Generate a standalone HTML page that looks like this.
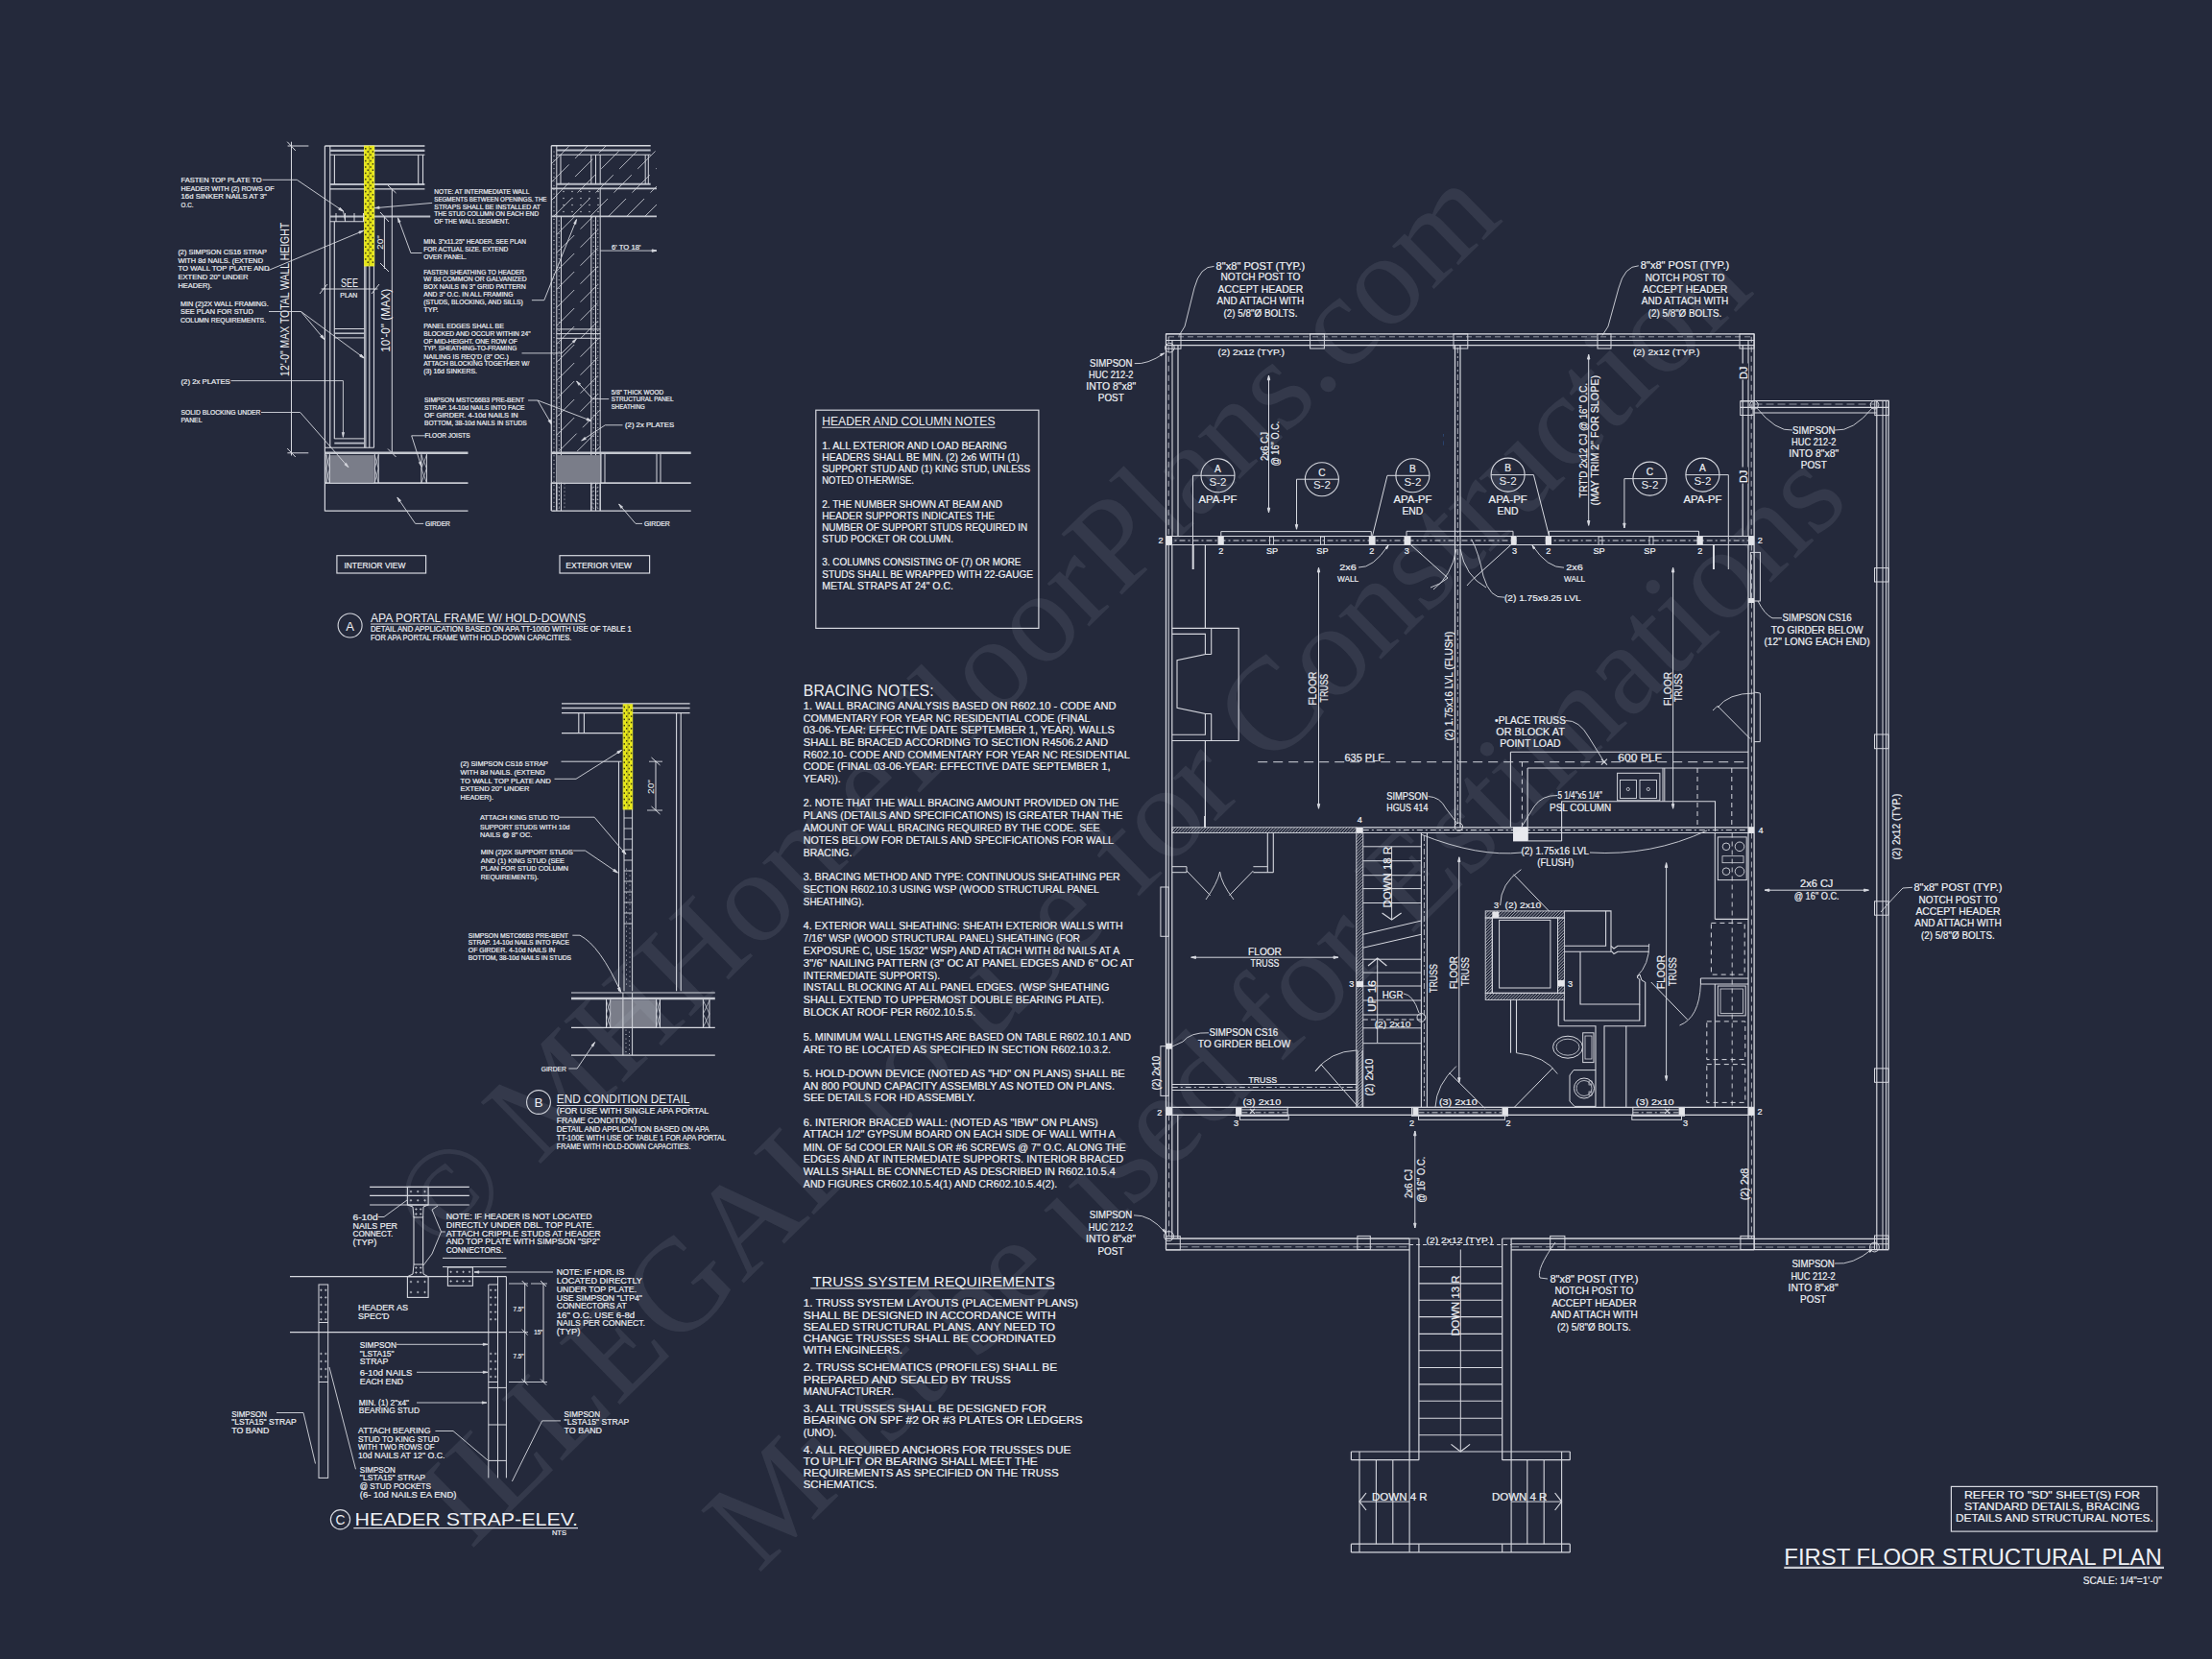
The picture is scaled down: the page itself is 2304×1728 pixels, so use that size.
<!DOCTYPE html>
<html><head><meta charset="utf-8"><style>
html,body{margin:0;padding:0;background:#24293b;}
svg{display:block;}
text{font-family:"Liberation Sans",sans-serif;}
.wm{font-family:"Liberation Serif",serif;}
</style></head><body>
<svg width="2304" height="1728" viewBox="0 0 2304 1728">
<rect width="2304" height="1728" fill="#24293b"/>
<line x1="303.5" y1="147.7" x2="303.5" y2="474.5" stroke="#d6d8df" stroke-width="1.0"/>
<line x1="299.6" y1="152.0" x2="321.4" y2="152.0" stroke="#d6d8df" stroke-width="1.0"/>
<line x1="299.2" y1="147.7" x2="307.8" y2="156.9" stroke="#d6d8df" stroke-width="1.0"/>
<line x1="299.4" y1="471.8" x2="321.3" y2="471.8" stroke="#d6d8df" stroke-width="1.0"/>
<line x1="299.2" y1="467.0" x2="307.8" y2="476.0" stroke="#d6d8df" stroke-width="1.0"/>
<text x="301.0" y="391.9" font-size="12.50" font-weight="400" textLength="160.0" lengthAdjust="spacingAndGlyphs" transform="rotate(-90 301.0 391.9)" fill="#eef0f4">12'-0" MAX TOTAL WALL HEIGHT</text>
<line x1="338.4" y1="152.0" x2="338.4" y2="532.5" stroke="#d6d8df" stroke-width="1.2"/>
<line x1="343.8" y1="152.0" x2="343.8" y2="466.3" stroke="#d6d8df" stroke-width="1.1"/>
<line x1="338.4" y1="152.0" x2="442.4" y2="152.0" stroke="#d6d8df" stroke-width="1.6"/>
<line x1="343.8" y1="156.9" x2="442.4" y2="156.9" stroke="#b8bcc6" stroke-width="2.2"/>
<line x1="343.8" y1="161.2" x2="442.4" y2="161.2" stroke="#d6d8df" stroke-width="1.1"/>
<line x1="343.8" y1="192.1" x2="442.4" y2="192.1" stroke="#b8bcc6" stroke-width="2.0"/>
<line x1="343.8" y1="196.9" x2="442.4" y2="196.9" stroke="#d6d8df" stroke-width="1.1"/>
<line x1="348.4" y1="161.2" x2="348.4" y2="192.1" stroke="#d6d8df" stroke-width="1.1"/>
<line x1="435.7" y1="161.2" x2="435.7" y2="192.1" stroke="#d6d8df" stroke-width="1.1"/>
<line x1="440.5" y1="161.2" x2="440.5" y2="192.1" stroke="#d6d8df" stroke-width="1.1"/>
<line x1="343.8" y1="225.4" x2="448.2" y2="225.4" stroke="#b8bcc6" stroke-width="2.0"/>
<line x1="343.8" y1="230.7" x2="379.0" y2="230.7" stroke="#d6d8df" stroke-width="1.1"/>
<line x1="350.0" y1="222.0" x2="350.0" y2="231.0" stroke="#d6d8df" stroke-width="1.0"/>
<line x1="359.5" y1="222.0" x2="359.5" y2="231.0" stroke="#d6d8df" stroke-width="1.0"/>
<line x1="369.0" y1="222.0" x2="369.0" y2="231.0" stroke="#d6d8df" stroke-width="1.0"/>
<line x1="378.5" y1="222.0" x2="378.5" y2="231.0" stroke="#d6d8df" stroke-width="1.0"/>
<line x1="348.3" y1="230.7" x2="348.3" y2="456.9" stroke="#d6d8df" stroke-width="1.1"/>
<line x1="380.9" y1="230.0" x2="380.9" y2="466.3" stroke="#d6d8df" stroke-width="1.1"/>
<line x1="384.8" y1="277.0" x2="384.8" y2="466.3" stroke="#d6d8df" stroke-width="1.1"/>
<line x1="389.5" y1="152.0" x2="389.5" y2="466.3" stroke="#d6d8df" stroke-width="1.1"/>
<line x1="379.7" y1="277.0" x2="379.7" y2="466.3" stroke="#d6d8df" stroke-width="1.0"/>
<line x1="348.3" y1="342.5" x2="379.5" y2="342.5" stroke="#d6d8df" stroke-width="1.0"/>
<line x1="348.3" y1="347.2" x2="379.5" y2="347.2" stroke="#b8bcc6" stroke-width="1.6"/>
<line x1="348.3" y1="351.9" x2="379.5" y2="351.9" stroke="#d6d8df" stroke-width="1.0"/>
<line x1="348.3" y1="456.9" x2="379.5" y2="456.9" stroke="#d6d8df" stroke-width="1.0"/>
<line x1="348.3" y1="461.6" x2="379.5" y2="461.6" stroke="#b8bcc6" stroke-width="1.8"/>
<line x1="338.4" y1="466.3" x2="389.5" y2="466.3" stroke="#d6d8df" stroke-width="1.1"/>
<line x1="408.3" y1="196.9" x2="408.3" y2="471.8" stroke="#d6d8df" stroke-width="1.0"/>
<line x1="404.0" y1="193.0" x2="412.5" y2="201.0" stroke="#d6d8df" stroke-width="1.0"/>
<line x1="404.0" y1="467.5" x2="412.5" y2="476.0" stroke="#d6d8df" stroke-width="1.0"/>
<text x="406.5" y="366.8" font-size="12.06" font-weight="400" textLength="66.0" lengthAdjust="spacingAndGlyphs" transform="rotate(-90 406.5 366.8)" fill="#eef0f4">10'-0" (MAX)</text>
<line x1="400.4" y1="225.4" x2="400.4" y2="280.0" stroke="#d6d8df" stroke-width="1.0"/>
<line x1="396.0" y1="221.0" x2="405.0" y2="231.0" stroke="#d6d8df" stroke-width="1.0"/>
<line x1="396.0" y1="274.0" x2="405.0" y2="283.0" stroke="#d6d8df" stroke-width="1.0"/>
<text x="398.5" y="260.0" font-size="9.45" font-weight="400" textLength="15.0" lengthAdjust="spacingAndGlyphs" transform="rotate(-90 398.5 260.0)" fill="#eef0f4">20"</text>
<text x="355.0" y="298.6" font-size="11.92" font-weight="400" textLength="18.0" lengthAdjust="spacingAndGlyphs" fill="#eef0f4">SEE</text>
<text x="354.3" y="309.6" font-size="7.27" textLength="18.0" lengthAdjust="spacingAndGlyphs" fill="#eef0f4" stroke="#eef0f4" stroke-width="0.2">PLAN</text>
<line x1="334.7" y1="301.0" x2="393.4" y2="301.0" stroke="#d6d8df" stroke-width="1.0"/>
<line x1="333.0" y1="306.0" x2="341.0" y2="296.0" stroke="#d6d8df" stroke-width="1.0"/>
<line x1="387.0" y1="306.0" x2="395.0" y2="296.0" stroke="#d6d8df" stroke-width="1.0"/>
<line x1="338.6" y1="471.8" x2="487.5" y2="471.8" stroke="#c4c7cf" stroke-width="2.4"/>
<line x1="338.6" y1="503.1" x2="487.5" y2="503.1" stroke="#c4c7cf" stroke-width="1.6"/>
<line x1="338.6" y1="532.1" x2="487.5" y2="532.1" stroke="#d6d8df" stroke-width="1.3"/>
<rect x="343.3" y="474.1" width="46.2" height="28.3" fill="#7a7d89"/>
<line x1="340.0" y1="473.0" x2="340.0" y2="503.0" stroke="#d6d8df" stroke-width="1.0"/>
<line x1="343.3" y1="473.0" x2="343.3" y2="503.0" stroke="#d6d8df" stroke-width="1.0"/>
<line x1="390.3" y1="473.0" x2="390.3" y2="503.0" stroke="#d6d8df" stroke-width="1.0"/>
<line x1="394.2" y1="473.0" x2="394.2" y2="503.0" stroke="#d6d8df" stroke-width="1.0"/>
<line x1="438.9" y1="473.0" x2="438.9" y2="503.0" stroke="#d6d8df" stroke-width="1.0"/>
<line x1="444.4" y1="473.0" x2="444.4" y2="503.0" stroke="#d6d8df" stroke-width="1.0"/>
<line x1="340.0" y1="474.0" x2="343.3" y2="488.0" stroke="#d6d8df" stroke-width="0.7"/>
<line x1="343.3" y1="474.0" x2="340.0" y2="488.0" stroke="#d6d8df" stroke-width="0.7"/>
<line x1="340.0" y1="488.0" x2="343.3" y2="503.0" stroke="#d6d8df" stroke-width="0.7"/>
<line x1="343.3" y1="488.0" x2="340.0" y2="503.0" stroke="#d6d8df" stroke-width="0.7"/>
<line x1="390.3" y1="474.0" x2="394.2" y2="488.0" stroke="#d6d8df" stroke-width="0.7"/>
<line x1="394.2" y1="474.0" x2="390.3" y2="488.0" stroke="#d6d8df" stroke-width="0.7"/>
<line x1="390.3" y1="488.0" x2="394.2" y2="503.0" stroke="#d6d8df" stroke-width="0.7"/>
<line x1="394.2" y1="488.0" x2="390.3" y2="503.0" stroke="#d6d8df" stroke-width="0.7"/>
<line x1="438.9" y1="474.0" x2="444.4" y2="488.0" stroke="#d6d8df" stroke-width="0.7"/>
<line x1="444.4" y1="474.0" x2="438.9" y2="488.0" stroke="#d6d8df" stroke-width="0.7"/>
<line x1="438.9" y1="488.0" x2="444.4" y2="503.0" stroke="#d6d8df" stroke-width="0.7"/>
<line x1="444.4" y1="488.0" x2="438.9" y2="503.0" stroke="#d6d8df" stroke-width="0.7"/>
<rect x="379.4" y="152.0" width="10.4" height="125.0" fill="#e6e619"/>
<rect x="379.4" y="152.0" width="10.4" height="125.0" fill="none" stroke="#f2f23a" stroke-width="0.8"/>
<rect x="380.1" y="154.0" width="1.4" height="1.6" fill="#3a3a10"/>
<rect x="385.3" y="154.0" width="1.4" height="1.6" fill="#3a3a10"/>
<rect x="382.5" y="157.2" width="1.4" height="1.6" fill="#3a3a10"/>
<rect x="387.7" y="157.2" width="1.4" height="1.6" fill="#3a3a10"/>
<rect x="380.1" y="160.4" width="1.4" height="1.6" fill="#3a3a10"/>
<rect x="385.3" y="160.4" width="1.4" height="1.6" fill="#3a3a10"/>
<rect x="382.5" y="163.6" width="1.4" height="1.6" fill="#3a3a10"/>
<rect x="387.7" y="163.6" width="1.4" height="1.6" fill="#3a3a10"/>
<rect x="380.1" y="166.8" width="1.4" height="1.6" fill="#3a3a10"/>
<rect x="385.3" y="166.8" width="1.4" height="1.6" fill="#3a3a10"/>
<rect x="382.5" y="170.0" width="1.4" height="1.6" fill="#3a3a10"/>
<rect x="387.7" y="170.0" width="1.4" height="1.6" fill="#3a3a10"/>
<rect x="380.1" y="173.2" width="1.4" height="1.6" fill="#3a3a10"/>
<rect x="385.3" y="173.2" width="1.4" height="1.6" fill="#3a3a10"/>
<rect x="382.5" y="176.4" width="1.4" height="1.6" fill="#3a3a10"/>
<rect x="387.7" y="176.4" width="1.4" height="1.6" fill="#3a3a10"/>
<rect x="380.1" y="179.6" width="1.4" height="1.6" fill="#3a3a10"/>
<rect x="385.3" y="179.6" width="1.4" height="1.6" fill="#3a3a10"/>
<rect x="382.5" y="182.8" width="1.4" height="1.6" fill="#3a3a10"/>
<rect x="387.7" y="182.8" width="1.4" height="1.6" fill="#3a3a10"/>
<rect x="380.1" y="186.0" width="1.4" height="1.6" fill="#3a3a10"/>
<rect x="385.3" y="186.0" width="1.4" height="1.6" fill="#3a3a10"/>
<rect x="382.5" y="189.2" width="1.4" height="1.6" fill="#3a3a10"/>
<rect x="387.7" y="189.2" width="1.4" height="1.6" fill="#3a3a10"/>
<rect x="380.1" y="192.4" width="1.4" height="1.6" fill="#3a3a10"/>
<rect x="385.3" y="192.4" width="1.4" height="1.6" fill="#3a3a10"/>
<rect x="382.5" y="195.6" width="1.4" height="1.6" fill="#3a3a10"/>
<rect x="387.7" y="195.6" width="1.4" height="1.6" fill="#3a3a10"/>
<rect x="380.1" y="198.8" width="1.4" height="1.6" fill="#3a3a10"/>
<rect x="385.3" y="198.8" width="1.4" height="1.6" fill="#3a3a10"/>
<rect x="382.5" y="202.0" width="1.4" height="1.6" fill="#3a3a10"/>
<rect x="387.7" y="202.0" width="1.4" height="1.6" fill="#3a3a10"/>
<rect x="380.1" y="205.2" width="1.4" height="1.6" fill="#3a3a10"/>
<rect x="385.3" y="205.2" width="1.4" height="1.6" fill="#3a3a10"/>
<rect x="382.5" y="208.4" width="1.4" height="1.6" fill="#3a3a10"/>
<rect x="387.7" y="208.4" width="1.4" height="1.6" fill="#3a3a10"/>
<rect x="380.1" y="211.6" width="1.4" height="1.6" fill="#3a3a10"/>
<rect x="385.3" y="211.6" width="1.4" height="1.6" fill="#3a3a10"/>
<rect x="382.5" y="214.8" width="1.4" height="1.6" fill="#3a3a10"/>
<rect x="387.7" y="214.8" width="1.4" height="1.6" fill="#3a3a10"/>
<rect x="380.1" y="218.0" width="1.4" height="1.6" fill="#3a3a10"/>
<rect x="385.3" y="218.0" width="1.4" height="1.6" fill="#3a3a10"/>
<rect x="382.5" y="221.2" width="1.4" height="1.6" fill="#3a3a10"/>
<rect x="387.7" y="221.2" width="1.4" height="1.6" fill="#3a3a10"/>
<rect x="380.1" y="224.4" width="1.4" height="1.6" fill="#3a3a10"/>
<rect x="385.3" y="224.4" width="1.4" height="1.6" fill="#3a3a10"/>
<rect x="382.5" y="227.6" width="1.4" height="1.6" fill="#3a3a10"/>
<rect x="387.7" y="227.6" width="1.4" height="1.6" fill="#3a3a10"/>
<rect x="380.1" y="230.8" width="1.4" height="1.6" fill="#3a3a10"/>
<rect x="385.3" y="230.8" width="1.4" height="1.6" fill="#3a3a10"/>
<rect x="382.5" y="234.0" width="1.4" height="1.6" fill="#3a3a10"/>
<rect x="387.7" y="234.0" width="1.4" height="1.6" fill="#3a3a10"/>
<rect x="380.1" y="237.2" width="1.4" height="1.6" fill="#3a3a10"/>
<rect x="385.3" y="237.2" width="1.4" height="1.6" fill="#3a3a10"/>
<rect x="382.5" y="240.4" width="1.4" height="1.6" fill="#3a3a10"/>
<rect x="387.7" y="240.4" width="1.4" height="1.6" fill="#3a3a10"/>
<rect x="380.1" y="243.6" width="1.4" height="1.6" fill="#3a3a10"/>
<rect x="385.3" y="243.6" width="1.4" height="1.6" fill="#3a3a10"/>
<rect x="382.5" y="246.8" width="1.4" height="1.6" fill="#3a3a10"/>
<rect x="387.7" y="246.8" width="1.4" height="1.6" fill="#3a3a10"/>
<rect x="380.1" y="250.0" width="1.4" height="1.6" fill="#3a3a10"/>
<rect x="385.3" y="250.0" width="1.4" height="1.6" fill="#3a3a10"/>
<rect x="382.5" y="253.2" width="1.4" height="1.6" fill="#3a3a10"/>
<rect x="387.7" y="253.2" width="1.4" height="1.6" fill="#3a3a10"/>
<rect x="380.1" y="256.4" width="1.4" height="1.6" fill="#3a3a10"/>
<rect x="385.3" y="256.4" width="1.4" height="1.6" fill="#3a3a10"/>
<rect x="382.5" y="259.6" width="1.4" height="1.6" fill="#3a3a10"/>
<rect x="387.7" y="259.6" width="1.4" height="1.6" fill="#3a3a10"/>
<rect x="380.1" y="262.8" width="1.4" height="1.6" fill="#3a3a10"/>
<rect x="385.3" y="262.8" width="1.4" height="1.6" fill="#3a3a10"/>
<rect x="382.5" y="266.0" width="1.4" height="1.6" fill="#3a3a10"/>
<rect x="387.7" y="266.0" width="1.4" height="1.6" fill="#3a3a10"/>
<rect x="380.1" y="269.2" width="1.4" height="1.6" fill="#3a3a10"/>
<rect x="385.3" y="269.2" width="1.4" height="1.6" fill="#3a3a10"/>
<rect x="382.5" y="272.4" width="1.4" height="1.6" fill="#3a3a10"/>
<rect x="387.7" y="272.4" width="1.4" height="1.6" fill="#3a3a10"/>
<line x1="384.6" y1="152.0" x2="384.6" y2="277.0" stroke="#8a8a20" stroke-width="0.6"/>
<polyline points="273.5,187.3 309.3,187.3 357.5,220.0" fill="none" stroke="#d6d8df" stroke-width="0.9"/>
<line x1="357.5" y1="220.0" x2="359.5" y2="230.0" stroke="#d6d8df" stroke-width="0.9"/>
<polygon points="352.8,218.3 357.5,220.0 354.2,216.3" fill="#d6d8df" stroke="#d6d8df" stroke-width="1.0"/>
<polyline points="450.1,211.4 390.3,216.7" fill="none" stroke="#d6d8df" stroke-width="0.9"/>
<polygon points="395.0,215.0 390.3,216.7 395.2,217.5" fill="#d6d8df" stroke="#d6d8df" stroke-width="0.6"/>
<polyline points="439.5,263.5 427.9,263.5 414.4,226.8" fill="none" stroke="#d6d8df" stroke-width="0.9"/>
<polygon points="417.2,230.9 414.4,226.8 414.9,231.8" fill="#d6d8df" stroke="#d6d8df" stroke-width="0.6"/>
<polyline points="279.0,281.8 378.7,240.3" fill="none" stroke="#d6d8df" stroke-width="0.9"/>
<polygon points="374.7,243.3 378.7,240.3 373.8,241.0" fill="#d6d8df" stroke="#d6d8df" stroke-width="0.6"/>
<polyline points="280.0,324.5 313.5,324.5 337.8,353.5" fill="none" stroke="#d6d8df" stroke-width="0.9"/>
<polygon points="333.7,350.6 337.8,353.5 335.6,349.0" fill="#d6d8df" stroke="#d6d8df" stroke-width="1.0"/>
<line x1="313.5" y1="324.5" x2="379.3" y2="373.0" stroke="#d6d8df" stroke-width="0.9"/>
<polygon points="374.7,371.1 379.3,373.0 376.1,369.1" fill="#d6d8df" stroke="#d6d8df" stroke-width="1.0"/>
<polyline points="240.5,396.6 357.4,396.6 357.4,455.3" fill="none" stroke="#d6d8df" stroke-width="0.9"/>
<polygon points="356.2,450.5 357.4,455.3 358.6,450.5" fill="#d6d8df" stroke="#d6d8df" stroke-width="0.6"/>
<polyline points="272.0,429.5 312.7,429.5 362.9,486.7" fill="none" stroke="#d6d8df" stroke-width="0.9"/>
<polygon points="358.8,483.9 362.9,486.7 360.6,482.2" fill="#d6d8df" stroke="#d6d8df" stroke-width="0.6"/>
<polyline points="442.8,453.8 428.7,453.8 438.9,485.9" fill="none" stroke="#d6d8df" stroke-width="0.9"/>
<polygon points="436.3,481.7 438.9,485.9 438.6,480.9" fill="#d6d8df" stroke="#d6d8df" stroke-width="0.6"/>
<polyline points="441.2,545.4 432.6,545.4 413.8,518.0" fill="none" stroke="#d6d8df" stroke-width="0.9"/>
<polygon points="417.6,521.3 413.8,518.0 415.5,522.7" fill="#d6d8df" stroke="#d6d8df" stroke-width="0.6"/>
<line x1="574.3" y1="151.8" x2="574.3" y2="532.1" stroke="#d6d8df" stroke-width="1.2"/>
<line x1="579.8" y1="151.8" x2="579.8" y2="532.1" stroke="#d6d8df" stroke-width="1.0"/>
<line x1="574.3" y1="151.8" x2="677.7" y2="151.8" stroke="#d6d8df" stroke-width="1.4"/>
<line x1="579.8" y1="156.4" x2="677.7" y2="156.4" stroke="#b8bcc6" stroke-width="2.0"/>
<line x1="579.8" y1="161.2" x2="677.7" y2="161.2" stroke="#d6d8df" stroke-width="1.0"/>
<line x1="579.8" y1="191.7" x2="677.7" y2="191.7" stroke="#b8bcc6" stroke-width="2.0"/>
<line x1="584.0" y1="161.2" x2="584.0" y2="191.7" stroke="#d6d8df" stroke-width="1.0"/>
<line x1="615.8" y1="161.2" x2="615.8" y2="191.7" stroke="#d6d8df" stroke-width="1.0"/>
<line x1="620.5" y1="161.2" x2="620.5" y2="191.7" stroke="#d6d8df" stroke-width="1.0"/>
<line x1="625.2" y1="161.2" x2="625.2" y2="191.7" stroke="#d6d8df" stroke-width="1.0"/>
<line x1="672.2" y1="161.2" x2="672.2" y2="191.7" stroke="#d6d8df" stroke-width="1.0"/>
<line x1="675.3" y1="161.2" x2="675.3" y2="191.7" stroke="#d6d8df" stroke-width="1.0"/>
<line x1="574.3" y1="196.4" x2="684.0" y2="196.4" stroke="#c4c7cf" stroke-width="1.6"/>
<line x1="574.3" y1="225.4" x2="684.0" y2="225.4" stroke="#c4c7cf" stroke-width="1.8"/>
<line x1="625.2" y1="196.4" x2="625.2" y2="225.4" stroke="#d6d8df" stroke-width="1.0"/>
<line x1="584.5" y1="225.4" x2="584.5" y2="532.1" stroke="#d6d8df" stroke-width="1.0"/>
<line x1="615.8" y1="225.4" x2="615.8" y2="532.1" stroke="#d6d8df" stroke-width="1.0"/>
<line x1="620.5" y1="225.4" x2="620.5" y2="532.1" stroke="#d6d8df" stroke-width="1.0"/>
<line x1="625.2" y1="225.4" x2="625.2" y2="532.1" stroke="#d6d8df" stroke-width="1.0"/>
<line x1="579.8" y1="342.9" x2="625.2" y2="342.9" stroke="#d6d8df" stroke-width="1.0"/>
<line x1="579.8" y1="347.6" x2="625.2" y2="347.6" stroke="#d6d8df" stroke-width="1.0"/>
<line x1="579.8" y1="352.3" x2="625.2" y2="352.3" stroke="#d6d8df" stroke-width="1.0"/>
<circle cx="587" cy="199.5" r="0.7" fill="#d6d8df"/>
<circle cx="596" cy="199.5" r="0.7" fill="#d6d8df"/>
<circle cx="605" cy="199.5" r="0.7" fill="#d6d8df"/>
<circle cx="614" cy="199.5" r="0.7" fill="#d6d8df"/>
<circle cx="623" cy="199.5" r="0.7" fill="#d6d8df"/>
<circle cx="587" cy="206.5" r="0.7" fill="#d6d8df"/>
<circle cx="596" cy="206.5" r="0.7" fill="#d6d8df"/>
<circle cx="605" cy="206.5" r="0.7" fill="#d6d8df"/>
<circle cx="614" cy="206.5" r="0.7" fill="#d6d8df"/>
<circle cx="623" cy="206.5" r="0.7" fill="#d6d8df"/>
<circle cx="587" cy="213.5" r="0.7" fill="#d6d8df"/>
<circle cx="596" cy="213.5" r="0.7" fill="#d6d8df"/>
<circle cx="605" cy="213.5" r="0.7" fill="#d6d8df"/>
<circle cx="614" cy="213.5" r="0.7" fill="#d6d8df"/>
<circle cx="623" cy="213.5" r="0.7" fill="#d6d8df"/>
<circle cx="587" cy="220.5" r="0.7" fill="#d6d8df"/>
<circle cx="596" cy="220.5" r="0.7" fill="#d6d8df"/>
<circle cx="605" cy="220.5" r="0.7" fill="#d6d8df"/>
<circle cx="614" cy="220.5" r="0.7" fill="#d6d8df"/>
<circle cx="623" cy="220.5" r="0.7" fill="#d6d8df"/>
<circle cx="577.0" cy="158.0" r="0.55" fill="#d6d8df"/>
<circle cx="577.0" cy="162.4" r="0.55" fill="#d6d8df"/>
<circle cx="577.0" cy="166.8" r="0.55" fill="#d6d8df"/>
<circle cx="577.0" cy="171.2" r="0.55" fill="#d6d8df"/>
<circle cx="577.0" cy="175.6" r="0.55" fill="#d6d8df"/>
<circle cx="577.0" cy="180.0" r="0.55" fill="#d6d8df"/>
<circle cx="577.0" cy="184.4" r="0.55" fill="#d6d8df"/>
<circle cx="577.0" cy="188.8" r="0.55" fill="#d6d8df"/>
<circle cx="577.0" cy="193.2" r="0.55" fill="#d6d8df"/>
<circle cx="577.0" cy="197.6" r="0.55" fill="#d6d8df"/>
<circle cx="577.0" cy="202.0" r="0.55" fill="#d6d8df"/>
<circle cx="577.0" cy="206.4" r="0.55" fill="#d6d8df"/>
<circle cx="577.0" cy="210.8" r="0.55" fill="#d6d8df"/>
<circle cx="577.0" cy="215.2" r="0.55" fill="#d6d8df"/>
<circle cx="577.0" cy="219.6" r="0.55" fill="#d6d8df"/>
<circle cx="577.0" cy="224.0" r="0.55" fill="#d6d8df"/>
<circle cx="577.0" cy="228.4" r="0.55" fill="#d6d8df"/>
<circle cx="577.0" cy="232.8" r="0.55" fill="#d6d8df"/>
<circle cx="577.0" cy="237.2" r="0.55" fill="#d6d8df"/>
<circle cx="577.0" cy="241.6" r="0.55" fill="#d6d8df"/>
<circle cx="577.0" cy="246.0" r="0.55" fill="#d6d8df"/>
<circle cx="577.0" cy="250.4" r="0.55" fill="#d6d8df"/>
<circle cx="577.0" cy="254.8" r="0.55" fill="#d6d8df"/>
<circle cx="577.0" cy="259.2" r="0.55" fill="#d6d8df"/>
<circle cx="577.0" cy="263.6" r="0.55" fill="#d6d8df"/>
<circle cx="577.0" cy="268.0" r="0.55" fill="#d6d8df"/>
<circle cx="577.0" cy="272.4" r="0.55" fill="#d6d8df"/>
<circle cx="577.0" cy="276.8" r="0.55" fill="#d6d8df"/>
<circle cx="577.0" cy="281.2" r="0.55" fill="#d6d8df"/>
<circle cx="577.0" cy="285.6" r="0.55" fill="#d6d8df"/>
<circle cx="577.0" cy="290.0" r="0.55" fill="#d6d8df"/>
<circle cx="577.0" cy="294.4" r="0.55" fill="#d6d8df"/>
<circle cx="577.0" cy="298.8" r="0.55" fill="#d6d8df"/>
<circle cx="577.0" cy="303.2" r="0.55" fill="#d6d8df"/>
<circle cx="577.0" cy="307.6" r="0.55" fill="#d6d8df"/>
<circle cx="577.0" cy="312.0" r="0.55" fill="#d6d8df"/>
<circle cx="577.0" cy="316.4" r="0.55" fill="#d6d8df"/>
<circle cx="577.0" cy="320.8" r="0.55" fill="#d6d8df"/>
<circle cx="577.0" cy="325.2" r="0.55" fill="#d6d8df"/>
<circle cx="577.0" cy="329.6" r="0.55" fill="#d6d8df"/>
<circle cx="577.0" cy="334.0" r="0.55" fill="#d6d8df"/>
<circle cx="577.0" cy="338.4" r="0.55" fill="#d6d8df"/>
<circle cx="577.0" cy="342.8" r="0.55" fill="#d6d8df"/>
<circle cx="577.0" cy="347.2" r="0.55" fill="#d6d8df"/>
<circle cx="577.0" cy="351.6" r="0.55" fill="#d6d8df"/>
<circle cx="577.0" cy="356.0" r="0.55" fill="#d6d8df"/>
<circle cx="577.0" cy="360.4" r="0.55" fill="#d6d8df"/>
<circle cx="577.0" cy="364.8" r="0.55" fill="#d6d8df"/>
<circle cx="577.0" cy="369.2" r="0.55" fill="#d6d8df"/>
<circle cx="577.0" cy="373.6" r="0.55" fill="#d6d8df"/>
<circle cx="577.0" cy="378.0" r="0.55" fill="#d6d8df"/>
<circle cx="577.0" cy="382.4" r="0.55" fill="#d6d8df"/>
<circle cx="577.0" cy="386.8" r="0.55" fill="#d6d8df"/>
<circle cx="577.0" cy="391.2" r="0.55" fill="#d6d8df"/>
<circle cx="577.0" cy="395.6" r="0.55" fill="#d6d8df"/>
<circle cx="577.0" cy="400.0" r="0.55" fill="#d6d8df"/>
<circle cx="577.0" cy="404.4" r="0.55" fill="#d6d8df"/>
<circle cx="577.0" cy="408.8" r="0.55" fill="#d6d8df"/>
<circle cx="577.0" cy="413.2" r="0.55" fill="#d6d8df"/>
<circle cx="577.0" cy="417.6" r="0.55" fill="#d6d8df"/>
<circle cx="577.0" cy="422.0" r="0.55" fill="#d6d8df"/>
<circle cx="577.0" cy="426.4" r="0.55" fill="#d6d8df"/>
<circle cx="577.0" cy="430.8" r="0.55" fill="#d6d8df"/>
<circle cx="577.0" cy="435.2" r="0.55" fill="#d6d8df"/>
<circle cx="577.0" cy="439.6" r="0.55" fill="#d6d8df"/>
<circle cx="577.0" cy="444.0" r="0.55" fill="#d6d8df"/>
<circle cx="577.0" cy="448.4" r="0.55" fill="#d6d8df"/>
<circle cx="577.0" cy="452.8" r="0.55" fill="#d6d8df"/>
<circle cx="577.0" cy="457.2" r="0.55" fill="#d6d8df"/>
<circle cx="577.0" cy="461.6" r="0.55" fill="#d6d8df"/>
<circle cx="577.0" cy="466.0" r="0.55" fill="#d6d8df"/>
<circle cx="577.0" cy="470.4" r="0.55" fill="#d6d8df"/>
<circle cx="577.0" cy="474.8" r="0.55" fill="#d6d8df"/>
<circle cx="577.0" cy="479.2" r="0.55" fill="#d6d8df"/>
<circle cx="577.0" cy="483.6" r="0.55" fill="#d6d8df"/>
<circle cx="577.0" cy="488.0" r="0.55" fill="#d6d8df"/>
<circle cx="577.0" cy="492.4" r="0.55" fill="#d6d8df"/>
<circle cx="577.0" cy="496.8" r="0.55" fill="#d6d8df"/>
<circle cx="577.0" cy="501.2" r="0.55" fill="#d6d8df"/>
<circle cx="577.0" cy="505.6" r="0.55" fill="#d6d8df"/>
<circle cx="577.0" cy="510.0" r="0.55" fill="#d6d8df"/>
<circle cx="577.0" cy="514.4" r="0.55" fill="#d6d8df"/>
<circle cx="577.0" cy="518.8" r="0.55" fill="#d6d8df"/>
<circle cx="577.0" cy="523.2" r="0.55" fill="#d6d8df"/>
<circle cx="577.0" cy="527.6" r="0.55" fill="#d6d8df"/>
<circle cx="577.0" cy="532.0" r="0.55" fill="#d6d8df"/>
<circle cx="582.2" cy="230.0" r="0.55" fill="#d6d8df"/>
<circle cx="582.2" cy="234.4" r="0.55" fill="#d6d8df"/>
<circle cx="582.2" cy="238.8" r="0.55" fill="#d6d8df"/>
<circle cx="582.2" cy="243.2" r="0.55" fill="#d6d8df"/>
<circle cx="582.2" cy="247.6" r="0.55" fill="#d6d8df"/>
<circle cx="582.2" cy="252.0" r="0.55" fill="#d6d8df"/>
<circle cx="582.2" cy="256.4" r="0.55" fill="#d6d8df"/>
<circle cx="582.2" cy="260.8" r="0.55" fill="#d6d8df"/>
<circle cx="582.2" cy="265.2" r="0.55" fill="#d6d8df"/>
<circle cx="582.2" cy="269.6" r="0.55" fill="#d6d8df"/>
<circle cx="582.2" cy="274.0" r="0.55" fill="#d6d8df"/>
<circle cx="582.2" cy="278.4" r="0.55" fill="#d6d8df"/>
<circle cx="582.2" cy="282.8" r="0.55" fill="#d6d8df"/>
<circle cx="582.2" cy="287.2" r="0.55" fill="#d6d8df"/>
<circle cx="582.2" cy="291.6" r="0.55" fill="#d6d8df"/>
<circle cx="582.2" cy="296.0" r="0.55" fill="#d6d8df"/>
<circle cx="582.2" cy="300.4" r="0.55" fill="#d6d8df"/>
<circle cx="582.2" cy="304.8" r="0.55" fill="#d6d8df"/>
<circle cx="582.2" cy="309.2" r="0.55" fill="#d6d8df"/>
<circle cx="582.2" cy="313.6" r="0.55" fill="#d6d8df"/>
<circle cx="582.2" cy="318.0" r="0.55" fill="#d6d8df"/>
<circle cx="582.2" cy="322.4" r="0.55" fill="#d6d8df"/>
<circle cx="582.2" cy="326.8" r="0.55" fill="#d6d8df"/>
<circle cx="582.2" cy="331.2" r="0.55" fill="#d6d8df"/>
<circle cx="582.2" cy="335.6" r="0.55" fill="#d6d8df"/>
<circle cx="582.2" cy="340.0" r="0.55" fill="#d6d8df"/>
<circle cx="582.2" cy="344.4" r="0.55" fill="#d6d8df"/>
<circle cx="582.2" cy="348.8" r="0.55" fill="#d6d8df"/>
<circle cx="582.2" cy="353.2" r="0.55" fill="#d6d8df"/>
<circle cx="582.2" cy="357.6" r="0.55" fill="#d6d8df"/>
<circle cx="582.2" cy="362.0" r="0.55" fill="#d6d8df"/>
<circle cx="582.2" cy="366.4" r="0.55" fill="#d6d8df"/>
<circle cx="582.2" cy="370.8" r="0.55" fill="#d6d8df"/>
<circle cx="582.2" cy="375.2" r="0.55" fill="#d6d8df"/>
<circle cx="582.2" cy="379.6" r="0.55" fill="#d6d8df"/>
<circle cx="582.2" cy="384.0" r="0.55" fill="#d6d8df"/>
<circle cx="582.2" cy="388.4" r="0.55" fill="#d6d8df"/>
<circle cx="582.2" cy="392.8" r="0.55" fill="#d6d8df"/>
<circle cx="582.2" cy="397.2" r="0.55" fill="#d6d8df"/>
<circle cx="582.2" cy="401.6" r="0.55" fill="#d6d8df"/>
<circle cx="582.2" cy="406.0" r="0.55" fill="#d6d8df"/>
<circle cx="582.2" cy="410.4" r="0.55" fill="#d6d8df"/>
<circle cx="582.2" cy="414.8" r="0.55" fill="#d6d8df"/>
<circle cx="582.2" cy="419.2" r="0.55" fill="#d6d8df"/>
<circle cx="582.2" cy="423.6" r="0.55" fill="#d6d8df"/>
<circle cx="582.2" cy="428.0" r="0.55" fill="#d6d8df"/>
<circle cx="582.2" cy="432.4" r="0.55" fill="#d6d8df"/>
<circle cx="582.2" cy="436.8" r="0.55" fill="#d6d8df"/>
<circle cx="582.2" cy="441.2" r="0.55" fill="#d6d8df"/>
<circle cx="582.2" cy="445.6" r="0.55" fill="#d6d8df"/>
<circle cx="582.2" cy="450.0" r="0.55" fill="#d6d8df"/>
<circle cx="582.2" cy="454.4" r="0.55" fill="#d6d8df"/>
<circle cx="582.2" cy="458.8" r="0.55" fill="#d6d8df"/>
<circle cx="582.2" cy="463.2" r="0.55" fill="#d6d8df"/>
<circle cx="582.2" cy="467.6" r="0.55" fill="#d6d8df"/>
<circle cx="582.2" cy="472.0" r="0.55" fill="#d6d8df"/>
<circle cx="582.2" cy="476.4" r="0.55" fill="#d6d8df"/>
<circle cx="582.2" cy="480.8" r="0.55" fill="#d6d8df"/>
<circle cx="582.2" cy="485.2" r="0.55" fill="#d6d8df"/>
<circle cx="582.2" cy="489.6" r="0.55" fill="#d6d8df"/>
<circle cx="582.2" cy="494.0" r="0.55" fill="#d6d8df"/>
<circle cx="582.2" cy="498.4" r="0.55" fill="#d6d8df"/>
<circle cx="582.2" cy="502.8" r="0.55" fill="#d6d8df"/>
<circle cx="582.2" cy="507.2" r="0.55" fill="#d6d8df"/>
<circle cx="582.2" cy="511.6" r="0.55" fill="#d6d8df"/>
<circle cx="582.2" cy="516.0" r="0.55" fill="#d6d8df"/>
<circle cx="582.2" cy="520.4" r="0.55" fill="#d6d8df"/>
<circle cx="582.2" cy="524.8" r="0.55" fill="#d6d8df"/>
<circle cx="582.2" cy="529.2" r="0.55" fill="#d6d8df"/>
<circle cx="618.2" cy="230.0" r="0.55" fill="#d6d8df"/>
<circle cx="618.2" cy="234.4" r="0.55" fill="#d6d8df"/>
<circle cx="618.2" cy="238.8" r="0.55" fill="#d6d8df"/>
<circle cx="618.2" cy="243.2" r="0.55" fill="#d6d8df"/>
<circle cx="618.2" cy="247.6" r="0.55" fill="#d6d8df"/>
<circle cx="618.2" cy="252.0" r="0.55" fill="#d6d8df"/>
<circle cx="618.2" cy="256.4" r="0.55" fill="#d6d8df"/>
<circle cx="618.2" cy="260.8" r="0.55" fill="#d6d8df"/>
<circle cx="618.2" cy="265.2" r="0.55" fill="#d6d8df"/>
<circle cx="618.2" cy="269.6" r="0.55" fill="#d6d8df"/>
<circle cx="618.2" cy="274.0" r="0.55" fill="#d6d8df"/>
<circle cx="618.2" cy="278.4" r="0.55" fill="#d6d8df"/>
<circle cx="618.2" cy="282.8" r="0.55" fill="#d6d8df"/>
<circle cx="618.2" cy="287.2" r="0.55" fill="#d6d8df"/>
<circle cx="618.2" cy="291.6" r="0.55" fill="#d6d8df"/>
<circle cx="618.2" cy="296.0" r="0.55" fill="#d6d8df"/>
<circle cx="618.2" cy="300.4" r="0.55" fill="#d6d8df"/>
<circle cx="618.2" cy="304.8" r="0.55" fill="#d6d8df"/>
<circle cx="618.2" cy="309.2" r="0.55" fill="#d6d8df"/>
<circle cx="618.2" cy="313.6" r="0.55" fill="#d6d8df"/>
<circle cx="618.2" cy="318.0" r="0.55" fill="#d6d8df"/>
<circle cx="618.2" cy="322.4" r="0.55" fill="#d6d8df"/>
<circle cx="618.2" cy="326.8" r="0.55" fill="#d6d8df"/>
<circle cx="618.2" cy="331.2" r="0.55" fill="#d6d8df"/>
<circle cx="618.2" cy="335.6" r="0.55" fill="#d6d8df"/>
<circle cx="618.2" cy="340.0" r="0.55" fill="#d6d8df"/>
<circle cx="618.2" cy="344.4" r="0.55" fill="#d6d8df"/>
<circle cx="618.2" cy="348.8" r="0.55" fill="#d6d8df"/>
<circle cx="618.2" cy="353.2" r="0.55" fill="#d6d8df"/>
<circle cx="618.2" cy="357.6" r="0.55" fill="#d6d8df"/>
<circle cx="618.2" cy="362.0" r="0.55" fill="#d6d8df"/>
<circle cx="618.2" cy="366.4" r="0.55" fill="#d6d8df"/>
<circle cx="618.2" cy="370.8" r="0.55" fill="#d6d8df"/>
<circle cx="618.2" cy="375.2" r="0.55" fill="#d6d8df"/>
<circle cx="618.2" cy="379.6" r="0.55" fill="#d6d8df"/>
<circle cx="618.2" cy="384.0" r="0.55" fill="#d6d8df"/>
<circle cx="618.2" cy="388.4" r="0.55" fill="#d6d8df"/>
<circle cx="618.2" cy="392.8" r="0.55" fill="#d6d8df"/>
<circle cx="618.2" cy="397.2" r="0.55" fill="#d6d8df"/>
<circle cx="618.2" cy="401.6" r="0.55" fill="#d6d8df"/>
<circle cx="618.2" cy="406.0" r="0.55" fill="#d6d8df"/>
<circle cx="618.2" cy="410.4" r="0.55" fill="#d6d8df"/>
<circle cx="618.2" cy="414.8" r="0.55" fill="#d6d8df"/>
<circle cx="618.2" cy="419.2" r="0.55" fill="#d6d8df"/>
<circle cx="618.2" cy="423.6" r="0.55" fill="#d6d8df"/>
<circle cx="618.2" cy="428.0" r="0.55" fill="#d6d8df"/>
<circle cx="618.2" cy="432.4" r="0.55" fill="#d6d8df"/>
<circle cx="618.2" cy="436.8" r="0.55" fill="#d6d8df"/>
<circle cx="618.2" cy="441.2" r="0.55" fill="#d6d8df"/>
<circle cx="618.2" cy="445.6" r="0.55" fill="#d6d8df"/>
<circle cx="618.2" cy="450.0" r="0.55" fill="#d6d8df"/>
<circle cx="618.2" cy="454.4" r="0.55" fill="#d6d8df"/>
<circle cx="618.2" cy="458.8" r="0.55" fill="#d6d8df"/>
<circle cx="618.2" cy="463.2" r="0.55" fill="#d6d8df"/>
<circle cx="618.2" cy="467.6" r="0.55" fill="#d6d8df"/>
<circle cx="618.2" cy="472.0" r="0.55" fill="#d6d8df"/>
<circle cx="618.2" cy="476.4" r="0.55" fill="#d6d8df"/>
<circle cx="618.2" cy="480.8" r="0.55" fill="#d6d8df"/>
<circle cx="618.2" cy="485.2" r="0.55" fill="#d6d8df"/>
<circle cx="618.2" cy="489.6" r="0.55" fill="#d6d8df"/>
<circle cx="618.2" cy="494.0" r="0.55" fill="#d6d8df"/>
<circle cx="618.2" cy="498.4" r="0.55" fill="#d6d8df"/>
<circle cx="618.2" cy="502.8" r="0.55" fill="#d6d8df"/>
<circle cx="618.2" cy="507.2" r="0.55" fill="#d6d8df"/>
<circle cx="618.2" cy="511.6" r="0.55" fill="#d6d8df"/>
<circle cx="618.2" cy="516.0" r="0.55" fill="#d6d8df"/>
<circle cx="618.2" cy="520.4" r="0.55" fill="#d6d8df"/>
<circle cx="618.2" cy="524.8" r="0.55" fill="#d6d8df"/>
<circle cx="618.2" cy="529.2" r="0.55" fill="#d6d8df"/>
<circle cx="622.8" cy="230.0" r="0.55" fill="#d6d8df"/>
<circle cx="622.8" cy="234.4" r="0.55" fill="#d6d8df"/>
<circle cx="622.8" cy="238.8" r="0.55" fill="#d6d8df"/>
<circle cx="622.8" cy="243.2" r="0.55" fill="#d6d8df"/>
<circle cx="622.8" cy="247.6" r="0.55" fill="#d6d8df"/>
<circle cx="622.8" cy="252.0" r="0.55" fill="#d6d8df"/>
<circle cx="622.8" cy="256.4" r="0.55" fill="#d6d8df"/>
<circle cx="622.8" cy="260.8" r="0.55" fill="#d6d8df"/>
<circle cx="622.8" cy="265.2" r="0.55" fill="#d6d8df"/>
<circle cx="622.8" cy="269.6" r="0.55" fill="#d6d8df"/>
<circle cx="622.8" cy="274.0" r="0.55" fill="#d6d8df"/>
<circle cx="622.8" cy="278.4" r="0.55" fill="#d6d8df"/>
<circle cx="622.8" cy="282.8" r="0.55" fill="#d6d8df"/>
<circle cx="622.8" cy="287.2" r="0.55" fill="#d6d8df"/>
<circle cx="622.8" cy="291.6" r="0.55" fill="#d6d8df"/>
<circle cx="622.8" cy="296.0" r="0.55" fill="#d6d8df"/>
<circle cx="622.8" cy="300.4" r="0.55" fill="#d6d8df"/>
<circle cx="622.8" cy="304.8" r="0.55" fill="#d6d8df"/>
<circle cx="622.8" cy="309.2" r="0.55" fill="#d6d8df"/>
<circle cx="622.8" cy="313.6" r="0.55" fill="#d6d8df"/>
<circle cx="622.8" cy="318.0" r="0.55" fill="#d6d8df"/>
<circle cx="622.8" cy="322.4" r="0.55" fill="#d6d8df"/>
<circle cx="622.8" cy="326.8" r="0.55" fill="#d6d8df"/>
<circle cx="622.8" cy="331.2" r="0.55" fill="#d6d8df"/>
<circle cx="622.8" cy="335.6" r="0.55" fill="#d6d8df"/>
<circle cx="622.8" cy="340.0" r="0.55" fill="#d6d8df"/>
<circle cx="622.8" cy="344.4" r="0.55" fill="#d6d8df"/>
<circle cx="622.8" cy="348.8" r="0.55" fill="#d6d8df"/>
<circle cx="622.8" cy="353.2" r="0.55" fill="#d6d8df"/>
<circle cx="622.8" cy="357.6" r="0.55" fill="#d6d8df"/>
<circle cx="622.8" cy="362.0" r="0.55" fill="#d6d8df"/>
<circle cx="622.8" cy="366.4" r="0.55" fill="#d6d8df"/>
<circle cx="622.8" cy="370.8" r="0.55" fill="#d6d8df"/>
<circle cx="622.8" cy="375.2" r="0.55" fill="#d6d8df"/>
<circle cx="622.8" cy="379.6" r="0.55" fill="#d6d8df"/>
<circle cx="622.8" cy="384.0" r="0.55" fill="#d6d8df"/>
<circle cx="622.8" cy="388.4" r="0.55" fill="#d6d8df"/>
<circle cx="622.8" cy="392.8" r="0.55" fill="#d6d8df"/>
<circle cx="622.8" cy="397.2" r="0.55" fill="#d6d8df"/>
<circle cx="622.8" cy="401.6" r="0.55" fill="#d6d8df"/>
<circle cx="622.8" cy="406.0" r="0.55" fill="#d6d8df"/>
<circle cx="622.8" cy="410.4" r="0.55" fill="#d6d8df"/>
<circle cx="622.8" cy="414.8" r="0.55" fill="#d6d8df"/>
<circle cx="622.8" cy="419.2" r="0.55" fill="#d6d8df"/>
<circle cx="622.8" cy="423.6" r="0.55" fill="#d6d8df"/>
<circle cx="622.8" cy="428.0" r="0.55" fill="#d6d8df"/>
<circle cx="622.8" cy="432.4" r="0.55" fill="#d6d8df"/>
<circle cx="622.8" cy="436.8" r="0.55" fill="#d6d8df"/>
<circle cx="622.8" cy="441.2" r="0.55" fill="#d6d8df"/>
<circle cx="622.8" cy="445.6" r="0.55" fill="#d6d8df"/>
<circle cx="622.8" cy="450.0" r="0.55" fill="#d6d8df"/>
<circle cx="622.8" cy="454.4" r="0.55" fill="#d6d8df"/>
<circle cx="622.8" cy="458.8" r="0.55" fill="#d6d8df"/>
<circle cx="622.8" cy="463.2" r="0.55" fill="#d6d8df"/>
<circle cx="622.8" cy="467.6" r="0.55" fill="#d6d8df"/>
<circle cx="622.8" cy="472.0" r="0.55" fill="#d6d8df"/>
<circle cx="622.8" cy="476.4" r="0.55" fill="#d6d8df"/>
<circle cx="622.8" cy="480.8" r="0.55" fill="#d6d8df"/>
<circle cx="622.8" cy="485.2" r="0.55" fill="#d6d8df"/>
<circle cx="622.8" cy="489.6" r="0.55" fill="#d6d8df"/>
<circle cx="622.8" cy="494.0" r="0.55" fill="#d6d8df"/>
<circle cx="622.8" cy="498.4" r="0.55" fill="#d6d8df"/>
<circle cx="622.8" cy="502.8" r="0.55" fill="#d6d8df"/>
<circle cx="622.8" cy="507.2" r="0.55" fill="#d6d8df"/>
<circle cx="622.8" cy="511.6" r="0.55" fill="#d6d8df"/>
<circle cx="622.8" cy="516.0" r="0.55" fill="#d6d8df"/>
<circle cx="622.8" cy="520.4" r="0.55" fill="#d6d8df"/>
<circle cx="622.8" cy="524.8" r="0.55" fill="#d6d8df"/>
<circle cx="622.8" cy="529.2" r="0.55" fill="#d6d8df"/>
<line x1="574.3" y1="170.8" x2="593.3" y2="151.8" stroke="#d6d8df" stroke-width="0.8" stroke-dasharray="26,9"/>
<line x1="574.3" y1="189.8" x2="612.3" y2="151.8" stroke="#d6d8df" stroke-width="0.8" stroke-dasharray="26,9"/>
<line x1="574.3" y1="208.8" x2="631.3" y2="151.8" stroke="#d6d8df" stroke-width="0.8" stroke-dasharray="26,9"/>
<line x1="576.7" y1="225.4" x2="650.3" y2="151.8" stroke="#d6d8df" stroke-width="0.8" stroke-dasharray="26,9"/>
<line x1="595.7" y1="225.4" x2="669.3" y2="151.8" stroke="#d6d8df" stroke-width="0.8" stroke-dasharray="26,9"/>
<line x1="614.7" y1="225.4" x2="684.0" y2="156.1" stroke="#d6d8df" stroke-width="0.8" stroke-dasharray="26,9"/>
<line x1="633.7" y1="225.4" x2="684.0" y2="175.1" stroke="#d6d8df" stroke-width="0.8" stroke-dasharray="26,9"/>
<line x1="652.7" y1="225.4" x2="684.0" y2="194.1" stroke="#d6d8df" stroke-width="0.8" stroke-dasharray="26,9"/>
<line x1="671.7" y1="225.4" x2="684.0" y2="213.1" stroke="#d6d8df" stroke-width="0.8" stroke-dasharray="26,9"/>
<line x1="579.8" y1="244.4" x2="598.8" y2="225.4" stroke="#d6d8df" stroke-width="0.8" stroke-dasharray="26,9"/>
<line x1="579.8" y1="263.4" x2="617.8" y2="225.4" stroke="#d6d8df" stroke-width="0.8" stroke-dasharray="26,9"/>
<line x1="579.8" y1="282.4" x2="625.2" y2="237.0" stroke="#d6d8df" stroke-width="0.8" stroke-dasharray="26,9"/>
<line x1="579.8" y1="301.4" x2="625.2" y2="256.0" stroke="#d6d8df" stroke-width="0.8" stroke-dasharray="26,9"/>
<line x1="579.8" y1="320.4" x2="625.2" y2="275.0" stroke="#d6d8df" stroke-width="0.8" stroke-dasharray="26,9"/>
<line x1="579.8" y1="339.4" x2="625.2" y2="294.0" stroke="#d6d8df" stroke-width="0.8" stroke-dasharray="26,9"/>
<line x1="579.8" y1="358.4" x2="625.2" y2="313.0" stroke="#d6d8df" stroke-width="0.8" stroke-dasharray="26,9"/>
<line x1="579.8" y1="377.4" x2="625.2" y2="332.0" stroke="#d6d8df" stroke-width="0.8" stroke-dasharray="26,9"/>
<line x1="579.8" y1="396.4" x2="625.2" y2="351.0" stroke="#d6d8df" stroke-width="0.8" stroke-dasharray="26,9"/>
<line x1="579.8" y1="415.4" x2="625.2" y2="370.0" stroke="#d6d8df" stroke-width="0.8" stroke-dasharray="26,9"/>
<line x1="579.8" y1="434.4" x2="625.2" y2="389.0" stroke="#d6d8df" stroke-width="0.8" stroke-dasharray="26,9"/>
<line x1="579.8" y1="453.4" x2="625.2" y2="408.0" stroke="#d6d8df" stroke-width="0.8" stroke-dasharray="26,9"/>
<line x1="582.2" y1="470.0" x2="625.2" y2="427.0" stroke="#d6d8df" stroke-width="0.8" stroke-dasharray="26,9"/>
<line x1="601.2" y1="470.0" x2="625.2" y2="446.0" stroke="#d6d8df" stroke-width="0.8" stroke-dasharray="26,9"/>
<line x1="620.2" y1="470.0" x2="625.2" y2="465.0" stroke="#d6d8df" stroke-width="0.8" stroke-dasharray="26,9"/>
<text x="637.0" y="259.8" font-size="7.56" textLength="30.5" lengthAdjust="spacingAndGlyphs" fill="#eef0f4" stroke="#eef0f4" stroke-width="0.2">6' TO 18'</text>
<line x1="625.2" y1="261.1" x2="684.0" y2="261.1" stroke="#d6d8df" stroke-width="0.9"/>
<polygon points="679.2,262.3 684.0,261.1 679.2,259.9" fill="#d6d8df" stroke="#d6d8df" stroke-width="1.0"/>
<line x1="574.3" y1="471.8" x2="719.7" y2="471.8" stroke="#c4c7cf" stroke-width="2.4"/>
<line x1="574.3" y1="503.1" x2="719.7" y2="503.1" stroke="#c4c7cf" stroke-width="1.6"/>
<line x1="574.3" y1="532.1" x2="719.7" y2="532.1" stroke="#d6d8df" stroke-width="1.3"/>
<rect x="579.8" y="474.1" width="45.4" height="28.3" fill="#7a7d89"/>
<line x1="626.0" y1="473.0" x2="626.0" y2="503.0" stroke="#d6d8df" stroke-width="1.0"/>
<line x1="630.0" y1="473.0" x2="630.0" y2="503.0" stroke="#d6d8df" stroke-width="1.0"/>
<line x1="684.0" y1="473.0" x2="684.0" y2="503.0" stroke="#d6d8df" stroke-width="1.0"/>
<line x1="688.0" y1="473.0" x2="688.0" y2="503.0" stroke="#d6d8df" stroke-width="1.0"/>
<circle cx="582.5" cy="504.0" r="0.55" fill="#d6d8df"/>
<circle cx="582.5" cy="508.0" r="0.55" fill="#d6d8df"/>
<circle cx="582.5" cy="512.0" r="0.55" fill="#d6d8df"/>
<circle cx="582.5" cy="516.0" r="0.55" fill="#d6d8df"/>
<circle cx="582.5" cy="520.0" r="0.55" fill="#d6d8df"/>
<circle cx="582.5" cy="524.0" r="0.55" fill="#d6d8df"/>
<circle cx="582.5" cy="528.0" r="0.55" fill="#d6d8df"/>
<circle cx="588.0" cy="504.0" r="0.55" fill="#d6d8df"/>
<circle cx="588.0" cy="508.0" r="0.55" fill="#d6d8df"/>
<circle cx="588.0" cy="512.0" r="0.55" fill="#d6d8df"/>
<circle cx="588.0" cy="516.0" r="0.55" fill="#d6d8df"/>
<circle cx="588.0" cy="520.0" r="0.55" fill="#d6d8df"/>
<circle cx="588.0" cy="524.0" r="0.55" fill="#d6d8df"/>
<circle cx="588.0" cy="528.0" r="0.55" fill="#d6d8df"/>
<circle cx="617.0" cy="504.0" r="0.55" fill="#d6d8df"/>
<circle cx="617.0" cy="508.0" r="0.55" fill="#d6d8df"/>
<circle cx="617.0" cy="512.0" r="0.55" fill="#d6d8df"/>
<circle cx="617.0" cy="516.0" r="0.55" fill="#d6d8df"/>
<circle cx="617.0" cy="520.0" r="0.55" fill="#d6d8df"/>
<circle cx="617.0" cy="524.0" r="0.55" fill="#d6d8df"/>
<circle cx="617.0" cy="528.0" r="0.55" fill="#d6d8df"/>
<circle cx="622.0" cy="504.0" r="0.55" fill="#d6d8df"/>
<circle cx="622.0" cy="508.0" r="0.55" fill="#d6d8df"/>
<circle cx="622.0" cy="512.0" r="0.55" fill="#d6d8df"/>
<circle cx="622.0" cy="516.0" r="0.55" fill="#d6d8df"/>
<circle cx="622.0" cy="520.0" r="0.55" fill="#d6d8df"/>
<circle cx="622.0" cy="524.0" r="0.55" fill="#d6d8df"/>
<circle cx="622.0" cy="528.0" r="0.55" fill="#d6d8df"/>
<line x1="574.3" y1="503.0" x2="574.3" y2="532.0" stroke="#d6d8df" stroke-width="1"/>
<line x1="579.8" y1="503.0" x2="579.8" y2="532.0" stroke="#d6d8df" stroke-width="1"/>
<line x1="615.8" y1="503.0" x2="615.8" y2="532.0" stroke="#d6d8df" stroke-width="1"/>
<line x1="625.2" y1="503.0" x2="625.2" y2="532.0" stroke="#d6d8df" stroke-width="1"/>
<polyline points="553.9,312.7 566.8,312.7 600.5,228.5" fill="none" stroke="#d6d8df" stroke-width="0.9"/>
<polygon points="599.8,233.5 600.5,228.5 597.6,232.5" fill="#d6d8df" stroke="#d6d8df" stroke-width="0.6"/>
<polyline points="543.5,367.9 585.0,367.9 600.5,352.9" fill="none" stroke="#d6d8df" stroke-width="0.9"/>
<polygon points="597.9,357.2 600.5,352.9 596.2,355.4" fill="#d6d8df" stroke="#d6d8df" stroke-width="0.6"/>
<polyline points="550.0,417.0 560.0,417.0 574.6,442.0" fill="none" stroke="#d6d8df" stroke-width="0.9"/>
<polygon points="571.1,438.4 574.6,442.0 573.2,437.2" fill="#d6d8df" stroke="#d6d8df" stroke-width="1.0"/>
<line x1="560.0" y1="417.0" x2="616.0" y2="438.4" stroke="#d6d8df" stroke-width="0.9"/>
<polygon points="611.0,437.8 616.0,438.4 611.9,435.5" fill="#d6d8df" stroke="#d6d8df" stroke-width="1.0"/>
<polyline points="634.2,415.6 617.4,415.6 600.5,397.0" fill="none" stroke="#d6d8df" stroke-width="0.9"/>
<polygon points="604.7,399.8 600.5,397.0 602.8,401.4" fill="#d6d8df" stroke="#d6d8df" stroke-width="0.6"/>
<polyline points="648.5,442.8 630.3,442.8 605.7,459.0" fill="none" stroke="#d6d8df" stroke-width="0.9"/>
<polygon points="609.1,455.3 605.7,459.0 610.4,457.4" fill="#d6d8df" stroke="#d6d8df" stroke-width="0.6"/>
<polyline points="669.0,545.4 662.0,545.4 644.6,525.0" fill="none" stroke="#d6d8df" stroke-width="0.9"/>
<polygon points="648.7,527.9 644.6,525.0 646.8,529.5" fill="#d6d8df" stroke="#d6d8df" stroke-width="0.6"/>
<text x="188.5" y="189.8" font-size="7.70" textLength="84.2" lengthAdjust="spacingAndGlyphs" fill="#eef0f4" stroke="#eef0f4" stroke-width="0.2">FASTEN TOP PLATE TO</text>
<text x="188.5" y="198.6" font-size="7.70" textLength="97.2" lengthAdjust="spacingAndGlyphs" fill="#eef0f4" stroke="#eef0f4" stroke-width="0.2">HEADER WITH (2) ROWS OF</text>
<text x="188.5" y="207.4" font-size="7.70" textLength="89.4" lengthAdjust="spacingAndGlyphs" fill="#eef0f4" stroke="#eef0f4" stroke-width="0.2">16d SINKER NAILS AT 3"</text>
<text x="188.5" y="216.2" font-size="7.70" textLength="13.0" lengthAdjust="spacingAndGlyphs" fill="#eef0f4" stroke="#eef0f4" stroke-width="0.2">O.C.</text>
<text x="185.4" y="264.8" font-size="7.70" textLength="92.5" lengthAdjust="spacingAndGlyphs" fill="#eef0f4" stroke="#eef0f4" stroke-width="0.2">(2) SIMPSON CS16 STRAP</text>
<text x="185.4" y="273.5" font-size="7.70" textLength="88.6" lengthAdjust="spacingAndGlyphs" fill="#eef0f4" stroke="#eef0f4" stroke-width="0.2">WITH 8d NAILS. (EXTEND</text>
<text x="185.4" y="282.3" font-size="7.70" textLength="95.1" lengthAdjust="spacingAndGlyphs" fill="#eef0f4" stroke="#eef0f4" stroke-width="0.2">TO WALL TOP PLATE AND</text>
<text x="185.4" y="291.1" font-size="7.70" textLength="73.1" lengthAdjust="spacingAndGlyphs" fill="#eef0f4" stroke="#eef0f4" stroke-width="0.2">EXTEND 20" UNDER</text>
<text x="185.4" y="299.8" font-size="7.70" textLength="35.5" lengthAdjust="spacingAndGlyphs" fill="#eef0f4" stroke="#eef0f4" stroke-width="0.2">HEADER).</text>
<text x="188.0" y="318.6" font-size="7.70" textLength="91.7" lengthAdjust="spacingAndGlyphs" fill="#eef0f4" stroke="#eef0f4" stroke-width="0.2">MIN (2)2X WALL FRAMING.</text>
<text x="188.0" y="327.2" font-size="7.70" textLength="75.7" lengthAdjust="spacingAndGlyphs" fill="#eef0f4" stroke="#eef0f4" stroke-width="0.2">SEE PLAN FOR STUD</text>
<text x="188.0" y="336.2" font-size="7.70" textLength="89.1" lengthAdjust="spacingAndGlyphs" fill="#eef0f4" stroke="#eef0f4" stroke-width="0.2">COLUMN REQUIREMENTS.</text>
<text x="188.5" y="399.8" font-size="7.70" textLength="51.3" lengthAdjust="spacingAndGlyphs" fill="#eef0f4" stroke="#eef0f4" stroke-width="0.2">(2) 2x PLATES</text>
<text x="188.5" y="432.1" font-size="7.70" textLength="82.9" lengthAdjust="spacingAndGlyphs" fill="#eef0f4" stroke="#eef0f4" stroke-width="0.2">SOLID BLOCKING UNDER</text>
<text x="188.5" y="440.4" font-size="7.70" textLength="22.0" lengthAdjust="spacingAndGlyphs" fill="#eef0f4" stroke="#eef0f4" stroke-width="0.2">PANEL</text>
<text x="452.3" y="202.0" font-size="7.27" textLength="99.0" lengthAdjust="spacingAndGlyphs" fill="#eef0f4" stroke="#eef0f4" stroke-width="0.2">NOTE: AT INTERMEDIATE WALL</text>
<text x="452.3" y="209.8" font-size="7.27" textLength="117.2" lengthAdjust="spacingAndGlyphs" fill="#eef0f4" stroke="#eef0f4" stroke-width="0.2">SEGMENTS BETWEEN OPENINGS. THE</text>
<text x="452.3" y="217.6" font-size="7.27" textLength="110.7" lengthAdjust="spacingAndGlyphs" fill="#eef0f4" stroke="#eef0f4" stroke-width="0.2">STRAPS SHALL BE INSTALLED AT</text>
<text x="452.3" y="225.4" font-size="7.27" textLength="108.8" lengthAdjust="spacingAndGlyphs" fill="#eef0f4" stroke="#eef0f4" stroke-width="0.2">THE STUD COLUMN ON EACH END</text>
<text x="452.3" y="233.1" font-size="7.27" textLength="78.3" lengthAdjust="spacingAndGlyphs" fill="#eef0f4" stroke="#eef0f4" stroke-width="0.2">OF THE WALL SEGMENT.</text>
<text x="441.2" y="253.9" font-size="7.27" textLength="106.8" lengthAdjust="spacingAndGlyphs" fill="#eef0f4" stroke="#eef0f4" stroke-width="0.2">MIN. 3"x11.25" HEADER. SEE PLAN</text>
<text x="441.2" y="261.6" font-size="7.27" textLength="88.1" lengthAdjust="spacingAndGlyphs" fill="#eef0f4" stroke="#eef0f4" stroke-width="0.2">FOR ACTUAL SIZE. EXTEND</text>
<text x="441.2" y="269.9" font-size="7.27" textLength="44.8" lengthAdjust="spacingAndGlyphs" fill="#eef0f4" stroke="#eef0f4" stroke-width="0.2">OVER PANEL.</text>
<text x="441.2" y="285.5" font-size="7.27" textLength="104.9" lengthAdjust="spacingAndGlyphs" fill="#eef0f4" stroke="#eef0f4" stroke-width="0.2">FASTEN SHEATHING TO HEADER</text>
<text x="441.2" y="293.3" font-size="7.27" textLength="107.5" lengthAdjust="spacingAndGlyphs" fill="#eef0f4" stroke="#eef0f4" stroke-width="0.2">W/ 8d COMMON OR GALVANIZED</text>
<text x="441.2" y="301.0" font-size="7.27" textLength="106.7" lengthAdjust="spacingAndGlyphs" fill="#eef0f4" stroke="#eef0f4" stroke-width="0.2">BOX NAILS IN 3" GRID PATTERN</text>
<text x="441.2" y="308.8" font-size="7.27" textLength="93.3" lengthAdjust="spacingAndGlyphs" fill="#eef0f4" stroke="#eef0f4" stroke-width="0.2">AND 3" O.C. IN ALL FRAMING</text>
<text x="441.2" y="317.1" font-size="7.27" textLength="103.6" lengthAdjust="spacingAndGlyphs" fill="#eef0f4" stroke="#eef0f4" stroke-width="0.2">(STUDS, BLOCKING, AND SILLS)</text>
<text x="441.2" y="324.9" font-size="7.27" textLength="15.5" lengthAdjust="spacingAndGlyphs" fill="#eef0f4" stroke="#eef0f4" stroke-width="0.2">TYP.</text>
<text x="441.2" y="342.0" font-size="7.27" textLength="83.7" lengthAdjust="spacingAndGlyphs" fill="#eef0f4" stroke="#eef0f4" stroke-width="0.2">PANEL EDGES SHALL BE</text>
<text x="441.2" y="349.8" font-size="7.27" textLength="111.4" lengthAdjust="spacingAndGlyphs" fill="#eef0f4" stroke="#eef0f4" stroke-width="0.2">BLOCKED AND OCCUR WITHIN 24"</text>
<text x="441.2" y="357.6" font-size="7.27" textLength="97.7" lengthAdjust="spacingAndGlyphs" fill="#eef0f4" stroke="#eef0f4" stroke-width="0.2">OF MID-HEIGHT.  ONE ROW OF</text>
<text x="441.2" y="365.3" font-size="7.27" textLength="97.1" lengthAdjust="spacingAndGlyphs" fill="#eef0f4" stroke="#eef0f4" stroke-width="0.2">TYP. SHEATHING-TO-FRAMING</text>
<text x="441.2" y="373.6" font-size="7.27" textLength="88.6" lengthAdjust="spacingAndGlyphs" fill="#eef0f4" stroke="#eef0f4" stroke-width="0.2">NAILING IS REQ'D (3" OC.)</text>
<text x="441.2" y="381.4" font-size="7.27" textLength="110.1" lengthAdjust="spacingAndGlyphs" fill="#eef0f4" stroke="#eef0f4" stroke-width="0.2">ATTACH BLOCKING TOGETHER W/</text>
<text x="441.2" y="389.1" font-size="7.27" textLength="55.7" lengthAdjust="spacingAndGlyphs" fill="#eef0f4" stroke="#eef0f4" stroke-width="0.2">(3) 16d SINKERS.</text>
<text x="442.0" y="418.9" font-size="7.27" textLength="104.1" lengthAdjust="spacingAndGlyphs" fill="#eef0f4" stroke="#eef0f4" stroke-width="0.2">SIMPSON MSTC66B3 PRE-BENT</text>
<text x="442.0" y="426.7" font-size="7.27" textLength="104.6" lengthAdjust="spacingAndGlyphs" fill="#eef0f4" stroke="#eef0f4" stroke-width="0.2">STRAP. 14-10d NAILS INTO FACE</text>
<text x="442.0" y="434.5" font-size="7.27" textLength="97.6" lengthAdjust="spacingAndGlyphs" fill="#eef0f4" stroke="#eef0f4" stroke-width="0.2">OF GIRDER. 4-10d NAILS IN</text>
<text x="442.0" y="442.8" font-size="7.27" textLength="106.7" lengthAdjust="spacingAndGlyphs" fill="#eef0f4" stroke="#eef0f4" stroke-width="0.2">BOTTOM, 38-10d NAILS IN STUDS</text>
<text x="442.5" y="456.0" font-size="7.27" textLength="47.1" lengthAdjust="spacingAndGlyphs" fill="#eef0f4" stroke="#eef0f4" stroke-width="0.2">FLOOR JOISTS</text>
<text x="443.0" y="548.0" font-size="7.27" textLength="25.9" lengthAdjust="spacingAndGlyphs" fill="#eef0f4" stroke="#eef0f4" stroke-width="0.2">GIRDER</text>
<text x="671.0" y="548.0" font-size="7.27" textLength="26.7" lengthAdjust="spacingAndGlyphs" fill="#eef0f4" stroke="#eef0f4" stroke-width="0.2">GIRDER</text>
<text x="636.8" y="410.6" font-size="7.27" textLength="54.4" lengthAdjust="spacingAndGlyphs" fill="#eef0f4" stroke="#eef0f4" stroke-width="0.2">5/8" THICK WOOD</text>
<text x="636.8" y="418.2" font-size="7.27" textLength="64.8" lengthAdjust="spacingAndGlyphs" fill="#eef0f4" stroke="#eef0f4" stroke-width="0.2">STRUCTURAL PANEL</text>
<text x="636.8" y="425.9" font-size="7.27" textLength="35.0" lengthAdjust="spacingAndGlyphs" fill="#eef0f4" stroke="#eef0f4" stroke-width="0.2">SHEATHING</text>
<text x="651.0" y="445.4" font-size="7.27" textLength="51.1" lengthAdjust="spacingAndGlyphs" fill="#eef0f4" stroke="#eef0f4" stroke-width="0.2">(2) 2x PLATES</text>
<rect x="350.9" y="578.7" width="92.7" height="18.3" fill="none" stroke="#d6d8df" stroke-width="1.2"/>
<text x="358.4" y="591.8" font-size="9.45" textLength="64.0" lengthAdjust="spacingAndGlyphs" fill="#eef0f4" stroke="#eef0f4" stroke-width="0.2">INTERIOR VIEW</text>
<rect x="583.0" y="578.7" width="93.6" height="18.3" fill="none" stroke="#d6d8df" stroke-width="1.2"/>
<text x="589.3" y="591.8" font-size="9.45" textLength="68.6" lengthAdjust="spacingAndGlyphs" fill="#eef0f4" stroke="#eef0f4" stroke-width="0.2">EXTERIOR VIEW</text>
<circle cx="364.6" cy="651.5" r="12.5" fill="none" stroke="#d6d8df" stroke-width="1.1"/>
<text x="364.6" y="656.5" font-size="13.08" font-weight="400" text-anchor="middle" fill="#eef0f4">A</text>
<text x="386.0" y="647.8" font-size="12.21" font-weight="400" textLength="224.2" lengthAdjust="spacingAndGlyphs" fill="#eef0f4">APA PORTAL FRAME W/ HOLD-DOWNS</text>
<line x1="386.0" y1="650.0" x2="610.2" y2="650.0" stroke="#d6d8df" stroke-width="1.0"/>
<text x="386.0" y="658.0" font-size="8.14" textLength="271.9" lengthAdjust="spacingAndGlyphs" fill="#eef0f4" stroke="#eef0f4" stroke-width="0.2">DETAIL AND APPLICATION BASED ON APA TT-100D WITH USE OF TABLE 1</text>
<text x="386.0" y="666.9" font-size="8.14" textLength="209.3" lengthAdjust="spacingAndGlyphs" fill="#eef0f4" stroke="#eef0f4" stroke-width="0.2">FOR APA PORTAL FRAME WITH HOLD-DOWN CAPACITIES.</text>
<line x1="585.0" y1="732.8" x2="718.6" y2="732.8" stroke="#d6d8df" stroke-width="1.3"/>
<line x1="585.0" y1="737.5" x2="718.6" y2="737.5" stroke="#c4c7cf" stroke-width="1.6"/>
<line x1="585.0" y1="742.7" x2="718.6" y2="742.7" stroke="#d6d8df" stroke-width="1.3"/>
<line x1="585.0" y1="763.6" x2="648.5" y2="763.6" stroke="#d6d8df" stroke-width="1.3"/>
<line x1="602.8" y1="742.7" x2="602.8" y2="763.6" stroke="#d6d8df" stroke-width="1.1"/>
<line x1="608.4" y1="742.7" x2="608.4" y2="763.6" stroke="#d6d8df" stroke-width="1.1"/>
<line x1="704.6" y1="742.7" x2="704.6" y2="1032.3" stroke="#d6d8df" stroke-width="1.1"/>
<line x1="709.2" y1="742.7" x2="709.2" y2="1032.3" stroke="#d6d8df" stroke-width="1.1"/>
<line x1="584.5" y1="793.2" x2="647.6" y2="793.2" stroke="#d6d8df" stroke-width="1.0"/>
<line x1="644.5" y1="793.2" x2="644.5" y2="1032.3" stroke="#d6d8df" stroke-width="1.1"/>
<line x1="650.0" y1="843.0" x2="650.0" y2="1032.3" stroke="#d6d8df" stroke-width="1.0"/>
<line x1="658.6" y1="843.0" x2="658.6" y2="1032.3" stroke="#d6d8df" stroke-width="1.0"/>
<line x1="650.0" y1="852.0" x2="658.6" y2="852.0" stroke="#d6d8df" stroke-width="0.9"/>
<line x1="650.0" y1="863.0" x2="658.6" y2="863.0" stroke="#d6d8df" stroke-width="0.9"/>
<line x1="650.0" y1="874.0" x2="658.6" y2="874.0" stroke="#d6d8df" stroke-width="0.9"/>
<line x1="650.0" y1="885.0" x2="658.6" y2="885.0" stroke="#d6d8df" stroke-width="0.9"/>
<line x1="650.0" y1="896.0" x2="658.6" y2="896.0" stroke="#d6d8df" stroke-width="0.9"/>
<line x1="650.0" y1="907.0" x2="658.6" y2="907.0" stroke="#d6d8df" stroke-width="0.9"/>
<line x1="650.0" y1="918.0" x2="658.6" y2="918.0" stroke="#d6d8df" stroke-width="0.9"/>
<line x1="650.0" y1="929.0" x2="658.6" y2="929.0" stroke="#d6d8df" stroke-width="0.9"/>
<line x1="650.0" y1="940.0" x2="658.6" y2="940.0" stroke="#d6d8df" stroke-width="0.9"/>
<line x1="650.0" y1="951.0" x2="658.6" y2="951.0" stroke="#d6d8df" stroke-width="0.9"/>
<line x1="650.0" y1="962.0" x2="658.6" y2="962.0" stroke="#d6d8df" stroke-width="0.9"/>
<circle cx="652.5" cy="905.0" r="0.55" fill="#d6d8df"/>
<circle cx="652.5" cy="910.0" r="0.55" fill="#d6d8df"/>
<circle cx="652.5" cy="915.0" r="0.55" fill="#d6d8df"/>
<circle cx="652.5" cy="920.0" r="0.55" fill="#d6d8df"/>
<circle cx="652.5" cy="925.0" r="0.55" fill="#d6d8df"/>
<circle cx="652.5" cy="930.0" r="0.55" fill="#d6d8df"/>
<circle cx="652.5" cy="935.0" r="0.55" fill="#d6d8df"/>
<circle cx="652.5" cy="940.0" r="0.55" fill="#d6d8df"/>
<circle cx="652.5" cy="945.0" r="0.55" fill="#d6d8df"/>
<circle cx="652.5" cy="950.0" r="0.55" fill="#d6d8df"/>
<circle cx="652.5" cy="955.0" r="0.55" fill="#d6d8df"/>
<circle cx="652.5" cy="960.0" r="0.55" fill="#d6d8df"/>
<circle cx="652.5" cy="965.0" r="0.55" fill="#d6d8df"/>
<circle cx="652.5" cy="970.0" r="0.55" fill="#d6d8df"/>
<circle cx="652.5" cy="975.0" r="0.55" fill="#d6d8df"/>
<circle cx="652.5" cy="980.0" r="0.55" fill="#d6d8df"/>
<circle cx="652.5" cy="985.0" r="0.55" fill="#d6d8df"/>
<circle cx="652.5" cy="990.0" r="0.55" fill="#d6d8df"/>
<circle cx="652.5" cy="995.0" r="0.55" fill="#d6d8df"/>
<circle cx="652.5" cy="1000.0" r="0.55" fill="#d6d8df"/>
<circle cx="652.5" cy="1005.0" r="0.55" fill="#d6d8df"/>
<circle cx="652.5" cy="1010.0" r="0.55" fill="#d6d8df"/>
<circle cx="652.5" cy="1015.0" r="0.55" fill="#d6d8df"/>
<circle cx="652.5" cy="1020.0" r="0.55" fill="#d6d8df"/>
<circle cx="652.5" cy="1025.0" r="0.55" fill="#d6d8df"/>
<circle cx="656.0" cy="907.0" r="0.55" fill="#d6d8df"/>
<circle cx="656.0" cy="912.0" r="0.55" fill="#d6d8df"/>
<circle cx="656.0" cy="917.0" r="0.55" fill="#d6d8df"/>
<circle cx="656.0" cy="922.0" r="0.55" fill="#d6d8df"/>
<circle cx="656.0" cy="927.0" r="0.55" fill="#d6d8df"/>
<circle cx="656.0" cy="932.0" r="0.55" fill="#d6d8df"/>
<circle cx="656.0" cy="937.0" r="0.55" fill="#d6d8df"/>
<circle cx="656.0" cy="942.0" r="0.55" fill="#d6d8df"/>
<circle cx="656.0" cy="947.0" r="0.55" fill="#d6d8df"/>
<circle cx="656.0" cy="952.0" r="0.55" fill="#d6d8df"/>
<circle cx="656.0" cy="957.0" r="0.55" fill="#d6d8df"/>
<circle cx="656.0" cy="962.0" r="0.55" fill="#d6d8df"/>
<circle cx="656.0" cy="967.0" r="0.55" fill="#d6d8df"/>
<circle cx="656.0" cy="972.0" r="0.55" fill="#d6d8df"/>
<circle cx="656.0" cy="977.0" r="0.55" fill="#d6d8df"/>
<circle cx="656.0" cy="982.0" r="0.55" fill="#d6d8df"/>
<circle cx="656.0" cy="987.0" r="0.55" fill="#d6d8df"/>
<circle cx="656.0" cy="992.0" r="0.55" fill="#d6d8df"/>
<circle cx="656.0" cy="997.0" r="0.55" fill="#d6d8df"/>
<circle cx="656.0" cy="1002.0" r="0.55" fill="#d6d8df"/>
<circle cx="656.0" cy="1007.0" r="0.55" fill="#d6d8df"/>
<circle cx="656.0" cy="1012.0" r="0.55" fill="#d6d8df"/>
<circle cx="656.0" cy="1017.0" r="0.55" fill="#d6d8df"/>
<circle cx="656.0" cy="1022.0" r="0.55" fill="#d6d8df"/>
<circle cx="656.0" cy="1027.0" r="0.55" fill="#d6d8df"/>
<rect x="649.1" y="733.7" width="9.7" height="109.3" fill="#e6e619"/>
<rect x="649.1" y="733.7" width="9.7" height="109.3" fill="none" stroke="#f2f23a" stroke-width="0.8"/>
<rect x="649.6" y="735.7" width="1.4" height="1.6" fill="#3a3a10"/>
<rect x="654.5" y="735.7" width="1.4" height="1.6" fill="#3a3a10"/>
<rect x="652.0" y="738.9" width="1.4" height="1.6" fill="#3a3a10"/>
<rect x="656.9" y="738.9" width="1.4" height="1.6" fill="#3a3a10"/>
<rect x="649.6" y="742.1" width="1.4" height="1.6" fill="#3a3a10"/>
<rect x="654.5" y="742.1" width="1.4" height="1.6" fill="#3a3a10"/>
<rect x="652.0" y="745.3" width="1.4" height="1.6" fill="#3a3a10"/>
<rect x="656.9" y="745.3" width="1.4" height="1.6" fill="#3a3a10"/>
<rect x="649.6" y="748.5" width="1.4" height="1.6" fill="#3a3a10"/>
<rect x="654.5" y="748.5" width="1.4" height="1.6" fill="#3a3a10"/>
<rect x="652.0" y="751.7" width="1.4" height="1.6" fill="#3a3a10"/>
<rect x="656.9" y="751.7" width="1.4" height="1.6" fill="#3a3a10"/>
<rect x="649.6" y="754.9" width="1.4" height="1.6" fill="#3a3a10"/>
<rect x="654.5" y="754.9" width="1.4" height="1.6" fill="#3a3a10"/>
<rect x="652.0" y="758.1" width="1.4" height="1.6" fill="#3a3a10"/>
<rect x="656.9" y="758.1" width="1.4" height="1.6" fill="#3a3a10"/>
<rect x="649.6" y="761.3" width="1.4" height="1.6" fill="#3a3a10"/>
<rect x="654.5" y="761.3" width="1.4" height="1.6" fill="#3a3a10"/>
<rect x="652.0" y="764.5" width="1.4" height="1.6" fill="#3a3a10"/>
<rect x="656.9" y="764.5" width="1.4" height="1.6" fill="#3a3a10"/>
<rect x="649.6" y="767.7" width="1.4" height="1.6" fill="#3a3a10"/>
<rect x="654.5" y="767.7" width="1.4" height="1.6" fill="#3a3a10"/>
<rect x="652.0" y="770.9" width="1.4" height="1.6" fill="#3a3a10"/>
<rect x="656.9" y="770.9" width="1.4" height="1.6" fill="#3a3a10"/>
<rect x="649.6" y="774.1" width="1.4" height="1.6" fill="#3a3a10"/>
<rect x="654.5" y="774.1" width="1.4" height="1.6" fill="#3a3a10"/>
<rect x="652.0" y="777.3" width="1.4" height="1.6" fill="#3a3a10"/>
<rect x="656.9" y="777.3" width="1.4" height="1.6" fill="#3a3a10"/>
<rect x="649.6" y="780.5" width="1.4" height="1.6" fill="#3a3a10"/>
<rect x="654.5" y="780.5" width="1.4" height="1.6" fill="#3a3a10"/>
<rect x="652.0" y="783.7" width="1.4" height="1.6" fill="#3a3a10"/>
<rect x="656.9" y="783.7" width="1.4" height="1.6" fill="#3a3a10"/>
<rect x="649.6" y="786.9" width="1.4" height="1.6" fill="#3a3a10"/>
<rect x="654.5" y="786.9" width="1.4" height="1.6" fill="#3a3a10"/>
<rect x="652.0" y="790.1" width="1.4" height="1.6" fill="#3a3a10"/>
<rect x="656.9" y="790.1" width="1.4" height="1.6" fill="#3a3a10"/>
<rect x="649.6" y="793.3" width="1.4" height="1.6" fill="#3a3a10"/>
<rect x="654.5" y="793.3" width="1.4" height="1.6" fill="#3a3a10"/>
<rect x="652.0" y="796.5" width="1.4" height="1.6" fill="#3a3a10"/>
<rect x="656.9" y="796.5" width="1.4" height="1.6" fill="#3a3a10"/>
<rect x="649.6" y="799.7" width="1.4" height="1.6" fill="#3a3a10"/>
<rect x="654.5" y="799.7" width="1.4" height="1.6" fill="#3a3a10"/>
<rect x="652.0" y="802.9" width="1.4" height="1.6" fill="#3a3a10"/>
<rect x="656.9" y="802.9" width="1.4" height="1.6" fill="#3a3a10"/>
<rect x="649.6" y="806.1" width="1.4" height="1.6" fill="#3a3a10"/>
<rect x="654.5" y="806.1" width="1.4" height="1.6" fill="#3a3a10"/>
<rect x="652.0" y="809.3" width="1.4" height="1.6" fill="#3a3a10"/>
<rect x="656.9" y="809.3" width="1.4" height="1.6" fill="#3a3a10"/>
<rect x="649.6" y="812.5" width="1.4" height="1.6" fill="#3a3a10"/>
<rect x="654.5" y="812.5" width="1.4" height="1.6" fill="#3a3a10"/>
<rect x="652.0" y="815.7" width="1.4" height="1.6" fill="#3a3a10"/>
<rect x="656.9" y="815.7" width="1.4" height="1.6" fill="#3a3a10"/>
<rect x="649.6" y="818.9" width="1.4" height="1.6" fill="#3a3a10"/>
<rect x="654.5" y="818.9" width="1.4" height="1.6" fill="#3a3a10"/>
<rect x="652.0" y="822.1" width="1.4" height="1.6" fill="#3a3a10"/>
<rect x="656.9" y="822.1" width="1.4" height="1.6" fill="#3a3a10"/>
<rect x="649.6" y="825.3" width="1.4" height="1.6" fill="#3a3a10"/>
<rect x="654.5" y="825.3" width="1.4" height="1.6" fill="#3a3a10"/>
<rect x="652.0" y="828.5" width="1.4" height="1.6" fill="#3a3a10"/>
<rect x="656.9" y="828.5" width="1.4" height="1.6" fill="#3a3a10"/>
<rect x="649.6" y="831.7" width="1.4" height="1.6" fill="#3a3a10"/>
<rect x="654.5" y="831.7" width="1.4" height="1.6" fill="#3a3a10"/>
<rect x="652.0" y="834.9" width="1.4" height="1.6" fill="#3a3a10"/>
<rect x="656.9" y="834.9" width="1.4" height="1.6" fill="#3a3a10"/>
<rect x="649.6" y="838.1" width="1.4" height="1.6" fill="#3a3a10"/>
<rect x="654.5" y="838.1" width="1.4" height="1.6" fill="#3a3a10"/>
<line x1="654.0" y1="733.7" x2="654.0" y2="843.0" stroke="#8a8a20" stroke-width="0.6"/>
<line x1="595.0" y1="1034.0" x2="744.8" y2="1034.0" stroke="#d6d8df" stroke-width="1.1"/>
<line x1="595.0" y1="1040.0" x2="744.8" y2="1040.0" stroke="#c4c7cf" stroke-width="2.6"/>
<rect x="636.3" y="1041.5" width="47.3" height="28.8" fill="#7a7d89"/>
<line x1="631.5" y1="1041.0" x2="631.5" y2="1070.3" stroke="#d6d8df" stroke-width="1.0"/>
<line x1="635.8" y1="1041.0" x2="635.8" y2="1070.3" stroke="#d6d8df" stroke-width="1.0"/>
<line x1="683.6" y1="1041.0" x2="683.6" y2="1070.3" stroke="#d6d8df" stroke-width="1.0"/>
<line x1="687.5" y1="1041.0" x2="687.5" y2="1070.3" stroke="#d6d8df" stroke-width="1.0"/>
<line x1="732.4" y1="1041.0" x2="732.4" y2="1070.3" stroke="#d6d8df" stroke-width="1.0"/>
<line x1="739.0" y1="1041.0" x2="739.0" y2="1070.3" stroke="#d6d8df" stroke-width="1.0"/>
<line x1="631.5" y1="1042.0" x2="635.8" y2="1056.0" stroke="#d6d8df" stroke-width="0.7"/>
<line x1="635.8" y1="1042.0" x2="631.5" y2="1056.0" stroke="#d6d8df" stroke-width="0.7"/>
<line x1="631.5" y1="1056.0" x2="635.8" y2="1070.0" stroke="#d6d8df" stroke-width="0.7"/>
<line x1="635.8" y1="1056.0" x2="631.5" y2="1070.0" stroke="#d6d8df" stroke-width="0.7"/>
<line x1="683.6" y1="1042.0" x2="687.5" y2="1056.0" stroke="#d6d8df" stroke-width="0.7"/>
<line x1="687.5" y1="1042.0" x2="683.6" y2="1056.0" stroke="#d6d8df" stroke-width="0.7"/>
<line x1="683.6" y1="1056.0" x2="687.5" y2="1070.0" stroke="#d6d8df" stroke-width="0.7"/>
<line x1="687.5" y1="1056.0" x2="683.6" y2="1070.0" stroke="#d6d8df" stroke-width="0.7"/>
<line x1="732.4" y1="1042.0" x2="739.0" y2="1056.0" stroke="#d6d8df" stroke-width="0.7"/>
<line x1="739.0" y1="1042.0" x2="732.4" y2="1056.0" stroke="#d6d8df" stroke-width="0.7"/>
<line x1="732.4" y1="1056.0" x2="739.0" y2="1070.0" stroke="#d6d8df" stroke-width="0.7"/>
<line x1="739.0" y1="1056.0" x2="732.4" y2="1070.0" stroke="#d6d8df" stroke-width="0.7"/>
<line x1="595.0" y1="1070.3" x2="744.8" y2="1070.3" stroke="#d6d8df" stroke-width="1.3"/>
<line x1="595.0" y1="1099.2" x2="744.8" y2="1099.2" stroke="#d6d8df" stroke-width="1.2"/>
<line x1="648.9" y1="1034.0" x2="648.9" y2="1099.2" stroke="#d6d8df" stroke-width="1.0"/>
<line x1="658.6" y1="1034.0" x2="658.6" y2="1099.2" stroke="#d6d8df" stroke-width="1.0"/>
<circle cx="652.0" cy="1073.0" r="0.55" fill="#d6d8df"/>
<circle cx="652.0" cy="1077.5" r="0.55" fill="#d6d8df"/>
<circle cx="652.0" cy="1082.0" r="0.55" fill="#d6d8df"/>
<circle cx="652.0" cy="1086.5" r="0.55" fill="#d6d8df"/>
<circle cx="652.0" cy="1091.0" r="0.55" fill="#d6d8df"/>
<circle cx="652.0" cy="1095.5" r="0.55" fill="#d6d8df"/>
<circle cx="655.5" cy="1075.0" r="0.55" fill="#d6d8df"/>
<circle cx="655.5" cy="1079.5" r="0.55" fill="#d6d8df"/>
<circle cx="655.5" cy="1084.0" r="0.55" fill="#d6d8df"/>
<circle cx="655.5" cy="1088.5" r="0.55" fill="#d6d8df"/>
<circle cx="655.5" cy="1093.0" r="0.55" fill="#d6d8df"/>
<circle cx="655.5" cy="1097.5" r="0.55" fill="#d6d8df"/>
<text x="563.8" y="1115.5" font-size="7.27" textLength="26.0" lengthAdjust="spacingAndGlyphs" fill="#eef0f4" stroke="#eef0f4" stroke-width="0.2">GIRDER</text>
<polyline points="592.4,1113.0 601.1,1113.0 619.6,1085.5" fill="none" stroke="#d6d8df" stroke-width="0.9"/>
<polygon points="617.9,1090.2 619.6,1085.5 615.9,1088.8" fill="#d6d8df" stroke="#d6d8df" stroke-width="0.6"/>
<line x1="683.0" y1="792.6" x2="683.0" y2="844.0" stroke="#d6d8df" stroke-width="1.0"/>
<line x1="678.5" y1="789.0" x2="687.5" y2="797.0" stroke="#d6d8df" stroke-width="1.0"/>
<line x1="678.5" y1="840.0" x2="687.5" y2="848.0" stroke="#d6d8df" stroke-width="1.0"/>
<line x1="676.0" y1="793.2" x2="690.0" y2="793.2" stroke="#d6d8df" stroke-width="0.9"/>
<line x1="674.0" y1="844.0" x2="690.0" y2="844.0" stroke="#d6d8df" stroke-width="0.9"/>
<text x="681.0" y="827.0" font-size="9.16" font-weight="400" textLength="15.0" lengthAdjust="spacingAndGlyphs" transform="rotate(-90 681.0 827.0)" fill="#eef0f4">20"</text>
<polyline points="577.5,811.3 600.0,811.3 647.6,781.4" fill="none" stroke="#d6d8df" stroke-width="0.9"/>
<polygon points="644.2,785.0 647.6,781.4 642.8,782.9" fill="#d6d8df" stroke="#d6d8df" stroke-width="1.0"/>
<polyline points="582.4,851.2 619.1,851.2 651.9,889.8" fill="none" stroke="#d6d8df" stroke-width="0.9"/>
<polygon points="647.8,886.9 651.9,889.8 649.7,885.3" fill="#d6d8df" stroke="#d6d8df" stroke-width="1.0"/>
<polyline points="597.1,886.0 609.5,886.0 643.4,909.0" fill="none" stroke="#d6d8df" stroke-width="0.9"/>
<polygon points="638.7,907.3 643.4,909.0 640.1,905.3" fill="#d6d8df" stroke="#d6d8df" stroke-width="1.0"/>
<path d="M596.3,974.2 L604,974.2 Q625,985 646.7,1033.4" fill="none" stroke="#d6d8df" stroke-width="0.9"/>
<polygon points="643.4,1029.6 646.7,1033.4 645.6,1028.5" fill="#d6d8df" stroke="#d6d8df" stroke-width="1.0"/>
<text x="479.5" y="798.2" font-size="7.99" textLength="91.5" lengthAdjust="spacingAndGlyphs" fill="#eef0f4" stroke="#eef0f4" stroke-width="0.2">(2) SIMPSON CS16 STRAP</text>
<text x="479.5" y="807.0" font-size="7.99" textLength="88.1" lengthAdjust="spacingAndGlyphs" fill="#eef0f4" stroke="#eef0f4" stroke-width="0.2">WITH 8d NAILS. (EXTEND</text>
<text x="479.5" y="815.6" font-size="7.99" textLength="94.3" lengthAdjust="spacingAndGlyphs" fill="#eef0f4" stroke="#eef0f4" stroke-width="0.2">TO WALL TOP PLATE AND</text>
<text x="479.5" y="824.4" font-size="7.99" textLength="71.9" lengthAdjust="spacingAndGlyphs" fill="#eef0f4" stroke="#eef0f4" stroke-width="0.2">EXTEND 20" UNDER</text>
<text x="479.5" y="833.1" font-size="7.99" textLength="34.5" lengthAdjust="spacingAndGlyphs" fill="#eef0f4" stroke="#eef0f4" stroke-width="0.2">HEADER).</text>
<text x="500.0" y="854.3" font-size="7.99" textLength="82.6" lengthAdjust="spacingAndGlyphs" fill="#eef0f4" stroke="#eef0f4" stroke-width="0.2">ATTACH KING STUD TO</text>
<text x="500.0" y="863.5" font-size="7.99" textLength="93.5" lengthAdjust="spacingAndGlyphs" fill="#eef0f4" stroke="#eef0f4" stroke-width="0.2">SUPPORT STUDS WITH 10d</text>
<text x="500.0" y="872.4" font-size="7.99" textLength="54.4" lengthAdjust="spacingAndGlyphs" fill="#eef0f4" stroke="#eef0f4" stroke-width="0.2">NAILS @ 8" OC.</text>
<text x="500.8" y="889.7" font-size="7.99" textLength="96.0" lengthAdjust="spacingAndGlyphs" fill="#eef0f4" stroke="#eef0f4" stroke-width="0.2">MIN (2)2X SUPPORT STUDS</text>
<text x="500.8" y="898.6" font-size="7.99" textLength="87.2" lengthAdjust="spacingAndGlyphs" fill="#eef0f4" stroke="#eef0f4" stroke-width="0.2">AND (1) KING STUD (SEE</text>
<text x="500.8" y="907.3" font-size="7.99" textLength="91.2" lengthAdjust="spacingAndGlyphs" fill="#eef0f4" stroke="#eef0f4" stroke-width="0.2">PLAN FOR STUD COLUMN</text>
<text x="500.8" y="916.0" font-size="7.99" textLength="60.2" lengthAdjust="spacingAndGlyphs" fill="#eef0f4" stroke="#eef0f4" stroke-width="0.2">REQUIREMENTS).</text>
<text x="487.8" y="976.6" font-size="7.27" textLength="104.2" lengthAdjust="spacingAndGlyphs" fill="#eef0f4" stroke="#eef0f4" stroke-width="0.2">SIMPSON MSTC66B3 PRE-BENT</text>
<text x="487.8" y="984.2" font-size="7.27" textLength="105.1" lengthAdjust="spacingAndGlyphs" fill="#eef0f4" stroke="#eef0f4" stroke-width="0.2">STRAP. 14-10d NAILS INTO FACE</text>
<text x="487.8" y="992.2" font-size="7.27" textLength="90.5" lengthAdjust="spacingAndGlyphs" fill="#eef0f4" stroke="#eef0f4" stroke-width="0.2">OF GIRDER. 4-10d NAILS IN</text>
<text x="487.8" y="1000.2" font-size="7.27" textLength="107.2" lengthAdjust="spacingAndGlyphs" fill="#eef0f4" stroke="#eef0f4" stroke-width="0.2">BOTTOM, 38-10d NAILS IN STUDS</text>
<circle cx="561.0" cy="1148.0" r="12.4" fill="none" stroke="#d6d8df" stroke-width="1.1"/>
<text x="561.0" y="1152.8" font-size="13.52" font-weight="400" text-anchor="middle" fill="#eef0f4">B</text>
<text x="579.8" y="1149.0" font-size="13.08" font-weight="400" textLength="138.5" lengthAdjust="spacingAndGlyphs" fill="#eef0f4">END CONDITION DETAIL</text>
<line x1="579.8" y1="1151.5" x2="718.3" y2="1151.5" stroke="#d6d8df" stroke-width="1.0"/>
<text x="579.8" y="1160.4" font-size="9.88" textLength="158.5" lengthAdjust="spacingAndGlyphs" fill="#eef0f4" stroke="#eef0f4" stroke-width="0.2">(FOR USE WITH SINGLE APA PORTAL</text>
<text x="579.8" y="1170.2" font-size="9.88" textLength="83.2" lengthAdjust="spacingAndGlyphs" fill="#eef0f4" stroke="#eef0f4" stroke-width="0.2">FRAME CONDITION)</text>
<text x="579.8" y="1179.3" font-size="8.58" textLength="159.1" lengthAdjust="spacingAndGlyphs" fill="#eef0f4" stroke="#eef0f4" stroke-width="0.2">DETAIL AND APPLICATION BASED ON APA</text>
<text x="579.8" y="1188.0" font-size="8.58" textLength="176.5" lengthAdjust="spacingAndGlyphs" fill="#eef0f4" stroke="#eef0f4" stroke-width="0.2">TT-100E WITH USE OF TABLE 1 FOR APA PORTAL</text>
<text x="579.8" y="1196.7" font-size="8.58" textLength="139.6" lengthAdjust="spacingAndGlyphs" fill="#eef0f4" stroke="#eef0f4" stroke-width="0.2">FRAME WITH HOLD-DOWN CAPACITIES.</text>
<line x1="385.1" y1="1236.4" x2="488.8" y2="1236.4" stroke="#d6d8df" stroke-width="1.2"/>
<line x1="385.1" y1="1245.3" x2="488.8" y2="1245.3" stroke="#d6d8df" stroke-width="1.2"/>
<line x1="385.1" y1="1255.0" x2="488.8" y2="1255.0" stroke="#d6d8df" stroke-width="1.2"/>
<rect x="424.4" y="1236.4" width="21.7" height="18.6" fill="none" stroke="#d6d8df" stroke-width="1.1"/>
<line x1="426.8" y1="1241.1" x2="429.2" y2="1241.1" stroke="#d6d8df" stroke-width="0.7"/>
<line x1="428.0" y1="1239.9" x2="428.0" y2="1242.3" stroke="#d6d8df" stroke-width="0.7"/>
<line x1="426.8" y1="1250.3" x2="429.2" y2="1250.3" stroke="#d6d8df" stroke-width="0.7"/>
<line x1="428.0" y1="1249.1" x2="428.0" y2="1251.5" stroke="#d6d8df" stroke-width="0.7"/>
<line x1="434.1" y1="1241.1" x2="436.4" y2="1241.1" stroke="#d6d8df" stroke-width="0.7"/>
<line x1="435.2" y1="1239.9" x2="435.2" y2="1242.3" stroke="#d6d8df" stroke-width="0.7"/>
<line x1="434.1" y1="1250.3" x2="436.4" y2="1250.3" stroke="#d6d8df" stroke-width="0.7"/>
<line x1="435.2" y1="1249.1" x2="435.2" y2="1251.5" stroke="#d6d8df" stroke-width="0.7"/>
<line x1="441.3" y1="1241.1" x2="443.7" y2="1241.1" stroke="#d6d8df" stroke-width="0.7"/>
<line x1="442.5" y1="1239.9" x2="442.5" y2="1242.3" stroke="#d6d8df" stroke-width="0.7"/>
<line x1="441.3" y1="1250.3" x2="443.7" y2="1250.3" stroke="#d6d8df" stroke-width="0.7"/>
<line x1="442.5" y1="1249.1" x2="442.5" y2="1251.5" stroke="#d6d8df" stroke-width="0.7"/>
<line x1="431.0" y1="1267.0" x2="431.0" y2="1317.0" stroke="#d6d8df" stroke-width="1.1"/>
<line x1="440.6" y1="1267.0" x2="440.6" y2="1317.0" stroke="#d6d8df" stroke-width="1.1"/>
<polyline points="424.4,1255.0 430.0,1257.0 431.0,1268.0 440.6,1268.0 441.0,1257.0 446.1,1255.0" fill="none" stroke="#d6d8df" stroke-width="1.0"/>
<line x1="432.2" y1="1259.5" x2="434.6" y2="1259.5" stroke="#d6d8df" stroke-width="0.7"/>
<line x1="433.4" y1="1258.3" x2="433.4" y2="1260.7" stroke="#d6d8df" stroke-width="0.7"/>
<line x1="432.2" y1="1264.5" x2="434.6" y2="1264.5" stroke="#d6d8df" stroke-width="0.7"/>
<line x1="433.4" y1="1263.3" x2="433.4" y2="1265.7" stroke="#d6d8df" stroke-width="0.7"/>
<line x1="437.0" y1="1259.5" x2="439.4" y2="1259.5" stroke="#d6d8df" stroke-width="0.7"/>
<line x1="438.2" y1="1258.3" x2="438.2" y2="1260.7" stroke="#d6d8df" stroke-width="0.7"/>
<line x1="437.0" y1="1264.5" x2="439.4" y2="1264.5" stroke="#d6d8df" stroke-width="0.7"/>
<line x1="438.2" y1="1263.3" x2="438.2" y2="1265.7" stroke="#d6d8df" stroke-width="0.7"/>
<polyline points="431.0,1317.0 430.0,1327.0 424.4,1329.7" fill="none" stroke="#d6d8df" stroke-width="1.0"/>
<polyline points="440.6,1317.0 441.0,1327.0 446.1,1329.7" fill="none" stroke="#d6d8df" stroke-width="1.0"/>
<line x1="431.0" y1="1317.0" x2="440.6" y2="1317.0" stroke="#d6d8df" stroke-width="1.0"/>
<line x1="432.2" y1="1320.5" x2="434.6" y2="1320.5" stroke="#d6d8df" stroke-width="0.7"/>
<line x1="433.4" y1="1319.3" x2="433.4" y2="1321.7" stroke="#d6d8df" stroke-width="0.7"/>
<line x1="432.2" y1="1325.5" x2="434.6" y2="1325.5" stroke="#d6d8df" stroke-width="0.7"/>
<line x1="433.4" y1="1324.3" x2="433.4" y2="1326.7" stroke="#d6d8df" stroke-width="0.7"/>
<line x1="437.0" y1="1320.5" x2="439.4" y2="1320.5" stroke="#d6d8df" stroke-width="0.7"/>
<line x1="438.2" y1="1319.3" x2="438.2" y2="1321.7" stroke="#d6d8df" stroke-width="0.7"/>
<line x1="437.0" y1="1325.5" x2="439.4" y2="1325.5" stroke="#d6d8df" stroke-width="0.7"/>
<line x1="438.2" y1="1324.3" x2="438.2" y2="1326.7" stroke="#d6d8df" stroke-width="0.7"/>
<line x1="302.0" y1="1329.7" x2="527.4" y2="1329.7" stroke="#d6d8df" stroke-width="1.2"/>
<rect x="424.4" y="1329.7" width="21.7" height="21.7" fill="none" stroke="#d6d8df" stroke-width="1.1"/>
<line x1="426.8" y1="1335.1" x2="429.2" y2="1335.1" stroke="#d6d8df" stroke-width="0.7"/>
<line x1="428.0" y1="1333.9" x2="428.0" y2="1336.3" stroke="#d6d8df" stroke-width="0.7"/>
<line x1="426.8" y1="1346.0" x2="429.2" y2="1346.0" stroke="#d6d8df" stroke-width="0.7"/>
<line x1="428.0" y1="1344.8" x2="428.0" y2="1347.2" stroke="#d6d8df" stroke-width="0.7"/>
<line x1="434.1" y1="1335.1" x2="436.4" y2="1335.1" stroke="#d6d8df" stroke-width="0.7"/>
<line x1="435.2" y1="1333.9" x2="435.2" y2="1336.3" stroke="#d6d8df" stroke-width="0.7"/>
<line x1="434.1" y1="1346.0" x2="436.4" y2="1346.0" stroke="#d6d8df" stroke-width="0.7"/>
<line x1="435.2" y1="1344.8" x2="435.2" y2="1347.2" stroke="#d6d8df" stroke-width="0.7"/>
<line x1="441.3" y1="1335.1" x2="443.7" y2="1335.1" stroke="#d6d8df" stroke-width="0.7"/>
<line x1="442.5" y1="1333.9" x2="442.5" y2="1336.3" stroke="#d6d8df" stroke-width="0.7"/>
<line x1="441.3" y1="1346.0" x2="443.7" y2="1346.0" stroke="#d6d8df" stroke-width="0.7"/>
<line x1="442.5" y1="1344.8" x2="442.5" y2="1347.2" stroke="#d6d8df" stroke-width="0.7"/>
<rect x="466.4" y="1320.0" width="26.0" height="19.3" fill="none" stroke="#d6d8df" stroke-width="1.1"/>
<line x1="468.4" y1="1324.8" x2="470.8" y2="1324.8" stroke="#d6d8df" stroke-width="0.7"/>
<line x1="469.6" y1="1323.6" x2="469.6" y2="1326.0" stroke="#d6d8df" stroke-width="0.7"/>
<line x1="468.4" y1="1334.5" x2="470.8" y2="1334.5" stroke="#d6d8df" stroke-width="0.7"/>
<line x1="469.6" y1="1333.3" x2="469.6" y2="1335.7" stroke="#d6d8df" stroke-width="0.7"/>
<line x1="474.9" y1="1324.8" x2="477.3" y2="1324.8" stroke="#d6d8df" stroke-width="0.7"/>
<line x1="476.1" y1="1323.6" x2="476.1" y2="1326.0" stroke="#d6d8df" stroke-width="0.7"/>
<line x1="474.9" y1="1334.5" x2="477.3" y2="1334.5" stroke="#d6d8df" stroke-width="0.7"/>
<line x1="476.1" y1="1333.3" x2="476.1" y2="1335.7" stroke="#d6d8df" stroke-width="0.7"/>
<line x1="481.4" y1="1324.8" x2="483.8" y2="1324.8" stroke="#d6d8df" stroke-width="0.7"/>
<line x1="482.6" y1="1323.6" x2="482.6" y2="1326.0" stroke="#d6d8df" stroke-width="0.7"/>
<line x1="481.4" y1="1334.5" x2="483.8" y2="1334.5" stroke="#d6d8df" stroke-width="0.7"/>
<line x1="482.6" y1="1333.3" x2="482.6" y2="1335.7" stroke="#d6d8df" stroke-width="0.7"/>
<line x1="487.9" y1="1324.8" x2="490.3" y2="1324.8" stroke="#d6d8df" stroke-width="0.7"/>
<line x1="489.1" y1="1323.6" x2="489.1" y2="1326.0" stroke="#d6d8df" stroke-width="0.7"/>
<line x1="487.9" y1="1334.5" x2="490.3" y2="1334.5" stroke="#d6d8df" stroke-width="0.7"/>
<line x1="489.1" y1="1333.3" x2="489.1" y2="1335.7" stroke="#d6d8df" stroke-width="0.7"/>
<line x1="461.0" y1="1310.4" x2="527.4" y2="1310.4" stroke="#d6d8df" stroke-width="1.0"/>
<line x1="461.0" y1="1319.6" x2="527.4" y2="1319.6" stroke="#d6d8df" stroke-width="1.0"/>
<rect x="332.0" y="1338.0" width="9.7" height="201.4" fill="none" stroke="#d6d8df" stroke-width="1.0"/>
<line x1="333.2" y1="1343.8" x2="335.6" y2="1343.8" stroke="#d6d8df" stroke-width="0.7"/>
<line x1="334.4" y1="1342.6" x2="334.4" y2="1345.0" stroke="#d6d8df" stroke-width="0.7"/>
<line x1="333.2" y1="1351.4" x2="335.6" y2="1351.4" stroke="#d6d8df" stroke-width="0.7"/>
<line x1="334.4" y1="1350.2" x2="334.4" y2="1352.6" stroke="#d6d8df" stroke-width="0.7"/>
<line x1="333.2" y1="1359.0" x2="335.6" y2="1359.0" stroke="#d6d8df" stroke-width="0.7"/>
<line x1="334.4" y1="1357.8" x2="334.4" y2="1360.2" stroke="#d6d8df" stroke-width="0.7"/>
<line x1="333.2" y1="1366.6" x2="335.6" y2="1366.6" stroke="#d6d8df" stroke-width="0.7"/>
<line x1="334.4" y1="1365.4" x2="334.4" y2="1367.8" stroke="#d6d8df" stroke-width="0.7"/>
<line x1="333.2" y1="1374.2" x2="335.6" y2="1374.2" stroke="#d6d8df" stroke-width="0.7"/>
<line x1="334.4" y1="1373.0" x2="334.4" y2="1375.4" stroke="#d6d8df" stroke-width="0.7"/>
<line x1="338.1" y1="1343.8" x2="340.5" y2="1343.8" stroke="#d6d8df" stroke-width="0.7"/>
<line x1="339.3" y1="1342.6" x2="339.3" y2="1345.0" stroke="#d6d8df" stroke-width="0.7"/>
<line x1="338.1" y1="1351.4" x2="340.5" y2="1351.4" stroke="#d6d8df" stroke-width="0.7"/>
<line x1="339.3" y1="1350.2" x2="339.3" y2="1352.6" stroke="#d6d8df" stroke-width="0.7"/>
<line x1="338.1" y1="1359.0" x2="340.5" y2="1359.0" stroke="#d6d8df" stroke-width="0.7"/>
<line x1="339.3" y1="1357.8" x2="339.3" y2="1360.2" stroke="#d6d8df" stroke-width="0.7"/>
<line x1="338.1" y1="1366.6" x2="340.5" y2="1366.6" stroke="#d6d8df" stroke-width="0.7"/>
<line x1="339.3" y1="1365.4" x2="339.3" y2="1367.8" stroke="#d6d8df" stroke-width="0.7"/>
<line x1="338.1" y1="1374.2" x2="340.5" y2="1374.2" stroke="#d6d8df" stroke-width="0.7"/>
<line x1="339.3" y1="1373.0" x2="339.3" y2="1375.4" stroke="#d6d8df" stroke-width="0.7"/>
<line x1="333.2" y1="1410.0" x2="335.6" y2="1410.0" stroke="#d6d8df" stroke-width="0.7"/>
<line x1="334.4" y1="1408.8" x2="334.4" y2="1411.2" stroke="#d6d8df" stroke-width="0.7"/>
<line x1="333.2" y1="1418.0" x2="335.6" y2="1418.0" stroke="#d6d8df" stroke-width="0.7"/>
<line x1="334.4" y1="1416.8" x2="334.4" y2="1419.2" stroke="#d6d8df" stroke-width="0.7"/>
<line x1="333.2" y1="1426.0" x2="335.6" y2="1426.0" stroke="#d6d8df" stroke-width="0.7"/>
<line x1="334.4" y1="1424.8" x2="334.4" y2="1427.2" stroke="#d6d8df" stroke-width="0.7"/>
<line x1="333.2" y1="1434.0" x2="335.6" y2="1434.0" stroke="#d6d8df" stroke-width="0.7"/>
<line x1="334.4" y1="1432.8" x2="334.4" y2="1435.2" stroke="#d6d8df" stroke-width="0.7"/>
<line x1="338.1" y1="1410.0" x2="340.5" y2="1410.0" stroke="#d6d8df" stroke-width="0.7"/>
<line x1="339.3" y1="1408.8" x2="339.3" y2="1411.2" stroke="#d6d8df" stroke-width="0.7"/>
<line x1="338.1" y1="1418.0" x2="340.5" y2="1418.0" stroke="#d6d8df" stroke-width="0.7"/>
<line x1="339.3" y1="1416.8" x2="339.3" y2="1419.2" stroke="#d6d8df" stroke-width="0.7"/>
<line x1="338.1" y1="1426.0" x2="340.5" y2="1426.0" stroke="#d6d8df" stroke-width="0.7"/>
<line x1="339.3" y1="1424.8" x2="339.3" y2="1427.2" stroke="#d6d8df" stroke-width="0.7"/>
<line x1="338.1" y1="1434.0" x2="340.5" y2="1434.0" stroke="#d6d8df" stroke-width="0.7"/>
<line x1="339.3" y1="1432.8" x2="339.3" y2="1435.2" stroke="#d6d8df" stroke-width="0.7"/>
<line x1="332.0" y1="1377.5" x2="341.7" y2="1377.5" stroke="#d6d8df" stroke-width="1.0"/>
<line x1="332.0" y1="1439.5" x2="341.7" y2="1439.5" stroke="#d6d8df" stroke-width="1.0"/>
<line x1="302.0" y1="1387.6" x2="527.4" y2="1387.6" stroke="#d6d8df" stroke-width="1.2"/>
<line x1="508.8" y1="1338.0" x2="508.8" y2="1539.4" stroke="#d6d8df" stroke-width="1.0"/>
<line x1="518.5" y1="1329.7" x2="518.5" y2="1539.4" stroke="#d6d8df" stroke-width="1.0"/>
<line x1="527.4" y1="1329.7" x2="527.4" y2="1539.4" stroke="#d6d8df" stroke-width="1.0"/>
<line x1="508.8" y1="1338.0" x2="518.5" y2="1338.0" stroke="#d6d8df" stroke-width="1.0"/>
<line x1="510.0" y1="1343.8" x2="512.4" y2="1343.8" stroke="#d6d8df" stroke-width="0.7"/>
<line x1="511.2" y1="1342.6" x2="511.2" y2="1345.0" stroke="#d6d8df" stroke-width="0.7"/>
<line x1="510.0" y1="1351.4" x2="512.4" y2="1351.4" stroke="#d6d8df" stroke-width="0.7"/>
<line x1="511.2" y1="1350.2" x2="511.2" y2="1352.6" stroke="#d6d8df" stroke-width="0.7"/>
<line x1="510.0" y1="1359.0" x2="512.4" y2="1359.0" stroke="#d6d8df" stroke-width="0.7"/>
<line x1="511.2" y1="1357.8" x2="511.2" y2="1360.2" stroke="#d6d8df" stroke-width="0.7"/>
<line x1="510.0" y1="1366.6" x2="512.4" y2="1366.6" stroke="#d6d8df" stroke-width="0.7"/>
<line x1="511.2" y1="1365.4" x2="511.2" y2="1367.8" stroke="#d6d8df" stroke-width="0.7"/>
<line x1="510.0" y1="1374.2" x2="512.4" y2="1374.2" stroke="#d6d8df" stroke-width="0.7"/>
<line x1="511.2" y1="1373.0" x2="511.2" y2="1375.4" stroke="#d6d8df" stroke-width="0.7"/>
<line x1="514.9" y1="1343.8" x2="517.3" y2="1343.8" stroke="#d6d8df" stroke-width="0.7"/>
<line x1="516.1" y1="1342.6" x2="516.1" y2="1345.0" stroke="#d6d8df" stroke-width="0.7"/>
<line x1="514.9" y1="1351.4" x2="517.3" y2="1351.4" stroke="#d6d8df" stroke-width="0.7"/>
<line x1="516.1" y1="1350.2" x2="516.1" y2="1352.6" stroke="#d6d8df" stroke-width="0.7"/>
<line x1="514.9" y1="1359.0" x2="517.3" y2="1359.0" stroke="#d6d8df" stroke-width="0.7"/>
<line x1="516.1" y1="1357.8" x2="516.1" y2="1360.2" stroke="#d6d8df" stroke-width="0.7"/>
<line x1="514.9" y1="1366.6" x2="517.3" y2="1366.6" stroke="#d6d8df" stroke-width="0.7"/>
<line x1="516.1" y1="1365.4" x2="516.1" y2="1367.8" stroke="#d6d8df" stroke-width="0.7"/>
<line x1="514.9" y1="1374.2" x2="517.3" y2="1374.2" stroke="#d6d8df" stroke-width="0.7"/>
<line x1="516.1" y1="1373.0" x2="516.1" y2="1375.4" stroke="#d6d8df" stroke-width="0.7"/>
<line x1="510.0" y1="1410.0" x2="512.4" y2="1410.0" stroke="#d6d8df" stroke-width="0.7"/>
<line x1="511.2" y1="1408.8" x2="511.2" y2="1411.2" stroke="#d6d8df" stroke-width="0.7"/>
<line x1="510.0" y1="1418.0" x2="512.4" y2="1418.0" stroke="#d6d8df" stroke-width="0.7"/>
<line x1="511.2" y1="1416.8" x2="511.2" y2="1419.2" stroke="#d6d8df" stroke-width="0.7"/>
<line x1="510.0" y1="1426.0" x2="512.4" y2="1426.0" stroke="#d6d8df" stroke-width="0.7"/>
<line x1="511.2" y1="1424.8" x2="511.2" y2="1427.2" stroke="#d6d8df" stroke-width="0.7"/>
<line x1="510.0" y1="1434.0" x2="512.4" y2="1434.0" stroke="#d6d8df" stroke-width="0.7"/>
<line x1="511.2" y1="1432.8" x2="511.2" y2="1435.2" stroke="#d6d8df" stroke-width="0.7"/>
<line x1="514.9" y1="1410.0" x2="517.3" y2="1410.0" stroke="#d6d8df" stroke-width="0.7"/>
<line x1="516.1" y1="1408.8" x2="516.1" y2="1411.2" stroke="#d6d8df" stroke-width="0.7"/>
<line x1="514.9" y1="1418.0" x2="517.3" y2="1418.0" stroke="#d6d8df" stroke-width="0.7"/>
<line x1="516.1" y1="1416.8" x2="516.1" y2="1419.2" stroke="#d6d8df" stroke-width="0.7"/>
<line x1="514.9" y1="1426.0" x2="517.3" y2="1426.0" stroke="#d6d8df" stroke-width="0.7"/>
<line x1="516.1" y1="1424.8" x2="516.1" y2="1427.2" stroke="#d6d8df" stroke-width="0.7"/>
<line x1="514.9" y1="1434.0" x2="517.3" y2="1434.0" stroke="#d6d8df" stroke-width="0.7"/>
<line x1="516.1" y1="1432.8" x2="516.1" y2="1435.2" stroke="#d6d8df" stroke-width="0.7"/>
<line x1="508.8" y1="1439.5" x2="518.5" y2="1439.5" stroke="#d6d8df" stroke-width="1.0"/>
<line x1="508.8" y1="1445.4" x2="527.4" y2="1445.4" stroke="#d6d8df" stroke-width="1.0"/>
<line x1="508.8" y1="1484.0" x2="527.4" y2="1484.0" stroke="#d6d8df" stroke-width="1.0"/>
<line x1="508.8" y1="1521.4" x2="527.4" y2="1521.4" stroke="#d6d8df" stroke-width="1.0"/>
<line x1="546.7" y1="1337.0" x2="546.7" y2="1439.5" stroke="#d6d8df" stroke-width="1.0"/>
<line x1="566.0" y1="1337.0" x2="566.0" y2="1439.5" stroke="#d6d8df" stroke-width="1.0"/>
<line x1="530.0" y1="1337.0" x2="550.0" y2="1337.0" stroke="#d6d8df" stroke-width="0.9"/>
<line x1="553.0" y1="1337.0" x2="570.0" y2="1337.0" stroke="#d6d8df" stroke-width="0.9"/>
<line x1="530.0" y1="1387.6" x2="550.0" y2="1387.6" stroke="#d6d8df" stroke-width="0.9"/>
<line x1="530.0" y1="1439.5" x2="570.0" y2="1439.5" stroke="#d6d8df" stroke-width="0.9"/>
<line x1="543.7" y1="1334.0" x2="549.7" y2="1340.0" stroke="#d6d8df" stroke-width="1.0"/>
<line x1="563.0" y1="1334.0" x2="569.0" y2="1340.0" stroke="#d6d8df" stroke-width="1.0"/>
<line x1="543.7" y1="1384.6" x2="549.7" y2="1390.6" stroke="#d6d8df" stroke-width="1.0"/>
<line x1="543.7" y1="1436.5" x2="549.7" y2="1442.5" stroke="#d6d8df" stroke-width="1.0"/>
<line x1="563.0" y1="1436.5" x2="569.0" y2="1442.5" stroke="#d6d8df" stroke-width="1.0"/>
<text x="534.6" y="1365.5" font-size="6.54" textLength="11.0" lengthAdjust="spacingAndGlyphs" fill="#eef0f4" stroke="#eef0f4" stroke-width="0.2">7.5"</text>
<text x="556.3" y="1390.0" font-size="6.54" textLength="9.0" lengthAdjust="spacingAndGlyphs" fill="#eef0f4" stroke="#eef0f4" stroke-width="0.2">15"</text>
<text x="534.6" y="1415.0" font-size="6.54" textLength="11.0" lengthAdjust="spacingAndGlyphs" fill="#eef0f4" stroke="#eef0f4" stroke-width="0.2">7.5"</text>
<polyline points="394.0,1267.5 400.0,1267.5 424.0,1250.0" fill="none" stroke="#d6d8df" stroke-width="0.9"/>
<polyline points="456.0,1256.0 450.0,1260.0 459.5,1283.0 450.0,1306.0 441.0,1318.0" fill="none" stroke="#d6d8df" stroke-width="0.9"/>
<line x1="459.5" y1="1283.0" x2="464.0" y2="1283.0" stroke="#d6d8df" stroke-width="0.9"/>
<polyline points="576.0,1325.0 494.0,1325.0" fill="none" stroke="#d6d8df" stroke-width="0.9"/>
<polygon points="498.8,1323.8 494.0,1325.0 498.8,1326.2" fill="#d6d8df" stroke="#d6d8df" stroke-width="0.6"/>
<polyline points="413.0,1400.3 508.0,1400.3" fill="none" stroke="#d6d8df" stroke-width="0.9"/>
<polygon points="503.2,1401.5 508.0,1400.3 503.2,1399.1" fill="#d6d8df" stroke="#d6d8df" stroke-width="0.6"/>
<polyline points="434.0,1429.3 508.0,1429.3" fill="none" stroke="#d6d8df" stroke-width="0.9"/>
<polygon points="503.2,1430.5 508.0,1429.3 503.2,1428.1" fill="#d6d8df" stroke="#d6d8df" stroke-width="0.6"/>
<polyline points="434.0,1461.0 507.0,1461.0" fill="none" stroke="#d6d8df" stroke-width="0.9"/>
<polygon points="502.2,1462.2 507.0,1461.0 502.2,1459.8" fill="#d6d8df" stroke="#d6d8df" stroke-width="0.6"/>
<polyline points="453.4,1490.5 472.0,1490.5 508.0,1521.0" fill="none" stroke="#d6d8df" stroke-width="0.9"/>
<polyline points="370.5,1530.3 343.0,1424.0" fill="none" stroke="#d6d8df" stroke-width="0.9"/>
<polyline points="288.0,1471.5 316.0,1471.5 328.5,1524.5" fill="none" stroke="#d6d8df" stroke-width="0.9"/>
<polyline points="584.0,1479.9 564.7,1479.9 533.4,1543.0" fill="none" stroke="#d6d8df" stroke-width="0.9"/>
<text x="367.5" y="1270.8" font-size="9.59" textLength="26.1" lengthAdjust="spacingAndGlyphs" fill="#eef0f4" stroke="#eef0f4" stroke-width="0.2">6-10d</text>
<text x="367.5" y="1279.6" font-size="9.59" textLength="46.5" lengthAdjust="spacingAndGlyphs" fill="#eef0f4" stroke="#eef0f4" stroke-width="0.2">NAILS PER</text>
<text x="367.5" y="1288.4" font-size="9.59" textLength="41.8" lengthAdjust="spacingAndGlyphs" fill="#eef0f4" stroke="#eef0f4" stroke-width="0.2">CONNECT.</text>
<text x="367.5" y="1296.9" font-size="9.59" textLength="24.9" lengthAdjust="spacingAndGlyphs" fill="#eef0f4" stroke="#eef0f4" stroke-width="0.2">(TYP)</text>
<text x="464.7" y="1270.4" font-size="9.59" textLength="151.9" lengthAdjust="spacingAndGlyphs" fill="#eef0f4" stroke="#eef0f4" stroke-width="0.2">NOTE: IF HEADER IS NOT LOCATED</text>
<text x="464.7" y="1279.4" font-size="9.59" textLength="154.3" lengthAdjust="spacingAndGlyphs" fill="#eef0f4" stroke="#eef0f4" stroke-width="0.2">DIRECTLY UNDER DBL. TOP PLATE.</text>
<text x="464.7" y="1288.0" font-size="9.59" textLength="161.1" lengthAdjust="spacingAndGlyphs" fill="#eef0f4" stroke="#eef0f4" stroke-width="0.2">ATTACH CRIPPLE STUDS AT HEADER</text>
<text x="464.7" y="1296.4" font-size="9.59" textLength="159.9" lengthAdjust="spacingAndGlyphs" fill="#eef0f4" stroke="#eef0f4" stroke-width="0.2">AND TOP PLATE WITH SIMPSON "SP2"</text>
<text x="464.7" y="1305.4" font-size="9.59" textLength="59.5" lengthAdjust="spacingAndGlyphs" fill="#eef0f4" stroke="#eef0f4" stroke-width="0.2">CONNECTORS.</text>
<text x="579.7" y="1328.4" font-size="9.59" textLength="70.6" lengthAdjust="spacingAndGlyphs" fill="#eef0f4" stroke="#eef0f4" stroke-width="0.2">NOTE: IF HDR. IS</text>
<text x="579.7" y="1337.2" font-size="9.59" textLength="89.2" lengthAdjust="spacingAndGlyphs" fill="#eef0f4" stroke="#eef0f4" stroke-width="0.2">LOCATED DIRECTLY</text>
<text x="579.7" y="1345.9" font-size="9.59" textLength="83.4" lengthAdjust="spacingAndGlyphs" fill="#eef0f4" stroke="#eef0f4" stroke-width="0.2">UNDER TOP PLATE.</text>
<text x="579.7" y="1354.8" font-size="9.59" textLength="89.2" lengthAdjust="spacingAndGlyphs" fill="#eef0f4" stroke="#eef0f4" stroke-width="0.2">USE SIMPSON "LTP4"</text>
<text x="579.7" y="1363.2" font-size="9.59" textLength="73.0" lengthAdjust="spacingAndGlyphs" fill="#eef0f4" stroke="#eef0f4" stroke-width="0.2">CONNECTORS AT</text>
<text x="579.7" y="1372.9" font-size="9.59" textLength="81.5" lengthAdjust="spacingAndGlyphs" fill="#eef0f4" stroke="#eef0f4" stroke-width="0.2">16" O.C.  USE 6-8d</text>
<text x="579.7" y="1381.4" font-size="9.59" textLength="92.3" lengthAdjust="spacingAndGlyphs" fill="#eef0f4" stroke="#eef0f4" stroke-width="0.2">NAILS PER CONNECT.</text>
<text x="579.7" y="1389.7" font-size="9.59" textLength="24.8" lengthAdjust="spacingAndGlyphs" fill="#eef0f4" stroke="#eef0f4" stroke-width="0.2">(TYP)</text>
<text x="373.0" y="1365.2" font-size="9.59" textLength="52.0" lengthAdjust="spacingAndGlyphs" fill="#eef0f4" stroke="#eef0f4" stroke-width="0.2">HEADER AS</text>
<text x="373.0" y="1374.1" font-size="9.59" textLength="32.6" lengthAdjust="spacingAndGlyphs" fill="#eef0f4" stroke="#eef0f4" stroke-width="0.2">SPEC'D</text>
<text x="374.8" y="1403.7" font-size="9.59" textLength="38.1" lengthAdjust="spacingAndGlyphs" fill="#eef0f4" stroke="#eef0f4" stroke-width="0.2">SIMPSON</text>
<text x="374.8" y="1412.6" font-size="9.59" textLength="35.7" lengthAdjust="spacingAndGlyphs" fill="#eef0f4" stroke="#eef0f4" stroke-width="0.2">"LSTA15"</text>
<text x="374.8" y="1421.1" font-size="9.59" textLength="29.6" lengthAdjust="spacingAndGlyphs" fill="#eef0f4" stroke="#eef0f4" stroke-width="0.2">STRAP</text>
<text x="374.8" y="1432.7" font-size="9.59" textLength="54.5" lengthAdjust="spacingAndGlyphs" fill="#eef0f4" stroke="#eef0f4" stroke-width="0.2">6-10d NAILS</text>
<text x="374.8" y="1441.6" font-size="9.59" textLength="45.3" lengthAdjust="spacingAndGlyphs" fill="#eef0f4" stroke="#eef0f4" stroke-width="0.2">EACH END</text>
<text x="373.8" y="1463.8" font-size="9.59" textLength="52.3" lengthAdjust="spacingAndGlyphs" fill="#eef0f4" stroke="#eef0f4" stroke-width="0.2">MIN. (1) 2"x4"</text>
<text x="373.8" y="1472.4" font-size="9.59" textLength="63.2" lengthAdjust="spacingAndGlyphs" fill="#eef0f4" stroke="#eef0f4" stroke-width="0.2">BEARING STUD</text>
<text x="373.0" y="1492.9" font-size="9.59" textLength="75.5" lengthAdjust="spacingAndGlyphs" fill="#eef0f4" stroke="#eef0f4" stroke-width="0.2">ATTACH BEARING</text>
<text x="373.0" y="1501.8" font-size="9.59" textLength="84.5" lengthAdjust="spacingAndGlyphs" fill="#eef0f4" stroke="#eef0f4" stroke-width="0.2">STUD TO KING STUD</text>
<text x="373.0" y="1510.4" font-size="9.59" textLength="79.6" lengthAdjust="spacingAndGlyphs" fill="#eef0f4" stroke="#eef0f4" stroke-width="0.2">WITH TWO ROWS OF</text>
<text x="373.0" y="1519.2" font-size="9.59" textLength="90.5" lengthAdjust="spacingAndGlyphs" fill="#eef0f4" stroke="#eef0f4" stroke-width="0.2">10d NAILS AT 12" O.C.</text>
<text x="374.8" y="1533.7" font-size="9.59" textLength="36.9" lengthAdjust="spacingAndGlyphs" fill="#eef0f4" stroke="#eef0f4" stroke-width="0.2">SIMPSON</text>
<text x="374.8" y="1542.4" font-size="9.59" textLength="68.2" lengthAdjust="spacingAndGlyphs" fill="#eef0f4" stroke="#eef0f4" stroke-width="0.2">"LSTA15" STRAP</text>
<text x="374.8" y="1551.3" font-size="9.59" textLength="74.2" lengthAdjust="spacingAndGlyphs" fill="#eef0f4" stroke="#eef0f4" stroke-width="0.2">@ STUD POCKETS</text>
<text x="374.8" y="1559.7" font-size="9.59" textLength="100.7" lengthAdjust="spacingAndGlyphs" fill="#eef0f4" stroke="#eef0f4" stroke-width="0.2">(6- 10d NAILS EA END)</text>
<text x="241.2" y="1475.8" font-size="9.59" textLength="36.7" lengthAdjust="spacingAndGlyphs" fill="#eef0f4" stroke="#eef0f4" stroke-width="0.2">SIMPSON</text>
<text x="241.2" y="1484.4" font-size="9.59" textLength="67.5" lengthAdjust="spacingAndGlyphs" fill="#eef0f4" stroke="#eef0f4" stroke-width="0.2">"LSTA15" STRAP</text>
<text x="241.2" y="1493.4" font-size="9.59" textLength="39.1" lengthAdjust="spacingAndGlyphs" fill="#eef0f4" stroke="#eef0f4" stroke-width="0.2">TO BAND</text>
<text x="587.6" y="1475.8" font-size="9.59" textLength="37.4" lengthAdjust="spacingAndGlyphs" fill="#eef0f4" stroke="#eef0f4" stroke-width="0.2">SIMPSON</text>
<text x="587.6" y="1484.4" font-size="9.59" textLength="67.6" lengthAdjust="spacingAndGlyphs" fill="#eef0f4" stroke="#eef0f4" stroke-width="0.2">"LSTA15" STRAP</text>
<text x="587.6" y="1493.4" font-size="9.59" textLength="39.4" lengthAdjust="spacingAndGlyphs" fill="#eef0f4" stroke="#eef0f4" stroke-width="0.2">TO BAND</text>
<circle cx="354.5" cy="1582.8" r="10.1" fill="none" stroke="#d6d8df" stroke-width="1.2"/>
<text x="354.5" y="1587.6" font-size="13.81" font-weight="400" text-anchor="middle" fill="#eef0f4">C</text>
<text x="369.5" y="1589.0" font-size="18.17" font-weight="400" textLength="232.5" lengthAdjust="spacingAndGlyphs" fill="#eef0f4">HEADER STRAP-ELEV.</text>
<line x1="368.3" y1="1591.6" x2="602.0" y2="1591.6" stroke="#d6d8df" stroke-width="1.2"/>
<text x="574.9" y="1599.0" font-size="6.98" textLength="15.0" lengthAdjust="spacingAndGlyphs" fill="#eef0f4" stroke="#eef0f4" stroke-width="0.2">NTS</text>
<rect x="849.8" y="427.2" width="232.1" height="227.2" fill="none" stroke="#d6d8df" stroke-width="1.2"/>
<text x="856.2" y="443.1" font-size="12.65" font-weight="400" textLength="180.3" lengthAdjust="spacingAndGlyphs" fill="#eef0f4">HEADER AND COLUMN NOTES</text>
<line x1="856.2" y1="445.3" x2="1036.5" y2="445.3" stroke="#d6d8df" stroke-width="1.0"/>
<text x="856.2" y="467.7" font-size="10.47" textLength="192.8" lengthAdjust="spacingAndGlyphs" fill="#eef0f4" stroke="#eef0f4" stroke-width="0.2">1. ALL EXTERIOR AND LOAD BEARING</text>
<text x="856.2" y="480.0" font-size="10.47" textLength="205.8" lengthAdjust="spacingAndGlyphs" fill="#eef0f4" stroke="#eef0f4" stroke-width="0.2">HEADERS SHALL BE MIN. (2) 2x6 WITH (1)</text>
<text x="856.2" y="492.3" font-size="10.47" textLength="216.8" lengthAdjust="spacingAndGlyphs" fill="#eef0f4" stroke="#eef0f4" stroke-width="0.2">SUPPORT STUD AND (1) KING STUD, UNLESS</text>
<text x="856.2" y="504.4" font-size="10.47" textLength="95.8" lengthAdjust="spacingAndGlyphs" fill="#eef0f4" stroke="#eef0f4" stroke-width="0.2">NOTED OTHERWISE.</text>
<text x="856.2" y="528.5" font-size="10.47" textLength="187.8" lengthAdjust="spacingAndGlyphs" fill="#eef0f4" stroke="#eef0f4" stroke-width="0.2">2. THE NUMBER SHOWN AT BEAM AND</text>
<text x="856.2" y="540.8" font-size="10.47" textLength="179.8" lengthAdjust="spacingAndGlyphs" fill="#eef0f4" stroke="#eef0f4" stroke-width="0.2">HEADER SUPPORTS INDICATES THE</text>
<text x="856.2" y="552.8" font-size="10.47" textLength="214.1" lengthAdjust="spacingAndGlyphs" fill="#eef0f4" stroke="#eef0f4" stroke-width="0.2">NUMBER OF SUPPORT STUDS REQUIRED IN</text>
<text x="856.2" y="565.0" font-size="10.47" textLength="136.8" lengthAdjust="spacingAndGlyphs" fill="#eef0f4" stroke="#eef0f4" stroke-width="0.2">STUD POCKET OR COLUMN.</text>
<text x="856.2" y="589.3" font-size="10.47" textLength="207.3" lengthAdjust="spacingAndGlyphs" fill="#eef0f4" stroke="#eef0f4" stroke-width="0.2">3. COLUMNS CONSISTING OF (7) OR MORE</text>
<text x="856.2" y="601.6" font-size="10.47" textLength="219.8" lengthAdjust="spacingAndGlyphs" fill="#eef0f4" stroke="#eef0f4" stroke-width="0.2">STUDS SHALL BE WRAPPED WITH 22-GAUGE</text>
<text x="856.2" y="613.6" font-size="10.47" textLength="136.8" lengthAdjust="spacingAndGlyphs" fill="#eef0f4" stroke="#eef0f4" stroke-width="0.2">METAL STRAPS AT 24" O.C.</text>
<text x="836.8" y="724.5" font-size="15.99" font-weight="400" textLength="135.8" lengthAdjust="spacingAndGlyphs" fill="#eef0f4">BRACING NOTES:</text>
<text x="836.8" y="738.8" font-size="10.76" textLength="325.7" lengthAdjust="spacingAndGlyphs" fill="#eef0f4" stroke="#eef0f4" stroke-width="0.2">1. WALL BRACING ANALYSIS BASED ON R602.10 - CODE AND</text>
<text x="836.8" y="751.5" font-size="10.76" textLength="298.7" lengthAdjust="spacingAndGlyphs" fill="#eef0f4" stroke="#eef0f4" stroke-width="0.2">COMMENTARY FOR YEAR NC RESIDENTIAL CODE (FINAL</text>
<text x="836.8" y="764.1" font-size="10.76" textLength="324.0" lengthAdjust="spacingAndGlyphs" fill="#eef0f4" stroke="#eef0f4" stroke-width="0.2">03-06-YEAR: EFFECTIVE DATE SEPTEMBER 1, YEAR). WALLS</text>
<text x="836.8" y="776.8" font-size="10.76" textLength="317.2" lengthAdjust="spacingAndGlyphs" fill="#eef0f4" stroke="#eef0f4" stroke-width="0.2">SHALL BE BRACED ACCORDING TO SECTION R4506.2 AND</text>
<text x="836.8" y="789.5" font-size="10.76" textLength="340.0" lengthAdjust="spacingAndGlyphs" fill="#eef0f4" stroke="#eef0f4" stroke-width="0.2">R602.10- CODE AND COMMENTARY FOR YEAR NC RESIDENTIAL</text>
<text x="836.8" y="802.1" font-size="10.76" textLength="319.8" lengthAdjust="spacingAndGlyphs" fill="#eef0f4" stroke="#eef0f4" stroke-width="0.2">CODE (FINAL 03-06-YEAR: EFFECTIVE DATE SEPTEMBER 1,</text>
<text x="836.8" y="814.8" font-size="10.76" textLength="38.8" lengthAdjust="spacingAndGlyphs" fill="#eef0f4" stroke="#eef0f4" stroke-width="0.2">YEAR)).</text>
<text x="836.8" y="840.4" font-size="10.76" textLength="328.2" lengthAdjust="spacingAndGlyphs" fill="#eef0f4" stroke="#eef0f4" stroke-width="0.2">2. NOTE THAT THE WALL BRACING AMOUNT PROVIDED ON THE</text>
<text x="836.8" y="853.1" font-size="10.76" textLength="332.4" lengthAdjust="spacingAndGlyphs" fill="#eef0f4" stroke="#eef0f4" stroke-width="0.2">PLANS (DETAILS AND SPECIFICATIONS) IS GREATER THAN THE</text>
<text x="836.8" y="866.0" font-size="10.76" textLength="308.8" lengthAdjust="spacingAndGlyphs" fill="#eef0f4" stroke="#eef0f4" stroke-width="0.2">AMOUNT OF WALL BRACING REQUIRED BY THE CODE. SEE</text>
<text x="836.8" y="878.6" font-size="10.76" textLength="323.2" lengthAdjust="spacingAndGlyphs" fill="#eef0f4" stroke="#eef0f4" stroke-width="0.2">NOTES BELOW FOR DETAILS AND SPECIFICATIONS FOR WALL</text>
<text x="836.8" y="891.6" font-size="10.76" textLength="50.6" lengthAdjust="spacingAndGlyphs" fill="#eef0f4" stroke="#eef0f4" stroke-width="0.2">BRACING.</text>
<text x="836.8" y="916.9" font-size="10.76" textLength="329.9" lengthAdjust="spacingAndGlyphs" fill="#eef0f4" stroke="#eef0f4" stroke-width="0.2">3. BRACING METHOD AND TYPE: CONTINUOUS SHEATHING PER</text>
<text x="836.8" y="929.9" font-size="10.76" textLength="308.0" lengthAdjust="spacingAndGlyphs" fill="#eef0f4" stroke="#eef0f4" stroke-width="0.2">SECTION R602.10.3 USING WSP (WOOD STRUCTURAL PANEL</text>
<text x="836.8" y="942.5" font-size="10.76" textLength="63.2" lengthAdjust="spacingAndGlyphs" fill="#eef0f4" stroke="#eef0f4" stroke-width="0.2">SHEATHING).</text>
<text x="836.8" y="968.1" font-size="10.76" textLength="332.8" lengthAdjust="spacingAndGlyphs" fill="#eef0f4" stroke="#eef0f4" stroke-width="0.2">4. EXTERIOR WALL SHEATHING: SHEATH EXTERIOR WALLS WITH</text>
<text x="836.8" y="981.1" font-size="10.76" textLength="288.2" lengthAdjust="spacingAndGlyphs" fill="#eef0f4" stroke="#eef0f4" stroke-width="0.2">7/16" WSP (WOOD STRUCTURAL PANEL) SHEATHING (FOR</text>
<text x="836.8" y="994.3" font-size="10.76" textLength="329.5" lengthAdjust="spacingAndGlyphs" fill="#eef0f4" stroke="#eef0f4" stroke-width="0.2">EXPOSURE C, USE 15/32" WSP) AND ATTACH WITH 8d NAILS AT A</text>
<text x="836.8" y="1007.0" font-size="10.76" textLength="344.0" lengthAdjust="spacingAndGlyphs" fill="#eef0f4" stroke="#eef0f4" stroke-width="0.2">3"/6" NAILING PATTERN (3" OC AT PANEL EDGES AND 6" OC AT</text>
<text x="836.8" y="1019.6" font-size="10.76" textLength="142.4" lengthAdjust="spacingAndGlyphs" fill="#eef0f4" stroke="#eef0f4" stroke-width="0.2">INTERMEDIATE SUPPORTS).</text>
<text x="836.8" y="1032.3" font-size="10.76" textLength="318.7" lengthAdjust="spacingAndGlyphs" fill="#eef0f4" stroke="#eef0f4" stroke-width="0.2">INSTALL BLOCKING AT ALL PANEL EDGES. (WSP SHEATHING</text>
<text x="836.8" y="1045.3" font-size="10.76" textLength="313.2" lengthAdjust="spacingAndGlyphs" fill="#eef0f4" stroke="#eef0f4" stroke-width="0.2">SHALL EXTEND TO UPPERMOST DOUBLE BEARING PLATE).</text>
<text x="836.8" y="1058.1" font-size="10.76" textLength="179.4" lengthAdjust="spacingAndGlyphs" fill="#eef0f4" stroke="#eef0f4" stroke-width="0.2">BLOCK AT ROOF PER R602.10.5.5.</text>
<text x="836.8" y="1083.8" font-size="10.76" textLength="341.2" lengthAdjust="spacingAndGlyphs" fill="#eef0f4" stroke="#eef0f4" stroke-width="0.2">5. MINIMUM WALL LENGTHS ARE BASED ON TABLE R602.10.1 AND</text>
<text x="836.8" y="1096.5" font-size="10.76" textLength="320.2" lengthAdjust="spacingAndGlyphs" fill="#eef0f4" stroke="#eef0f4" stroke-width="0.2">ARE TO BE LOCATED AS SPECIFIED IN SECTION R602.10.3.2.</text>
<text x="836.8" y="1122.1" font-size="10.76" textLength="334.9" lengthAdjust="spacingAndGlyphs" fill="#eef0f4" stroke="#eef0f4" stroke-width="0.2">5. HOLD-DOWN DEVICE (NOTED AS "HD" ON PLANS) SHALL BE</text>
<text x="836.8" y="1134.8" font-size="10.76" textLength="324.4" lengthAdjust="spacingAndGlyphs" fill="#eef0f4" stroke="#eef0f4" stroke-width="0.2">AN 800 POUND CAPACITY ASSEMBLY AS NOTED ON PLANS.</text>
<text x="836.8" y="1147.1" font-size="10.76" textLength="179.1" lengthAdjust="spacingAndGlyphs" fill="#eef0f4" stroke="#eef0f4" stroke-width="0.2">SEE DETAILS FOR HD ASSEMBLY.</text>
<text x="836.8" y="1172.8" font-size="10.76" textLength="306.9" lengthAdjust="spacingAndGlyphs" fill="#eef0f4" stroke="#eef0f4" stroke-width="0.2">6. INTERIOR BRACED WALL: (NOTED AS "IBW" ON PLANS)</text>
<text x="836.8" y="1185.4" font-size="10.76" textLength="325.0" lengthAdjust="spacingAndGlyphs" fill="#eef0f4" stroke="#eef0f4" stroke-width="0.2">ATTACH 1/2" GYPSUM BOARD ON EACH SIDE OF WALL WITH A</text>
<text x="836.8" y="1198.6" font-size="10.76" textLength="335.8" lengthAdjust="spacingAndGlyphs" fill="#eef0f4" stroke="#eef0f4" stroke-width="0.2">MIN. OF 5d COOLER NAILS OR #6 SCREWS @ 7" O.C. ALONG THE</text>
<text x="836.8" y="1211.3" font-size="10.76" textLength="333.5" lengthAdjust="spacingAndGlyphs" fill="#eef0f4" stroke="#eef0f4" stroke-width="0.2">EDGES AND AT INTERMEDIATE SUPPORTS.  INTERIOR BRACED</text>
<text x="836.8" y="1223.9" font-size="10.76" textLength="325.0" lengthAdjust="spacingAndGlyphs" fill="#eef0f4" stroke="#eef0f4" stroke-width="0.2">WALLS SHALL BE CONNECTED AS DESCRIBED IN R602.10.5.4</text>
<text x="836.8" y="1236.6" font-size="10.76" textLength="264.4" lengthAdjust="spacingAndGlyphs" fill="#eef0f4" stroke="#eef0f4" stroke-width="0.2">AND FIGURES CR602.10.5.4(1) AND CR602.10.5.4(2).</text>
<text x="846.3" y="1339.6" font-size="15.26" font-weight="400" textLength="252.6" lengthAdjust="spacingAndGlyphs" fill="#eef0f4">TRUSS SYSTEM REQUIREMENTS</text>
<line x1="844.3" y1="1341.9" x2="1098.2" y2="1341.9" stroke="#d6d8df" stroke-width="1.1"/>
<text x="836.8" y="1361.0" font-size="10.03" textLength="286.2" lengthAdjust="spacingAndGlyphs" fill="#eef0f4" stroke="#eef0f4" stroke-width="0.2">1. TRUSS SYSTEM LAYOUTS (PLACEMENT PLANS)</text>
<text x="836.8" y="1373.5" font-size="10.03" textLength="262.9" lengthAdjust="spacingAndGlyphs" fill="#eef0f4" stroke="#eef0f4" stroke-width="0.2">SHALL BE DESIGNED IN ACCORDANCE WITH</text>
<text x="836.8" y="1385.8" font-size="10.03" textLength="262.2" lengthAdjust="spacingAndGlyphs" fill="#eef0f4" stroke="#eef0f4" stroke-width="0.2">SEALED STRUCTURAL PLANS. ANY NEED TO</text>
<text x="836.8" y="1398.2" font-size="10.03" textLength="262.9" lengthAdjust="spacingAndGlyphs" fill="#eef0f4" stroke="#eef0f4" stroke-width="0.2">CHANGE TRUSSES SHALL BE COORDINATED</text>
<text x="836.8" y="1410.2" font-size="10.03" textLength="103.2" lengthAdjust="spacingAndGlyphs" fill="#eef0f4" stroke="#eef0f4" stroke-width="0.2">WITH  ENGINEERS.</text>
<text x="836.8" y="1428.3" font-size="10.03" textLength="264.4" lengthAdjust="spacingAndGlyphs" fill="#eef0f4" stroke="#eef0f4" stroke-width="0.2">2. TRUSS SCHEMATICS (PROFILES) SHALL BE</text>
<text x="836.8" y="1440.8" font-size="10.03" textLength="216.2" lengthAdjust="spacingAndGlyphs" fill="#eef0f4" stroke="#eef0f4" stroke-width="0.2">PREPARED AND SEALED BY TRUSS</text>
<text x="836.8" y="1452.9" font-size="10.03" textLength="94.2" lengthAdjust="spacingAndGlyphs" fill="#eef0f4" stroke="#eef0f4" stroke-width="0.2">MANUFACTURER.</text>
<text x="836.8" y="1471.0" font-size="10.03" textLength="253.1" lengthAdjust="spacingAndGlyphs" fill="#eef0f4" stroke="#eef0f4" stroke-width="0.2">3. ALL TRUSSES SHALL BE DESIGNED FOR</text>
<text x="836.8" y="1483.4" font-size="10.03" textLength="290.8" lengthAdjust="spacingAndGlyphs" fill="#eef0f4" stroke="#eef0f4" stroke-width="0.2">BEARING ON SPF #2 OR #3 PLATES OR LEDGERS</text>
<text x="836.8" y="1495.5" font-size="10.03" textLength="34.6" lengthAdjust="spacingAndGlyphs" fill="#eef0f4" stroke="#eef0f4" stroke-width="0.2">(UNO).</text>
<text x="836.8" y="1513.9" font-size="10.03" textLength="278.7" lengthAdjust="spacingAndGlyphs" fill="#eef0f4" stroke="#eef0f4" stroke-width="0.2">4. ALL REQUIRED ANCHORS FOR TRUSSES DUE</text>
<text x="836.8" y="1525.9" font-size="10.03" textLength="244.0" lengthAdjust="spacingAndGlyphs" fill="#eef0f4" stroke="#eef0f4" stroke-width="0.2">TO UPLIFT OR BEARING SHALL MEET THE</text>
<text x="836.8" y="1538.3" font-size="10.03" textLength="265.9" lengthAdjust="spacingAndGlyphs" fill="#eef0f4" stroke="#eef0f4" stroke-width="0.2">REQUIREMENTS AS SPECIFIED ON THE TRUSS</text>
<text x="836.8" y="1550.3" font-size="10.03" textLength="76.8" lengthAdjust="spacingAndGlyphs" fill="#eef0f4" stroke="#eef0f4" stroke-width="0.2">SCHEMATICS.</text>
<rect x="2032.4" y="1548.4" width="214.4" height="46.7" fill="none" stroke="#d6d8df" stroke-width="1.2"/>
<text x="2045.9" y="1560.9" font-size="10.47" textLength="183.0" lengthAdjust="spacingAndGlyphs" fill="#eef0f4" stroke="#eef0f4" stroke-width="0.2">REFER TO "SD"  SHEET(S) FOR</text>
<text x="2045.9" y="1572.8" font-size="10.47" textLength="183.0" lengthAdjust="spacingAndGlyphs" fill="#eef0f4" stroke="#eef0f4" stroke-width="0.2">STANDARD DETAILS, BRACING</text>
<text x="2037.0" y="1585.4" font-size="10.47" textLength="205.8" lengthAdjust="spacingAndGlyphs" fill="#eef0f4" stroke="#eef0f4" stroke-width="0.2">DETAILS AND STRUCTURAL NOTES.</text>
<text x="1858.3" y="1629.5" font-size="24.56" font-weight="400" textLength="393.4" lengthAdjust="spacingAndGlyphs" fill="#eef0f4">FIRST FLOOR STRUCTURAL PLAN</text>
<line x1="1858.3" y1="1632.8" x2="2254.0" y2="1632.8" stroke="#c8cad2" stroke-width="2.2"/>
<text x="2169.8" y="1650.4" font-size="11.63" textLength="81.9" lengthAdjust="spacingAndGlyphs" fill="#eef0f4" stroke="#eef0f4" stroke-width="0.2">SCALE: 1/4"=1'-0"</text>
<line x1="1214.5" y1="347.8" x2="1827.1" y2="347.8" stroke="#d6d8df" stroke-width="1.3"/>
<line x1="1214.5" y1="354.5" x2="1827.1" y2="354.5" stroke="#d6d8df" stroke-width="1.2"/>
<line x1="1214.5" y1="359.6" x2="1827.1" y2="359.6" stroke="#d6d8df" stroke-width="1.3"/>
<line x1="1217.0" y1="350.8" x2="1824.0" y2="350.8" stroke="#aeb2bd" stroke-width="0.8" stroke-dasharray="6,4"/>
<line x1="1214.5" y1="347.8" x2="1214.5" y2="1301.0" stroke="#d6d8df" stroke-width="1.3"/>
<line x1="1217.2" y1="350.8" x2="1217.2" y2="558.5" stroke="#d6d8df" stroke-width="0.8" stroke-dasharray="6,4"/>
<line x1="1217.2" y1="567.5" x2="1217.2" y2="1161.3" stroke="#d6d8df" stroke-width="1.0"/>
<line x1="1217.6" y1="1161.3" x2="1217.6" y2="1287.6" stroke="#d6d8df" stroke-width="0.8" stroke-dasharray="6,4"/>
<line x1="1227.0" y1="359.6" x2="1227.0" y2="558.5" stroke="#d6d8df" stroke-width="1.2"/>
<line x1="1220.8" y1="567.5" x2="1220.8" y2="1290.0" stroke="#d6d8df" stroke-width="1.2"/>
<line x1="1221.0" y1="354.5" x2="1221.0" y2="558.5" stroke="#d6d8df" stroke-width="1.1"/>
<line x1="1226.8" y1="1161.3" x2="1226.8" y2="1290.0" stroke="#d6d8df" stroke-width="1.2"/>
<line x1="1827.1" y1="347.8" x2="1827.1" y2="1301.0" stroke="#d6d8df" stroke-width="1.3"/>
<line x1="1824.2" y1="350.8" x2="1824.2" y2="558.5" stroke="#d6d8df" stroke-width="0.8" stroke-dasharray="6,4"/>
<line x1="1824.4" y1="567.5" x2="1824.4" y2="1290.0" stroke="#d6d8df" stroke-width="0.8" stroke-dasharray="6,4"/>
<line x1="1815.2" y1="359.6" x2="1815.2" y2="558.5" stroke="#d6d8df" stroke-width="1.2"/>
<line x1="1821.0" y1="567.5" x2="1821.0" y2="1290.0" stroke="#d6d8df" stroke-width="1.2"/>
<line x1="1821.0" y1="354.5" x2="1821.0" y2="558.5" stroke="#d6d8df" stroke-width="1.1"/>
<line x1="1214.5" y1="1290.0" x2="1468.1" y2="1290.0" stroke="#d6d8df" stroke-width="1.3"/>
<line x1="1574.1" y1="1290.0" x2="1827.1" y2="1290.0" stroke="#d6d8df" stroke-width="1.3"/>
<line x1="1214.5" y1="1295.7" x2="1468.1" y2="1295.7" stroke="#d6d8df" stroke-width="1.1"/>
<line x1="1574.1" y1="1295.7" x2="1827.1" y2="1295.7" stroke="#d6d8df" stroke-width="1.1"/>
<line x1="1214.5" y1="1301.9" x2="1468.1" y2="1301.9" stroke="#d6d8df" stroke-width="1.3"/>
<line x1="1574.1" y1="1301.9" x2="1827.1" y2="1301.9" stroke="#d6d8df" stroke-width="1.3"/>
<line x1="1229.3" y1="1298.8" x2="1468.1" y2="1298.8" stroke="#aeb2bd" stroke-width="0.8" stroke-dasharray="8,4"/>
<line x1="1574.1" y1="1298.8" x2="1812.9" y2="1298.8" stroke="#aeb2bd" stroke-width="0.8" stroke-dasharray="8,4"/>
<rect x="1214.5" y="1287.6" width="14.8" height="14.3" fill="none" stroke="#d6d8df" stroke-width="1.0"/>
<line x1="1468.1" y1="1296.5" x2="1574.1" y2="1296.5" stroke="#d6d8df" stroke-width="1.0" stroke-dasharray="4,3"/>
<line x1="1468.1" y1="1290.0" x2="1477.9" y2="1290.0" stroke="#d6d8df" stroke-width="1.0"/>
<line x1="1564.7" y1="1290.0" x2="1574.1" y2="1290.0" stroke="#d6d8df" stroke-width="1.0"/>
<line x1="1812.7" y1="417.5" x2="1967.0" y2="417.5" stroke="#d6d8df" stroke-width="1.2"/>
<line x1="1812.7" y1="424.4" x2="1967.0" y2="424.4" stroke="#d6d8df" stroke-width="1.2"/>
<line x1="1827.5" y1="421.0" x2="1952.8" y2="421.0" stroke="#aeb2bd" stroke-width="0.8" stroke-dasharray="8,4"/>
<line x1="1827.5" y1="430.0" x2="1954.6" y2="430.0" stroke="#d6d8df" stroke-width="1.2"/>
<rect x="1952.8" y="417.2" width="14.5" height="15.4" fill="none" stroke="#d6d8df" stroke-width="1.0"/>
<line x1="1954.8" y1="418.0" x2="1954.8" y2="1301.0" stroke="#d6d8df" stroke-width="1.2"/>
<line x1="1961.0" y1="418.0" x2="1961.0" y2="1301.0" stroke="#d6d8df" stroke-width="1.0"/>
<line x1="1964.5" y1="418.0" x2="1964.5" y2="1301.0" stroke="#d6d8df" stroke-width="1.0"/>
<line x1="1967.0" y1="418.0" x2="1967.0" y2="1301.0" stroke="#d6d8df" stroke-width="1.2"/>
<line x1="1827.1" y1="1290.4" x2="1967.0" y2="1290.4" stroke="#d6d8df" stroke-width="1.2"/>
<line x1="1827.1" y1="1295.8" x2="1967.0" y2="1295.8" stroke="#d6d8df" stroke-width="1.1"/>
<line x1="1827.1" y1="1301.7" x2="1967.0" y2="1301.7" stroke="#d6d8df" stroke-width="1.2"/>
<line x1="1827.1" y1="1299.0" x2="1952.0" y2="1299.0" stroke="#aeb2bd" stroke-width="0.8" stroke-dasharray="8,4"/>
<rect x="1952.5" y="1287.0" width="14.5" height="14.7" fill="none" stroke="#d6d8df" stroke-width="1.0"/>
<rect x="1812.7" y="418.0" width="13.3" height="14.5" fill="none" stroke="#d6d8df" stroke-width="1.0"/>
<rect x="1952.5" y="591.6" width="14.5" height="14.4" fill="none" stroke="#d6d8df" stroke-width="1.0"/>
<rect x="1952.5" y="765.0" width="14.5" height="14.7" fill="none" stroke="#d6d8df" stroke-width="1.0"/>
<rect x="1952.5" y="938.8" width="14.5" height="14.4" fill="none" stroke="#d6d8df" stroke-width="1.0"/>
<rect x="1952.5" y="1112.9" width="14.5" height="14.4" fill="none" stroke="#d6d8df" stroke-width="1.0"/>
<circle cx="1827.0" cy="421.7" r="4.3" fill="none" stroke="#d6d8df" stroke-width="1.0"/>
<circle cx="1952.6" cy="421.7" r="4.3" fill="none" stroke="#d6d8df" stroke-width="1.0"/>
<circle cx="1952.5" cy="1299.0" r="4.9" fill="none" stroke="#d6d8df" stroke-width="1.0"/>
<circle cx="1217.5" cy="1287.6" r="5.0" fill="none" stroke="#d6d8df" stroke-width="1.0"/>
<rect x="1214.5" y="347.8" width="15.5" height="15.4" fill="none" stroke="#d6d8df" stroke-width="1.0"/>
<circle cx="1218.4" cy="362.2" r="4.8" fill="none" stroke="#d6d8df" stroke-width="1.0"/>
<rect x="1364.6" y="347.8" width="14.8" height="15.2" fill="none" stroke="#d6d8df" stroke-width="1.0"/>
<rect x="1664.0" y="347.8" width="14.0" height="15.2" fill="none" stroke="#d6d8df" stroke-width="1.0"/>
<rect x="1514.0" y="347.8" width="14.8" height="15.2" fill="none" stroke="#d6d8df" stroke-width="1.0"/>
<rect x="1812.0" y="347.8" width="15.1" height="15.2" fill="none" stroke="#d6d8df" stroke-width="1.0"/>
<rect x="1413.9" y="1287.4" width="13.4" height="14.1" fill="none" stroke="#d6d8df" stroke-width="1.0"/>
<rect x="1614.7" y="1287.4" width="15.2" height="14.1" fill="none" stroke="#d6d8df" stroke-width="1.0"/>
<rect x="1812.9" y="1287.4" width="14.4" height="14.1" fill="none" stroke="#d6d8df" stroke-width="1.0"/>
<line x1="1515.5" y1="359.6" x2="1515.5" y2="862.0" stroke="#d6d8df" stroke-width="1.2"/>
<line x1="1521.0" y1="359.6" x2="1521.0" y2="862.0" stroke="#d6d8df" stroke-width="1.2"/>
<line x1="1518.3" y1="362.0" x2="1518.3" y2="860.0" stroke="#d6d8df" stroke-width="0.8" stroke-dasharray="6,3,2,3"/>
<line x1="1214.5" y1="558.5" x2="1579.7" y2="558.5" stroke="#d6d8df" stroke-width="1.2"/>
<line x1="1214.5" y1="567.5" x2="1579.7" y2="567.5" stroke="#d6d8df" stroke-width="1.2"/>
<line x1="1214.5" y1="563.0" x2="1579.7" y2="563.0" stroke="#d6d8df" stroke-width="1.0" stroke-dasharray="6,3,2,3"/>
<line x1="1609.7" y1="558.5" x2="1827.1" y2="558.5" stroke="#d6d8df" stroke-width="1.2"/>
<line x1="1609.7" y1="567.5" x2="1827.1" y2="567.5" stroke="#d6d8df" stroke-width="1.2"/>
<line x1="1609.7" y1="563.0" x2="1827.1" y2="563.0" stroke="#d6d8df" stroke-width="1.0" stroke-dasharray="6,3,2,3"/>
<line x1="1579.7" y1="558.5" x2="1609.7" y2="558.5" stroke="#d6d8df" stroke-width="1.0"/>
<line x1="1579.7" y1="567.5" x2="1609.7" y2="567.5" stroke="#d6d8df" stroke-width="1.0"/>
<rect x="1214.5" y="559.0" width="6.5" height="8.3" fill="#e4e5ea"/>
<rect x="1268.5" y="559.0" width="6.3" height="8.3" fill="#e4e5ea"/>
<rect x="1425.8" y="559.0" width="6.8" height="8.3" fill="#e4e5ea"/>
<rect x="1462.5" y="559.0" width="7.0" height="8.3" fill="#e4e5ea"/>
<rect x="1573.8" y="559.0" width="5.9" height="8.3" fill="#e4e5ea"/>
<rect x="1609.7" y="559.0" width="6.3" height="8.3" fill="#e4e5ea"/>
<rect x="1767.5" y="559.0" width="6.3" height="8.3" fill="#e4e5ea"/>
<rect x="1821.0" y="559.0" width="6.1" height="8.3" fill="#e4e5ea"/>
<rect x="1322.5" y="559.0" width="4.0" height="8.3" fill="none" stroke="#d6d8df" stroke-width="0.9"/>
<rect x="1375.5" y="559.0" width="4.0" height="8.3" fill="none" stroke="#d6d8df" stroke-width="0.9"/>
<rect x="1665.0" y="559.0" width="4.0" height="8.3" fill="none" stroke="#d6d8df" stroke-width="0.9"/>
<rect x="1718.0" y="559.0" width="4.0" height="8.3" fill="none" stroke="#d6d8df" stroke-width="0.9"/>
<polyline points="1271.8,558.5 1271.8,553.6 1428.3,553.6 1428.3,558.5" fill="none" stroke="#d6d8df" stroke-width="1.0"/>
<polyline points="1465.0,558.5 1465.0,553.3 1576.0,553.3 1576.0,558.5" fill="none" stroke="#d6d8df" stroke-width="1.0"/>
<polyline points="1613.4,558.5 1613.4,553.3 1769.5,553.3 1769.5,558.5" fill="none" stroke="#d6d8df" stroke-width="1.0"/>
<line x1="1469.5" y1="567.5" x2="1508.0" y2="602.0" stroke="#d6d8df" stroke-width="1.0"/>
<path d="M1508.0,602.0 A51.7,51.7 0 0 1 1490.0,612.0" fill="none" stroke="#d6d8df" stroke-width="0.9"/>
<line x1="1573.8" y1="567.5" x2="1534.8" y2="602.8" stroke="#d6d8df" stroke-width="1.0"/>
<path d="M1534.8,602.8 A52.6,52.6 0 0 0 1528.0,610.0" fill="none" stroke="#d6d8df" stroke-width="0.9"/>
<path d="M1517,572 Q1512,600 1493,614" fill="none" stroke="#d6d8df" stroke-width="0.9"/>
<path d="M1521,572 Q1526,600 1548,612" fill="none" stroke="#d6d8df" stroke-width="0.9"/>
<line x1="1255.4" y1="567.5" x2="1255.4" y2="654.4" stroke="#d6d8df" stroke-width="1.2"/>
<line x1="1255.4" y1="771.5" x2="1255.4" y2="862.0" stroke="#d6d8df" stroke-width="1.2"/>
<polyline points="1220.8,654.4 1290.2,654.4 1290.2,771.5 1220.8,771.5" fill="none" stroke="#d6d8df" stroke-width="1.1"/>
<polyline points="1220.8,660.4 1255.4,660.4 1255.4,681.5 1226.0,687.8 1226.0,737.2 1255.4,743.5 1255.4,765.2 1220.8,765.2" fill="none" stroke="#d6d8df" stroke-width="1.1"/>
<line x1="1261.7" y1="654.4" x2="1261.7" y2="681.5" stroke="#d6d8df" stroke-width="1.1"/>
<line x1="1261.7" y1="743.5" x2="1261.7" y2="771.5" stroke="#d6d8df" stroke-width="1.1"/>
<line x1="1255.4" y1="681.5" x2="1261.7" y2="681.5" stroke="#d6d8df" stroke-width="1.0"/>
<line x1="1255.4" y1="743.5" x2="1261.7" y2="743.5" stroke="#d6d8df" stroke-width="1.0"/>
<line x1="1242.7" y1="567.5" x2="1242.7" y2="593.0" stroke="#d6d8df" stroke-width="2.0"/>
<line x1="1785.0" y1="567.5" x2="1785.0" y2="593.0" stroke="#d6d8df" stroke-width="2.0"/>
<rect x="1823.4" y="575.4" width="10.0" height="50.6" fill="none" stroke="#d6d8df" stroke-width="1.0"/>
<rect x="1821.0" y="623.0" width="6.0" height="5.0" fill="#e4e5ea"/>
<polyline points="1827.1,721.0 1833.3,722.0 1833.3,772.6 1827.1,772.6" fill="none" stroke="#d6d8df" stroke-width="1.0"/>
<line x1="1823.0" y1="769.5" x2="1789.0" y2="735.3" stroke="#d6d8df" stroke-width="1.0"/>
<path d="M1789.0,735.3 A48.2,48.2 0 0 1 1784.0,740.0" fill="none" stroke="#d6d8df" stroke-width="0.9"/>
<path d="M1789,737 Q1800,722 1827,722" fill="none" stroke="#d6d8df" stroke-width="0.9"/>
<line x1="1310.2" y1="793.7" x2="1821.0" y2="793.7" stroke="#d6d8df" stroke-width="1.0" stroke-dasharray="10,6"/>
<line x1="1667.9" y1="790.7" x2="1673.9" y2="796.7" stroke="#d6d8df" stroke-width="1.2"/>
<line x1="1667.9" y1="796.7" x2="1673.9" y2="790.7" stroke="#d6d8df" stroke-width="1.2"/>
<line x1="1573.4" y1="783.2" x2="1821.0" y2="783.2" stroke="#d6d8df" stroke-width="1.1"/>
<line x1="1573.4" y1="783.2" x2="1573.4" y2="861.2" stroke="#d6d8df" stroke-width="1.1"/>
<line x1="1585.4" y1="793.7" x2="1585.4" y2="861.2" stroke="#d6d8df" stroke-width="1.0" stroke-dasharray="5,4"/>
<line x1="1591.1" y1="800.0" x2="1821.0" y2="800.0" stroke="#d6d8df" stroke-width="1.1"/>
<line x1="1591.1" y1="800.0" x2="1591.1" y2="861.2" stroke="#d6d8df" stroke-width="1.1"/>
<rect x="1684.6" y="805.3" width="44.3" height="28.5" fill="none" stroke="#d6d8df" stroke-width="1.0"/>
<rect x="1687.5" y="812.5" width="17.0" height="19.0" fill="none" stroke="#d6d8df" stroke-width="0.9"/>
<rect x="1708.0" y="812.5" width="17.5" height="19.0" fill="none" stroke="#d6d8df" stroke-width="0.9"/>
<circle cx="1695.8" cy="822.0" r="1.6" fill="none" stroke="#d6d8df" stroke-width="0.8"/>
<circle cx="1716.8" cy="822.0" r="1.6" fill="none" stroke="#d6d8df" stroke-width="0.8"/>
<line x1="1732.0" y1="800.0" x2="1732.0" y2="834.8" stroke="#d6d8df" stroke-width="1.0"/>
<line x1="1733.8" y1="800.0" x2="1733.8" y2="834.8" stroke="#d6d8df" stroke-width="1.0"/>
<line x1="1768.0" y1="800.0" x2="1768.0" y2="861.0" stroke="#d6d8df" stroke-width="1.0" stroke-dasharray="5,4"/>
<line x1="1803.8" y1="800.0" x2="1803.8" y2="861.0" stroke="#d6d8df" stroke-width="1.0" stroke-dasharray="5,4"/>
<polyline points="1626.6,876.0 1626.6,834.8 1786.5,834.8 1786.5,866.0" fill="none" stroke="#d6d8df" stroke-width="1.1"/>
<rect x="1220.8" y="861.8" width="192.0" height="5.7" fill="none" stroke="#d6d8df" stroke-width="0.9"/>
<clipPath id="c1220_861"><rect x="1220.8" y="861.8" width="192.0" height="5.7000000000000455"/></clipPath>
<path clip-path="url(#c1220_861)" d="M1215.1,867.5L1220.8,861.8M1218.3,867.5L1224.0,861.8M1221.5,867.5L1227.2,861.8M1224.7,867.5L1230.4,861.8M1227.9,867.5L1233.6,861.8M1231.1,867.5L1236.8,861.8M1234.3,867.5L1240.0,861.8M1237.5,867.5L1243.2,861.8M1240.7,867.5L1246.4,861.8M1243.9,867.5L1249.6,861.8M1247.1,867.5L1252.8,861.8M1250.3,867.5L1256.0,861.8M1253.5,867.5L1259.2,861.8M1256.7,867.5L1262.4,861.8M1259.9,867.5L1265.6,861.8M1263.1,867.5L1268.8,861.8M1266.3,867.5L1272.0,861.8M1269.5,867.5L1275.2,861.8M1272.7,867.5L1278.4,861.8M1275.9,867.5L1281.6,861.8M1279.1,867.5L1284.8,861.8M1282.3,867.5L1288.0,861.8M1285.5,867.5L1291.2,861.8M1288.7,867.5L1294.4,861.8M1291.9,867.5L1297.6,861.8M1295.1,867.5L1300.8,861.8M1298.3,867.5L1304.0,861.8M1301.5,867.5L1307.2,861.8M1304.7,867.5L1310.4,861.8M1307.9,867.5L1313.6,861.8M1311.1,867.5L1316.8,861.8M1314.3,867.5L1320.0,861.8M1317.5,867.5L1323.2,861.8M1320.7,867.5L1326.4,861.8M1323.9,867.5L1329.6,861.8M1327.1,867.5L1332.8,861.8M1330.3,867.5L1336.0,861.8M1333.5,867.5L1339.2,861.8M1336.7,867.5L1342.4,861.8M1339.9,867.5L1345.6,861.8M1343.1,867.5L1348.8,861.8M1346.3,867.5L1352.0,861.8M1349.5,867.5L1355.2,861.8M1352.7,867.5L1358.4,861.8M1355.9,867.5L1361.6,861.8M1359.1,867.5L1364.8,861.8M1362.3,867.5L1368.0,861.8M1365.5,867.5L1371.2,861.8M1368.7,867.5L1374.4,861.8M1371.9,867.5L1377.6,861.8M1375.1,867.5L1380.8,861.8M1378.3,867.5L1384.0,861.8M1381.5,867.5L1387.2,861.8M1384.7,867.5L1390.4,861.8M1387.9,867.5L1393.6,861.8M1391.1,867.5L1396.8,861.8M1394.3,867.5L1400.0,861.8M1397.5,867.5L1403.2,861.8M1400.7,867.5L1406.4,861.8M1403.9,867.5L1409.6,861.8M1407.1,867.5L1412.8,861.8M1410.3,867.5L1416.0,861.8" stroke="#d6d8df" stroke-width="0.7" fill="none"/>
<line x1="1419.8" y1="861.8" x2="1827.1" y2="861.8" stroke="#d6d8df" stroke-width="1.2"/>
<line x1="1419.8" y1="867.5" x2="1827.1" y2="867.5" stroke="#d6d8df" stroke-width="1.2"/>
<line x1="1419.8" y1="864.6" x2="1827.1" y2="864.6" stroke="#d6d8df" stroke-width="1.0" stroke-dasharray="6,3,2,3"/>
<rect x="1412.8" y="861.5" width="7.0" height="6.5" fill="#e4e5ea"/>
<rect x="1821.0" y="861.5" width="6.0" height="6.5" fill="#e4e5ea"/>
<rect x="1576.0" y="861.2" width="15.8" height="15.2" fill="#e8e9ee"/>
<line x1="1591.8" y1="875.9" x2="1626.8" y2="875.9" stroke="#d6d8df" stroke-width="1.0"/>
<circle cx="1519.4" cy="861.2" r="4.2" fill="none" stroke="#d6d8df" stroke-width="1.0"/>
<path d="M1480,869 Q1540,893 1585,888" fill="none" stroke="#d6d8df" stroke-width="0.9"/>
<path d="M1656,888 Q1720,892 1778,865" fill="none" stroke="#d6d8df" stroke-width="0.9"/>
<line x1="1320.3" y1="867.5" x2="1320.3" y2="908.7" stroke="#d6d8df" stroke-width="1.1"/>
<line x1="1326.3" y1="867.5" x2="1326.3" y2="908.7" stroke="#d6d8df" stroke-width="1.1"/>
<polyline points="1305.4,908.7 1326.3,908.7" fill="none" stroke="#d6d8df" stroke-width="1.1"/>
<polyline points="1305.4,902.7 1320.3,902.7" fill="none" stroke="#d6d8df" stroke-width="1.0"/>
<polyline points="1220.8,902.7 1236.0,902.7 1236.0,908.7 1220.8,908.7" fill="none" stroke="#d6d8df" stroke-width="1.0"/>
<line x1="1236.0" y1="907.0" x2="1260.6" y2="932.6" stroke="#d6d8df" stroke-width="1.0"/>
<line x1="1305.4" y1="907.0" x2="1280.6" y2="932.6" stroke="#d6d8df" stroke-width="1.0"/>
<path d="M1256,937 Q1268,920 1270.6,908" fill="none" stroke="#d6d8df" stroke-width="0.9"/>
<path d="M1285,937 Q1272,920 1270.6,908" fill="none" stroke="#d6d8df" stroke-width="0.9"/>
<line x1="1254.6" y1="850.0" x2="1254.6" y2="862.0" stroke="#d6d8df" stroke-width="1.1"/>
<rect x="1208.9" y="924.0" width="8.3" height="51.3" fill="none" stroke="#d6d8df" stroke-width="1.0"/>
<rect x="1208.9" y="1089.7" width="8.3" height="51.7" fill="none" stroke="#d6d8df" stroke-width="1.0"/>
<rect x="1214.9" y="1086.7" width="6.0" height="6.0" fill="#e4e5ea"/>
<rect x="1412.8" y="867.5" width="7.0" height="285.9" fill="none" stroke="#d6d8df" stroke-width="0.9"/>
<clipPath id="c1412_867"><rect x="1412.8" y="867.5" width="7.0" height="285.9000000000001"/></clipPath>
<path clip-path="url(#c1412_867)" d="M1126.9,1153.4L1412.8,867.5M1130.1,1153.4L1416.0,867.5M1133.3,1153.4L1419.2,867.5M1136.5,1153.4L1422.4,867.5M1139.7,1153.4L1425.6,867.5M1142.9,1153.4L1428.8,867.5M1146.1,1153.4L1432.0,867.5M1149.3,1153.4L1435.2,867.5M1152.5,1153.4L1438.4,867.5M1155.7,1153.4L1441.6,867.5M1158.9,1153.4L1444.8,867.5M1162.1,1153.4L1448.0,867.5M1165.3,1153.4L1451.2,867.5M1168.5,1153.4L1454.4,867.5M1171.7,1153.4L1457.6,867.5M1174.9,1153.4L1460.8,867.5M1178.1,1153.4L1464.0,867.5M1181.3,1153.4L1467.2,867.5M1184.5,1153.4L1470.4,867.5M1187.7,1153.4L1473.6,867.5M1190.9,1153.4L1476.8,867.5M1194.1,1153.4L1480.0,867.5M1197.3,1153.4L1483.2,867.5M1200.5,1153.4L1486.4,867.5M1203.7,1153.4L1489.6,867.5M1206.9,1153.4L1492.8,867.5M1210.1,1153.4L1496.0,867.5M1213.3,1153.4L1499.2,867.5M1216.5,1153.4L1502.4,867.5M1219.7,1153.4L1505.6,867.5M1222.9,1153.4L1508.8,867.5M1226.1,1153.4L1512.0,867.5M1229.3,1153.4L1515.2,867.5M1232.5,1153.4L1518.4,867.5M1235.7,1153.4L1521.6,867.5M1238.9,1153.4L1524.8,867.5M1242.1,1153.4L1528.0,867.5M1245.3,1153.4L1531.2,867.5M1248.5,1153.4L1534.4,867.5M1251.7,1153.4L1537.6,867.5M1254.9,1153.4L1540.8,867.5M1258.1,1153.4L1544.0,867.5M1261.3,1153.4L1547.2,867.5M1264.5,1153.4L1550.4,867.5M1267.7,1153.4L1553.6,867.5M1270.9,1153.4L1556.8,867.5M1274.1,1153.4L1560.0,867.5M1277.3,1153.4L1563.2,867.5M1280.5,1153.4L1566.4,867.5M1283.7,1153.4L1569.6,867.5M1286.9,1153.4L1572.8,867.5M1290.1,1153.4L1576.0,867.5M1293.3,1153.4L1579.2,867.5M1296.5,1153.4L1582.4,867.5M1299.7,1153.4L1585.6,867.5M1302.9,1153.4L1588.8,867.5M1306.1,1153.4L1592.0,867.5M1309.3,1153.4L1595.2,867.5M1312.5,1153.4L1598.4,867.5M1315.7,1153.4L1601.6,867.5M1318.9,1153.4L1604.8,867.5M1322.1,1153.4L1608.0,867.5M1325.3,1153.4L1611.2,867.5M1328.5,1153.4L1614.4,867.5M1331.7,1153.4L1617.6,867.5M1334.9,1153.4L1620.8,867.5M1338.1,1153.4L1624.0,867.5M1341.3,1153.4L1627.2,867.5M1344.5,1153.4L1630.4,867.5M1347.7,1153.4L1633.6,867.5M1350.9,1153.4L1636.8,867.5M1354.1,1153.4L1640.0,867.5M1357.3,1153.4L1643.2,867.5M1360.5,1153.4L1646.4,867.5M1363.7,1153.4L1649.6,867.5M1366.9,1153.4L1652.8,867.5M1370.1,1153.4L1656.0,867.5M1373.3,1153.4L1659.2,867.5M1376.5,1153.4L1662.4,867.5M1379.7,1153.4L1665.6,867.5M1382.9,1153.4L1668.8,867.5M1386.1,1153.4L1672.0,867.5M1389.3,1153.4L1675.2,867.5M1392.5,1153.4L1678.4,867.5M1395.7,1153.4L1681.6,867.5M1398.9,1153.4L1684.8,867.5M1402.1,1153.4L1688.0,867.5M1405.3,1153.4L1691.2,867.5M1408.5,1153.4L1694.4,867.5M1411.7,1153.4L1697.6,867.5M1414.9,1153.4L1700.8,867.5M1418.1,1153.4L1704.0,867.5" stroke="#d6d8df" stroke-width="0.7" fill="none"/>
<line x1="1480.4" y1="867.5" x2="1480.4" y2="1153.4" stroke="#d6d8df" stroke-width="1.1"/>
<line x1="1486.4" y1="867.5" x2="1486.4" y2="1153.4" stroke="#d6d8df" stroke-width="1.1"/>
<line x1="1483.4" y1="870.0" x2="1483.4" y2="1150.0" stroke="#d6d8df" stroke-width="0.8" stroke-dasharray="6,3,2,3"/>
<line x1="1419.8" y1="881.8" x2="1480.4" y2="881.8" stroke="#d6d8df" stroke-width="1.0"/>
<line x1="1419.8" y1="896.7" x2="1480.4" y2="896.7" stroke="#d6d8df" stroke-width="1.0"/>
<line x1="1419.8" y1="911.7" x2="1480.4" y2="911.7" stroke="#d6d8df" stroke-width="1.0"/>
<line x1="1419.8" y1="925.6" x2="1480.4" y2="925.6" stroke="#d6d8df" stroke-width="1.0"/>
<line x1="1419.8" y1="940.5" x2="1480.4" y2="940.5" stroke="#d6d8df" stroke-width="1.0"/>
<line x1="1419.8" y1="999.2" x2="1480.4" y2="999.2" stroke="#d6d8df" stroke-width="1.0"/>
<line x1="1419.8" y1="1013.1" x2="1480.4" y2="1013.1" stroke="#d6d8df" stroke-width="1.0"/>
<line x1="1419.8" y1="1027.0" x2="1480.4" y2="1027.0" stroke="#d6d8df" stroke-width="1.0"/>
<line x1="1419.8" y1="1042.0" x2="1480.4" y2="1042.0" stroke="#d6d8df" stroke-width="1.0"/>
<line x1="1419.8" y1="1070.8" x2="1480.4" y2="1070.8" stroke="#d6d8df" stroke-width="1.0"/>
<line x1="1419.8" y1="1086.7" x2="1480.4" y2="1086.7" stroke="#d6d8df" stroke-width="1.0"/>
<line x1="1419.8" y1="973.3" x2="1480.4" y2="959.0" stroke="#d6d8df" stroke-width="1.0"/>
<line x1="1419.8" y1="987.2" x2="1480.4" y2="973.3" stroke="#d6d8df" stroke-width="1.0"/>
<line x1="1419.8" y1="1057.0" x2="1480.4" y2="1057.0" stroke="#d6d8df" stroke-width="1.0"/>
<line x1="1419.8" y1="1062.0" x2="1480.4" y2="1062.0" stroke="#d6d8df" stroke-width="1.0" stroke-dasharray="5,3"/>
<line x1="1449.6" y1="881.8" x2="1449.6" y2="958.0" stroke="#d6d8df" stroke-width="1.0"/>
<polyline points="1439.6,951.0 1449.6,958.0 1459.6,951.0" fill="none" stroke="#d6d8df" stroke-width="1.2"/>
<line x1="1434.7" y1="998.0" x2="1434.7" y2="1086.0" stroke="#d6d8df" stroke-width="1.0"/>
<polyline points="1425.0,1006.0 1434.7,998.0 1444.4,1006.0" fill="none" stroke="#d6d8df" stroke-width="1.2"/>
<rect x="1413.0" y="1022.0" width="7.0" height="6.0" fill="#e4e5ea"/>
<circle cx="1480.4" cy="1059.9" r="4.4" fill="none" stroke="#d6d8df" stroke-width="1.0"/>
<path d="M1462,1035 Q1472,1036 1478,1055" fill="none" stroke="#d6d8df" stroke-width="0.9"/>
<line x1="1413.0" y1="1151.0" x2="1376.0" y2="1108.8" stroke="#d6d8df" stroke-width="1.0"/>
<path d="M1376.0,1108.8 A56.1,56.1 0 0 0 1370.0,1116.0" fill="none" stroke="#d6d8df" stroke-width="0.9"/>
<path d="M1370,1116 Q1385,1095 1413,1094" fill="none" stroke="#d6d8df" stroke-width="0.9"/>
<line x1="1414.0" y1="1094.0" x2="1414.0" y2="1153.0" stroke="#d6d8df" stroke-width="1.0"/>
<line x1="1419.0" y1="1094.0" x2="1419.0" y2="1153.0" stroke="#d6d8df" stroke-width="1.0"/>
<line x1="1220.8" y1="1129.5" x2="1413.0" y2="1129.5" stroke="#d6d8df" stroke-width="1.0"/>
<line x1="1220.8" y1="1132.5" x2="1413.0" y2="1132.5" stroke="#d6d8df" stroke-width="0.9" stroke-dasharray="6,3,2,3"/>
<line x1="1220.8" y1="1135.5" x2="1413.0" y2="1135.5" stroke="#d6d8df" stroke-width="1.0"/>
<rect x="1547.2" y="948.9" width="82.4" height="7.1" fill="none" stroke="#d6d8df" stroke-width="0.9"/>
<clipPath id="c1547_948"><rect x="1547.2" y="948.9" width="82.39999999999986" height="7.100000000000023"/></clipPath>
<path clip-path="url(#c1547_948)" d="M1540.1,956.0L1547.2,948.9M1543.3,956.0L1550.4,948.9M1546.5,956.0L1553.6,948.9M1549.7,956.0L1556.8,948.9M1552.9,956.0L1560.0,948.9M1556.1,956.0L1563.2,948.9M1559.3,956.0L1566.4,948.9M1562.5,956.0L1569.6,948.9M1565.7,956.0L1572.8,948.9M1568.9,956.0L1576.0,948.9M1572.1,956.0L1579.2,948.9M1575.3,956.0L1582.4,948.9M1578.5,956.0L1585.6,948.9M1581.7,956.0L1588.8,948.9M1584.9,956.0L1592.0,948.9M1588.1,956.0L1595.2,948.9M1591.3,956.0L1598.4,948.9M1594.5,956.0L1601.6,948.9M1597.7,956.0L1604.8,948.9M1600.9,956.0L1608.0,948.9M1604.1,956.0L1611.2,948.9M1607.3,956.0L1614.4,948.9M1610.5,956.0L1617.6,948.9M1613.7,956.0L1620.8,948.9M1616.9,956.0L1624.0,948.9M1620.1,956.0L1627.2,948.9M1623.3,956.0L1630.4,948.9M1626.5,956.0L1633.6,948.9" stroke="#d6d8df" stroke-width="0.7" fill="none"/>
<rect x="1547.2" y="1034.3" width="82.4" height="7.1" fill="none" stroke="#d6d8df" stroke-width="0.9"/>
<clipPath id="c1547_1034"><rect x="1547.2" y="1034.3" width="82.39999999999986" height="7.100000000000136"/></clipPath>
<path clip-path="url(#c1547_1034)" d="M1540.1,1041.4L1547.2,1034.3M1543.3,1041.4L1550.4,1034.3M1546.5,1041.4L1553.6,1034.3M1549.7,1041.4L1556.8,1034.3M1552.9,1041.4L1560.0,1034.3M1556.1,1041.4L1563.2,1034.3M1559.3,1041.4L1566.4,1034.3M1562.5,1041.4L1569.6,1034.3M1565.7,1041.4L1572.8,1034.3M1568.9,1041.4L1576.0,1034.3M1572.1,1041.4L1579.2,1034.3M1575.3,1041.4L1582.4,1034.3M1578.5,1041.4L1585.6,1034.3M1581.7,1041.4L1588.8,1034.3M1584.9,1041.4L1592.0,1034.3M1588.1,1041.4L1595.2,1034.3M1591.3,1041.4L1598.4,1034.3M1594.5,1041.4L1601.6,1034.3M1597.7,1041.4L1604.8,1034.3M1600.9,1041.4L1608.0,1034.3M1604.1,1041.4L1611.2,1034.3M1607.3,1041.4L1614.4,1034.3M1610.5,1041.4L1617.6,1034.3M1613.7,1041.4L1620.8,1034.3M1616.9,1041.4L1624.0,1034.3M1620.1,1041.4L1627.2,1034.3M1623.3,1041.4L1630.4,1034.3M1626.5,1041.4L1633.6,1034.3" stroke="#d6d8df" stroke-width="0.7" fill="none"/>
<rect x="1547.2" y="956.0" width="7.1" height="78.3" fill="none" stroke="#d6d8df" stroke-width="0.9"/>
<clipPath id="c1547_956"><rect x="1547.2" y="956" width="7.099999999999909" height="78.29999999999995"/></clipPath>
<path clip-path="url(#c1547_956)" d="M1468.9,1034.3L1547.2,956.0M1472.1,1034.3L1550.4,956.0M1475.3,1034.3L1553.6,956.0M1478.5,1034.3L1556.8,956.0M1481.7,1034.3L1560.0,956.0M1484.9,1034.3L1563.2,956.0M1488.1,1034.3L1566.4,956.0M1491.3,1034.3L1569.6,956.0M1494.5,1034.3L1572.8,956.0M1497.7,1034.3L1576.0,956.0M1500.9,1034.3L1579.2,956.0M1504.1,1034.3L1582.4,956.0M1507.3,1034.3L1585.6,956.0M1510.5,1034.3L1588.8,956.0M1513.7,1034.3L1592.0,956.0M1516.9,1034.3L1595.2,956.0M1520.1,1034.3L1598.4,956.0M1523.3,1034.3L1601.6,956.0M1526.5,1034.3L1604.8,956.0M1529.7,1034.3L1608.0,956.0M1532.9,1034.3L1611.2,956.0M1536.1,1034.3L1614.4,956.0M1539.3,1034.3L1617.6,956.0M1542.5,1034.3L1620.8,956.0M1545.7,1034.3L1624.0,956.0M1548.9,1034.3L1627.2,956.0M1552.1,1034.3L1630.4,956.0" stroke="#d6d8df" stroke-width="0.7" fill="none"/>
<rect x="1622.5" y="956.0" width="7.1" height="78.3" fill="none" stroke="#d6d8df" stroke-width="0.9"/>
<clipPath id="c1622_956"><rect x="1622.5" y="956" width="7.099999999999909" height="78.29999999999995"/></clipPath>
<path clip-path="url(#c1622_956)" d="M1544.2,1034.3L1622.5,956.0M1547.4,1034.3L1625.7,956.0M1550.6,1034.3L1628.9,956.0M1553.8,1034.3L1632.1,956.0M1557.0,1034.3L1635.3,956.0M1560.2,1034.3L1638.5,956.0M1563.4,1034.3L1641.7,956.0M1566.6,1034.3L1644.9,956.0M1569.8,1034.3L1648.1,956.0M1573.0,1034.3L1651.3,956.0M1576.2,1034.3L1654.5,956.0M1579.4,1034.3L1657.7,956.0M1582.6,1034.3L1660.9,956.0M1585.8,1034.3L1664.1,956.0M1589.0,1034.3L1667.3,956.0M1592.2,1034.3L1670.5,956.0M1595.4,1034.3L1673.7,956.0M1598.6,1034.3L1676.9,956.0M1601.8,1034.3L1680.1,956.0M1605.0,1034.3L1683.3,956.0M1608.2,1034.3L1686.5,956.0M1611.4,1034.3L1689.7,956.0M1614.6,1034.3L1692.9,956.0M1617.8,1034.3L1696.1,956.0M1621.0,1034.3L1699.3,956.0M1624.2,1034.3L1702.5,956.0M1627.4,1034.3L1705.7,956.0" stroke="#d6d8df" stroke-width="0.7" fill="none"/>
<rect x="1554.3" y="956.0" width="68.2" height="78.3" fill="none" stroke="#d6d8df" stroke-width="1.0"/>
<rect x="1561.6" y="958.4" width="53.3" height="70.6" fill="none" stroke="#d6d8df" stroke-width="1.0"/>
<rect x="1554.3" y="949.5" width="7.0" height="6.5" fill="#e4e5ea"/>
<rect x="1622.5" y="1021.0" width="7.0" height="6.5" fill="#e4e5ea"/>
<line x1="1576.5" y1="910.7" x2="1613.5" y2="949.0" stroke="#d6d8df" stroke-width="1.0"/>
<path d="M1584.4,905.7 Q1563,920 1562.6,943" fill="none" stroke="#d6d8df" stroke-width="0.9"/>
<polyline points="1629.6,948.9 1678.0,948.9 1678.0,991.2" fill="none" stroke="#d6d8df" stroke-width="1.1"/>
<polyline points="1629.6,985.3 1672.6,985.3 1672.6,948.9" fill="none" stroke="#d6d8df" stroke-width="1.1"/>
<polyline points="1629.6,991.2 1679.0,991.2 1681.0,993.5 1685.0,991.2 1717.7,991.2" fill="none" stroke="#d6d8df" stroke-width="1.1"/>
<polyline points="1678.0,985.3 1681.0,988.0 1685.0,985.3 1717.7,985.3" fill="none" stroke="#d6d8df" stroke-width="1.1"/>
<polyline points="1646.0,991.2 1646.0,1046.0 1707.8,1046.0 1707.8,1020.0" fill="none" stroke="#d6d8df" stroke-width="1.1"/>
<polyline points="1713.7,1023.0 1713.7,1068.8 1671.0,1068.8 1671.0,1153.4" fill="none" stroke="#d6d8df" stroke-width="1.1"/>
<polyline points="1707.8,1020.0 1705.0,1018.0 1708.0,1015.0 1710.0,1021.0 1713.7,1023.0" fill="none" stroke="#d6d8df" stroke-width="1.0"/>
<path d="M1717.7,983 Q1718,1005 1705,1017" fill="none" stroke="#d6d8df" stroke-width="0.9"/>
<line x1="1629.2" y1="1041.4" x2="1629.2" y2="1063.0" stroke="#d6d8df" stroke-width="1.1"/>
<line x1="1623.2" y1="1041.4" x2="1623.2" y2="1068.8" stroke="#d6d8df" stroke-width="1.1"/>
<polyline points="1629.2,1063.0 1707.8,1063.0 1707.8,1046.0" fill="none" stroke="#d6d8df" stroke-width="1.1"/>
<polyline points="1623.2,1068.8 1662.0,1068.8 1662.0,1153.4" fill="none" stroke="#d6d8df" stroke-width="1.1"/>
<line x1="1693.8" y1="1068.8" x2="1693.8" y2="1153.4" stroke="#d6d8df" stroke-width="1.1"/>
<line x1="1573.5" y1="1041.4" x2="1573.5" y2="1096.7" stroke="#d6d8df" stroke-width="1.1"/>
<line x1="1579.5" y1="1041.4" x2="1579.5" y2="1096.7" stroke="#d6d8df" stroke-width="1.1"/>
<rect x="1648.7" y="1075.8" width="11.3" height="30.8" fill="none" stroke="#d6d8df" stroke-width="1.0"/>
<rect x="1651.0" y="1079.0" width="7.0" height="24.0" fill="none" stroke="#d6d8df" stroke-width="0.8"/>
<ellipse cx="1633" cy="1090.7" rx="15.5" ry="11.5" fill="none" stroke="#d6d8df" stroke-width="1.0"/>
<ellipse cx="1633" cy="1090.7" rx="12" ry="8.5" fill="none" stroke="#d6d8df" stroke-width="0.8"/>
<polyline points="1662.0,1114.6 1639.0,1114.6 1635.0,1120.0 1635.0,1147.0 1640.0,1152.4 1662.0,1152.4" fill="none" stroke="#d6d8df" stroke-width="1.0"/>
<circle cx="1650.0" cy="1133.5" r="10.5" fill="none" stroke="#d6d8df" stroke-width="1.0"/>
<circle cx="1650.0" cy="1133.5" r="8.0" fill="none" stroke="#d6d8df" stroke-width="0.8"/>
<rect x="1655.0" y="1126.0" width="3.0" height="4.0" fill="none" stroke="#d6d8df" stroke-width="0.7"/>
<rect x="1655.0" y="1137.0" width="3.0" height="4.0" fill="none" stroke="#d6d8df" stroke-width="0.7"/>
<line x1="1617.3" y1="1112.5" x2="1577.6" y2="1153.0" stroke="#d6d8df" stroke-width="1.0"/>
<path d="M1579.5,1096.7 Q1610,1100 1622.3,1118.5" fill="none" stroke="#d6d8df" stroke-width="0.9"/>
<line x1="1509.8" y1="1117.6" x2="1546.6" y2="1154.4" stroke="#d6d8df" stroke-width="1.0"/>
<path d="M1516.8,1110.6 Q1496,1130 1495,1153" fill="none" stroke="#d6d8df" stroke-width="0.9"/>
<line x1="1719.8" y1="1023.0" x2="1757.5" y2="1061.9" stroke="#d6d8df" stroke-width="1.0"/>
<path d="M1771.4,1025 Q1770,1060 1749.5,1068" fill="none" stroke="#d6d8df" stroke-width="0.9"/>
<line x1="1786.3" y1="867.5" x2="1786.3" y2="957.4" stroke="#d6d8df" stroke-width="1.1"/>
<line x1="1786.3" y1="957.4" x2="1821.0" y2="957.4" stroke="#d6d8df" stroke-width="1.1"/>
<rect x="1789.3" y="871.9" width="29.9" height="44.7" fill="none" stroke="#d6d8df" stroke-width="1.0"/>
<circle cx="1798.0" cy="881.8" r="3.8" fill="none" stroke="#d6d8df" stroke-width="0.9"/>
<circle cx="1812.0" cy="881.8" r="4.8" fill="none" stroke="#d6d8df" stroke-width="0.9"/>
<circle cx="1798.0" cy="907.7" r="3.8" fill="none" stroke="#d6d8df" stroke-width="0.9"/>
<circle cx="1812.0" cy="907.7" r="4.8" fill="none" stroke="#d6d8df" stroke-width="0.9"/>
<rect x="1794.0" y="891.7" width="22.0" height="7.0" fill="none" stroke="#d6d8df" stroke-width="0.8"/>
<line x1="1804.2" y1="867.5" x2="1804.2" y2="1153.0" stroke="#d6d8df" stroke-width="0.9" stroke-dasharray="5,4"/>
<rect x="1782.4" y="961.4" width="34.8" height="53.7" fill="none" stroke="#d6d8df" stroke-width="1.0" stroke-dasharray="5,4"/>
<polyline points="1771.4,1019.0 1821.0,1019.0" fill="none" stroke="#d6d8df" stroke-width="1.1"/>
<polyline points="1771.4,1025.0 1821.0,1025.0" fill="none" stroke="#d6d8df" stroke-width="1.1"/>
<line x1="1771.4" y1="1019.0" x2="1771.4" y2="1025.0" stroke="#d6d8df" stroke-width="1.1"/>
<line x1="1786.3" y1="1025.0" x2="1786.3" y2="1153.4" stroke="#d6d8df" stroke-width="1.1"/>
<rect x="1789.3" y="1027.0" width="28.9" height="30.9" fill="none" stroke="#d6d8df" stroke-width="1.0"/>
<rect x="1792.0" y="1030.0" width="23.5" height="25.5" fill="none" stroke="#d6d8df" stroke-width="0.8"/>
<rect x="1777.8" y="1063.9" width="40" height="39.7" fill="none" stroke="#d6d8df" stroke-width="1.0" stroke-dasharray="5,4"/>
<rect x="1777.8" y="1108.6" width="40" height="39.8" fill="none" stroke="#d6d8df" stroke-width="1.0" stroke-dasharray="5,4"/>
<line x1="1214.5" y1="1153.4" x2="1827.1" y2="1153.4" stroke="#d6d8df" stroke-width="1.2"/>
<line x1="1214.5" y1="1161.3" x2="1827.1" y2="1161.3" stroke="#d6d8df" stroke-width="1.2"/>
<line x1="1293.4" y1="1155.9" x2="1341.2" y2="1155.9" stroke="#d6d8df" stroke-width="0.9"/>
<line x1="1293.4" y1="1158.8" x2="1341.2" y2="1158.8" stroke="#d6d8df" stroke-width="0.9" stroke-dasharray="6,3,2,3"/>
<line x1="1477.5" y1="1155.9" x2="1564.5" y2="1155.9" stroke="#d6d8df" stroke-width="0.9"/>
<line x1="1477.5" y1="1158.8" x2="1564.5" y2="1158.8" stroke="#d6d8df" stroke-width="0.9" stroke-dasharray="6,3,2,3"/>
<line x1="1700.8" y1="1155.9" x2="1748.6" y2="1155.9" stroke="#d6d8df" stroke-width="0.9"/>
<line x1="1700.8" y1="1158.8" x2="1748.6" y2="1158.8" stroke="#d6d8df" stroke-width="0.9" stroke-dasharray="6,3,2,3"/>
<rect x="1214.5" y="1153.6" width="6.5" height="7.5" fill="#e4e5ea"/>
<rect x="1287.5" y="1153.6" width="5.9" height="7.5" fill="#e4e5ea"/>
<rect x="1471.5" y="1153.6" width="6.0" height="7.5" fill="#e4e5ea"/>
<rect x="1564.5" y="1153.6" width="6.0" height="7.5" fill="#e4e5ea"/>
<rect x="1748.6" y="1153.6" width="5.9" height="7.5" fill="#e4e5ea"/>
<rect x="1821.0" y="1153.6" width="6.1" height="7.5" fill="#e4e5ea"/>
<rect x="1287.5" y="1153.4" width="53.7" height="9.0" fill="none" stroke="#d6d8df" stroke-width="1.0"/>
<rect x="1291.5" y="1161.3" width="50.7" height="5.0" fill="none" stroke="#d6d8df" stroke-width="1.0"/>
<line x1="1301.9" y1="1154.8" x2="1306.9" y2="1159.8" stroke="#d6d8df" stroke-width="1.2"/>
<line x1="1301.9" y1="1159.8" x2="1306.9" y2="1154.8" stroke="#d6d8df" stroke-width="1.2"/>
<rect x="1470.5" y="1153.4" width="100.0" height="9.0" fill="none" stroke="#d6d8df" stroke-width="1.0"/>
<rect x="1477.5" y="1161.3" width="90.0" height="5.0" fill="none" stroke="#d6d8df" stroke-width="1.0"/>
<rect x="1700.8" y="1153.4" width="53.7" height="9.0" fill="none" stroke="#d6d8df" stroke-width="1.0"/>
<rect x="1699.8" y="1161.3" width="51.7" height="5.0" fill="none" stroke="#d6d8df" stroke-width="1.0"/>
<line x1="1734.1" y1="1154.8" x2="1739.1" y2="1159.8" stroke="#d6d8df" stroke-width="1.2"/>
<line x1="1734.1" y1="1159.8" x2="1739.1" y2="1154.8" stroke="#d6d8df" stroke-width="1.2"/>
<line x1="1468.1" y1="1290.0" x2="1468.1" y2="1520.7" stroke="#d6d8df" stroke-width="1.2"/>
<line x1="1477.9" y1="1290.0" x2="1477.9" y2="1520.7" stroke="#d6d8df" stroke-width="1.2"/>
<line x1="1564.7" y1="1290.0" x2="1564.7" y2="1520.7" stroke="#d6d8df" stroke-width="1.2"/>
<line x1="1574.1" y1="1290.0" x2="1574.1" y2="1520.7" stroke="#d6d8df" stroke-width="1.2"/>
<line x1="1477.9" y1="1319.5" x2="1564.7" y2="1319.5" stroke="#d6d8df" stroke-width="1.1"/>
<line x1="1477.9" y1="1336.9" x2="1564.7" y2="1336.9" stroke="#d6d8df" stroke-width="1.1"/>
<line x1="1477.9" y1="1354.2" x2="1564.7" y2="1354.2" stroke="#d6d8df" stroke-width="1.1"/>
<line x1="1477.9" y1="1371.6" x2="1564.7" y2="1371.6" stroke="#d6d8df" stroke-width="1.1"/>
<line x1="1477.9" y1="1389.4" x2="1564.7" y2="1389.4" stroke="#d6d8df" stroke-width="1.1"/>
<line x1="1477.9" y1="1406.7" x2="1564.7" y2="1406.7" stroke="#d6d8df" stroke-width="1.1"/>
<line x1="1477.9" y1="1424.5" x2="1564.7" y2="1424.5" stroke="#d6d8df" stroke-width="1.1"/>
<line x1="1477.9" y1="1441.9" x2="1564.7" y2="1441.9" stroke="#d6d8df" stroke-width="1.1"/>
<line x1="1477.9" y1="1459.3" x2="1564.7" y2="1459.3" stroke="#d6d8df" stroke-width="1.1"/>
<line x1="1477.9" y1="1477.3" x2="1564.7" y2="1477.3" stroke="#d6d8df" stroke-width="1.1"/>
<line x1="1477.9" y1="1494.7" x2="1564.7" y2="1494.7" stroke="#d6d8df" stroke-width="1.1"/>
<line x1="1521.3" y1="1301.5" x2="1521.3" y2="1512.0" stroke="#d6d8df" stroke-width="1.0"/>
<polyline points="1511.5,1504.4 1521.3,1512.0 1531.1,1504.4" fill="none" stroke="#d6d8df" stroke-width="1.2"/>
<line x1="1407.4" y1="1512.0" x2="1635.3" y2="1512.0" stroke="#d6d8df" stroke-width="1.2"/>
<line x1="1407.4" y1="1520.7" x2="1477.9" y2="1520.7" stroke="#d6d8df" stroke-width="1.2"/>
<line x1="1564.7" y1="1520.7" x2="1635.3" y2="1520.7" stroke="#d6d8df" stroke-width="1.2"/>
<line x1="1407.4" y1="1512.0" x2="1407.4" y2="1520.7" stroke="#d6d8df" stroke-width="1.2"/>
<line x1="1635.3" y1="1512.0" x2="1635.3" y2="1520.7" stroke="#d6d8df" stroke-width="1.2"/>
<line x1="1407.4" y1="1608.2" x2="1635.3" y2="1608.2" stroke="#d6d8df" stroke-width="1.2"/>
<line x1="1407.4" y1="1616.9" x2="1635.3" y2="1616.9" stroke="#d6d8df" stroke-width="1.2"/>
<line x1="1407.4" y1="1608.2" x2="1407.4" y2="1616.9" stroke="#d6d8df" stroke-width="1.2"/>
<line x1="1635.3" y1="1608.2" x2="1635.3" y2="1616.9" stroke="#d6d8df" stroke-width="1.2"/>
<line x1="1416.0" y1="1512.0" x2="1416.0" y2="1616.9" stroke="#d6d8df" stroke-width="1.1"/>
<line x1="1626.6" y1="1512.0" x2="1626.6" y2="1616.9" stroke="#d6d8df" stroke-width="1.1"/>
<line x1="1468.1" y1="1520.7" x2="1468.1" y2="1616.9" stroke="#d6d8df" stroke-width="1.1"/>
<line x1="1574.1" y1="1520.7" x2="1574.1" y2="1616.9" stroke="#d6d8df" stroke-width="1.1"/>
<line x1="1477.9" y1="1608.2" x2="1477.9" y2="1616.9" stroke="#d6d8df" stroke-width="1.1"/>
<line x1="1564.7" y1="1608.2" x2="1564.7" y2="1616.9" stroke="#d6d8df" stroke-width="1.1"/>
<line x1="1433.4" y1="1520.7" x2="1433.4" y2="1608.2" stroke="#d6d8df" stroke-width="1.1"/>
<line x1="1450.8" y1="1520.7" x2="1450.8" y2="1608.2" stroke="#d6d8df" stroke-width="1.1"/>
<line x1="1590.8" y1="1520.7" x2="1590.8" y2="1608.2" stroke="#d6d8df" stroke-width="1.1"/>
<line x1="1608.2" y1="1520.7" x2="1608.2" y2="1608.2" stroke="#d6d8df" stroke-width="1.1"/>
<line x1="1416.0" y1="1564.1" x2="1468.1" y2="1564.1" stroke="#d6d8df" stroke-width="1.0"/>
<polyline points="1423.0,1555.0 1416.0,1564.1 1423.0,1573.0" fill="none" stroke="#d6d8df" stroke-width="1.2"/>
<line x1="1574.1" y1="1564.1" x2="1626.6" y2="1564.1" stroke="#d6d8df" stroke-width="1.0"/>
<polyline points="1619.6,1555.0 1626.6,1564.1 1619.6,1573.0" fill="none" stroke="#d6d8df" stroke-width="1.2"/>
<text x="1266.6" y="280.5" font-size="10.17" textLength="92.6" lengthAdjust="spacingAndGlyphs" fill="#eef0f4" stroke="#eef0f4" stroke-width="0.2">8"x8" POST (TYP.)</text>
<text x="1271.5" y="292.4" font-size="10.17" textLength="82.9" lengthAdjust="spacingAndGlyphs" fill="#eef0f4" stroke="#eef0f4" stroke-width="0.2">NOTCH POST TO</text>
<text x="1268.6" y="304.5" font-size="10.17" textLength="88.7" lengthAdjust="spacingAndGlyphs" fill="#eef0f4" stroke="#eef0f4" stroke-width="0.2">ACCEPT HEADER</text>
<text x="1267.6" y="316.5" font-size="10.17" textLength="90.6" lengthAdjust="spacingAndGlyphs" fill="#eef0f4" stroke="#eef0f4" stroke-width="0.2">AND ATTACH WITH</text>
<text x="1274.4" y="330.0" font-size="10.17" textLength="77.1" lengthAdjust="spacingAndGlyphs" fill="#eef0f4" stroke="#eef0f4" stroke-width="0.2">(2) 5/8"Ø BOLTS.</text>
<text x="1708.8" y="280.3" font-size="10.17" textLength="92.5" lengthAdjust="spacingAndGlyphs" fill="#eef0f4" stroke="#eef0f4" stroke-width="0.2">8"x8" POST (TYP.)</text>
<text x="1713.8" y="292.7" font-size="10.17" textLength="82.5" lengthAdjust="spacingAndGlyphs" fill="#eef0f4" stroke="#eef0f4" stroke-width="0.2">NOTCH POST TO</text>
<text x="1710.8" y="304.8" font-size="10.17" textLength="88.5" lengthAdjust="spacingAndGlyphs" fill="#eef0f4" stroke="#eef0f4" stroke-width="0.2">ACCEPT HEADER</text>
<text x="1709.8" y="317.1" font-size="10.17" textLength="90.5" lengthAdjust="spacingAndGlyphs" fill="#eef0f4" stroke="#eef0f4" stroke-width="0.2">AND ATTACH WITH</text>
<text x="1716.7" y="330.1" font-size="10.17" textLength="76.6" lengthAdjust="spacingAndGlyphs" fill="#eef0f4" stroke="#eef0f4" stroke-width="0.2">(2) 5/8"Ø BOLTS.</text>
<text x="1614.4" y="1335.8" font-size="10.17" textLength="92.0" lengthAdjust="spacingAndGlyphs" fill="#eef0f4" stroke="#eef0f4" stroke-width="0.2">8"x8" POST (TYP.)</text>
<text x="1619.4" y="1347.9" font-size="10.17" textLength="82.0" lengthAdjust="spacingAndGlyphs" fill="#eef0f4" stroke="#eef0f4" stroke-width="0.2">NOTCH POST TO</text>
<text x="1616.4" y="1360.5" font-size="10.17" textLength="88.0" lengthAdjust="spacingAndGlyphs" fill="#eef0f4" stroke="#eef0f4" stroke-width="0.2">ACCEPT HEADER</text>
<text x="1615.2" y="1373.0" font-size="10.17" textLength="90.5" lengthAdjust="spacingAndGlyphs" fill="#eef0f4" stroke="#eef0f4" stroke-width="0.2">AND ATTACH WITH</text>
<text x="1622.1" y="1386.0" font-size="10.17" textLength="76.6" lengthAdjust="spacingAndGlyphs" fill="#eef0f4" stroke="#eef0f4" stroke-width="0.2">(2) 5/8"Ø BOLTS.</text>
<text x="1993.4" y="927.8" font-size="10.17" textLength="92.0" lengthAdjust="spacingAndGlyphs" fill="#eef0f4" stroke="#eef0f4" stroke-width="0.2">8"x8" POST (TYP.)</text>
<text x="1998.4" y="940.5" font-size="10.17" textLength="82.0" lengthAdjust="spacingAndGlyphs" fill="#eef0f4" stroke="#eef0f4" stroke-width="0.2">NOTCH POST TO</text>
<text x="1995.4" y="952.5" font-size="10.17" textLength="88.0" lengthAdjust="spacingAndGlyphs" fill="#eef0f4" stroke="#eef0f4" stroke-width="0.2">ACCEPT HEADER</text>
<text x="1994.2" y="965.0" font-size="10.17" textLength="90.5" lengthAdjust="spacingAndGlyphs" fill="#eef0f4" stroke="#eef0f4" stroke-width="0.2">AND ATTACH WITH</text>
<text x="2001.1" y="977.7" font-size="10.17" textLength="76.6" lengthAdjust="spacingAndGlyphs" fill="#eef0f4" stroke="#eef0f4" stroke-width="0.2">(2) 5/8"Ø BOLTS.</text>
<path d="M1264.6,277.4 Q1250,277 1244,300 L1234,340 L1228,349.7" fill="none" stroke="#d6d8df" stroke-width="0.9"/>
<path d="M1706.8,276.8 Q1692,277 1686,300 L1675,340 L1669,349.4" fill="none" stroke="#d6d8df" stroke-width="0.9"/>
<path d="M1612,1332 L1604,1331 Q1600,1322 1620,1294" fill="none" stroke="#d6d8df" stroke-width="0.9"/>
<path d="M1992,924.3 L1982,925 Q1972,935 1959,950" fill="none" stroke="#d6d8df" stroke-width="0.9"/>
<text x="1135.1" y="382.1" font-size="10.17" textLength="44.4" lengthAdjust="spacingAndGlyphs" fill="#eef0f4" stroke="#eef0f4" stroke-width="0.2">SIMPSON</text>
<text x="1134.1" y="394.1" font-size="10.17" textLength="46.3" lengthAdjust="spacingAndGlyphs" fill="#eef0f4" stroke="#eef0f4" stroke-width="0.2">HUC 212-2</text>
<text x="1131.3" y="406.2" font-size="10.17" textLength="52.0" lengthAdjust="spacingAndGlyphs" fill="#eef0f4" stroke="#eef0f4" stroke-width="0.2">INTO 8"x8"</text>
<text x="1143.8" y="417.8" font-size="10.17" textLength="27.0" lengthAdjust="spacingAndGlyphs" fill="#eef0f4" stroke="#eef0f4" stroke-width="0.2">POST</text>
<text x="1867.1" y="451.6" font-size="10.17" textLength="44.4" lengthAdjust="spacingAndGlyphs" fill="#eef0f4" stroke="#eef0f4" stroke-width="0.2">SIMPSON</text>
<text x="1866.1" y="463.9" font-size="10.17" textLength="46.3" lengthAdjust="spacingAndGlyphs" fill="#eef0f4" stroke="#eef0f4" stroke-width="0.2">HUC 212-2</text>
<text x="1863.3" y="476.1" font-size="10.17" textLength="52.0" lengthAdjust="spacingAndGlyphs" fill="#eef0f4" stroke="#eef0f4" stroke-width="0.2">INTO 8"x8"</text>
<text x="1875.8" y="488.3" font-size="10.17" textLength="27.0" lengthAdjust="spacingAndGlyphs" fill="#eef0f4" stroke="#eef0f4" stroke-width="0.2">POST</text>
<text x="1134.8" y="1269.3" font-size="10.17" textLength="44.4" lengthAdjust="spacingAndGlyphs" fill="#eef0f4" stroke="#eef0f4" stroke-width="0.2">SIMPSON</text>
<text x="1133.8" y="1281.8" font-size="10.17" textLength="46.3" lengthAdjust="spacingAndGlyphs" fill="#eef0f4" stroke="#eef0f4" stroke-width="0.2">HUC 212-2</text>
<text x="1131.0" y="1293.8" font-size="10.17" textLength="52.0" lengthAdjust="spacingAndGlyphs" fill="#eef0f4" stroke="#eef0f4" stroke-width="0.2">INTO 8"x8"</text>
<text x="1143.5" y="1306.9" font-size="10.17" textLength="27.0" lengthAdjust="spacingAndGlyphs" fill="#eef0f4" stroke="#eef0f4" stroke-width="0.2">POST</text>
<text x="1866.4" y="1319.9" font-size="10.17" textLength="44.4" lengthAdjust="spacingAndGlyphs" fill="#eef0f4" stroke="#eef0f4" stroke-width="0.2">SIMPSON</text>
<text x="1865.4" y="1332.5" font-size="10.17" textLength="46.3" lengthAdjust="spacingAndGlyphs" fill="#eef0f4" stroke="#eef0f4" stroke-width="0.2">HUC 212-2</text>
<text x="1862.6" y="1344.5" font-size="10.17" textLength="52.0" lengthAdjust="spacingAndGlyphs" fill="#eef0f4" stroke="#eef0f4" stroke-width="0.2">INTO 8"x8"</text>
<text x="1875.1" y="1356.5" font-size="10.17" textLength="27.0" lengthAdjust="spacingAndGlyphs" fill="#eef0f4" stroke="#eef0f4" stroke-width="0.2">POST</text>
<path d="M1181.7,378.6 Q1195,380 1212.6,368" fill="none" stroke="#d6d8df" stroke-width="0.9"/>
<polygon points="1209.5,370.6 1212.6,368.0 1208.7,368.8" fill="#d6d8df" stroke="#d6d8df" stroke-width="1.0"/>
<path d="M1867,448 Q1850,450 1829,424" fill="none" stroke="#d6d8df" stroke-width="0.9"/>
<path d="M1911,448 Q1930,450 1951,424" fill="none" stroke="#d6d8df" stroke-width="0.9"/>
<path d="M1181,1265.8 Q1198,1265 1214,1284" fill="none" stroke="#d6d8df" stroke-width="0.9"/>
<polygon points="1210.9,1281.5 1214.0,1284.0 1212.5,1280.3" fill="#d6d8df" stroke="#d6d8df" stroke-width="1.0"/>
<path d="M1911,1316 Q1930,1318 1950,1301" fill="none" stroke="#d6d8df" stroke-width="0.9"/>
<polygon points="1948.0,1304.4 1950.0,1301.0 1946.6,1303.0" fill="#d6d8df" stroke="#d6d8df" stroke-width="1.0"/>
<text x="1268.5" y="369.5" font-size="9.59" textLength="69.5" lengthAdjust="spacingAndGlyphs" fill="#eef0f4" stroke="#eef0f4" stroke-width="0.2">(2) 2x12 (TYP.)</text>
<text x="1700.9" y="369.5" font-size="9.59" textLength="69.5" lengthAdjust="spacingAndGlyphs" fill="#eef0f4" stroke="#eef0f4" stroke-width="0.2">(2) 2x12 (TYP.)</text>
<text x="1485.5" y="1294.5" font-size="9.59" textLength="69.5" lengthAdjust="spacingAndGlyphs" fill="#eef0f4" stroke="#eef0f4" stroke-width="0.2">(2) 2x12 (TYP.)</text>
<circle cx="1268.5" cy="495.3" r="17.5" fill="none" stroke="#d6d8df" stroke-width="1.1"/>
<line x1="1251.0" y1="495.3" x2="1286.0" y2="495.3" stroke="#d6d8df" stroke-width="1.0"/>
<text x="1268.5" y="492.1" font-size="10.17" text-anchor="middle" fill="#eef0f4" stroke="#eef0f4" stroke-width="0.2">A</text>
<text x="1268.5" y="505.5" font-size="10.17" font-weight="400" text-anchor="middle" textLength="18.0" lengthAdjust="spacingAndGlyphs" fill="#eef0f4">S-2</text>
<circle cx="1376.9" cy="499.2" r="17.5" fill="none" stroke="#d6d8df" stroke-width="1.1"/>
<line x1="1359.4" y1="499.2" x2="1394.4" y2="499.2" stroke="#d6d8df" stroke-width="1.0"/>
<text x="1376.9" y="496.0" font-size="10.17" text-anchor="middle" fill="#eef0f4" stroke="#eef0f4" stroke-width="0.2">C</text>
<text x="1376.9" y="509.4" font-size="10.17" font-weight="400" text-anchor="middle" textLength="18.0" lengthAdjust="spacingAndGlyphs" fill="#eef0f4">S-2</text>
<circle cx="1471.4" cy="495.3" r="17.5" fill="none" stroke="#d6d8df" stroke-width="1.1"/>
<line x1="1453.9" y1="495.3" x2="1488.9" y2="495.3" stroke="#d6d8df" stroke-width="1.0"/>
<text x="1471.4" y="492.1" font-size="10.17" text-anchor="middle" fill="#eef0f4" stroke="#eef0f4" stroke-width="0.2">B</text>
<text x="1471.4" y="505.5" font-size="10.17" font-weight="400" text-anchor="middle" textLength="18.0" lengthAdjust="spacingAndGlyphs" fill="#eef0f4">S-2</text>
<circle cx="1570.6" cy="494.6" r="17.5" fill="none" stroke="#d6d8df" stroke-width="1.1"/>
<line x1="1553.1" y1="494.6" x2="1588.1" y2="494.6" stroke="#d6d8df" stroke-width="1.0"/>
<text x="1570.6" y="491.4" font-size="10.17" text-anchor="middle" fill="#eef0f4" stroke="#eef0f4" stroke-width="0.2">B</text>
<text x="1570.6" y="504.8" font-size="10.17" font-weight="400" text-anchor="middle" textLength="18.0" lengthAdjust="spacingAndGlyphs" fill="#eef0f4">S-2</text>
<circle cx="1718.4" cy="498.6" r="17.5" fill="none" stroke="#d6d8df" stroke-width="1.1"/>
<line x1="1700.9" y1="498.6" x2="1735.9" y2="498.6" stroke="#d6d8df" stroke-width="1.0"/>
<text x="1718.4" y="495.4" font-size="10.17" text-anchor="middle" fill="#eef0f4" stroke="#eef0f4" stroke-width="0.2">C</text>
<text x="1718.4" y="508.8" font-size="10.17" font-weight="400" text-anchor="middle" textLength="18.0" lengthAdjust="spacingAndGlyphs" fill="#eef0f4">S-2</text>
<circle cx="1773.4" cy="494.6" r="17.5" fill="none" stroke="#d6d8df" stroke-width="1.1"/>
<line x1="1755.9" y1="494.6" x2="1790.9" y2="494.6" stroke="#d6d8df" stroke-width="1.0"/>
<text x="1773.4" y="491.4" font-size="10.17" text-anchor="middle" fill="#eef0f4" stroke="#eef0f4" stroke-width="0.2">A</text>
<text x="1773.4" y="504.8" font-size="10.17" font-weight="400" text-anchor="middle" textLength="18.0" lengthAdjust="spacingAndGlyphs" fill="#eef0f4">S-2</text>
<text x="1248.5" y="523.9" font-size="10.17" textLength="40.0" lengthAdjust="spacingAndGlyphs" fill="#eef0f4" stroke="#eef0f4" stroke-width="0.2">APA-PF</text>
<text x="1451.4" y="523.9" font-size="10.17" textLength="40.0" lengthAdjust="spacingAndGlyphs" fill="#eef0f4" stroke="#eef0f4" stroke-width="0.2">APA-PF</text>
<text x="1460.4" y="535.9" font-size="10.17" textLength="22.0" lengthAdjust="spacingAndGlyphs" fill="#eef0f4" stroke="#eef0f4" stroke-width="0.2">END</text>
<text x="1550.6" y="523.9" font-size="10.17" textLength="40.0" lengthAdjust="spacingAndGlyphs" fill="#eef0f4" stroke="#eef0f4" stroke-width="0.2">APA-PF</text>
<text x="1559.6" y="535.9" font-size="10.17" textLength="22.0" lengthAdjust="spacingAndGlyphs" fill="#eef0f4" stroke="#eef0f4" stroke-width="0.2">END</text>
<text x="1753.4" y="523.9" font-size="10.17" textLength="40.0" lengthAdjust="spacingAndGlyphs" fill="#eef0f4" stroke="#eef0f4" stroke-width="0.2">APA-PF</text>
<polyline points="1251.0,495.3 1242.5,495.3 1242.5,593.0" fill="none" stroke="#d6d8df" stroke-width="1.0"/>
<polyline points="1359.4,499.2 1350.5,499.2 1350.5,551.2" fill="none" stroke="#d6d8df" stroke-width="1.0"/>
<polygon points="1349.3,546.4 1350.5,551.2 1351.7,546.4" fill="#d6d8df" stroke="#d6d8df" stroke-width="1.0"/>
<polyline points="1453.9,495.3 1445.0,495.3 1429.6,558.0" fill="none" stroke="#d6d8df" stroke-width="1.0"/>
<polyline points="1588.1,494.6 1597.4,494.6 1613.3,557.5" fill="none" stroke="#d6d8df" stroke-width="1.0"/>
<polyline points="1700.9,498.6 1691.9,498.6 1691.9,550.0" fill="none" stroke="#d6d8df" stroke-width="1.0"/>
<polygon points="1690.7,545.2 1691.9,550.0 1693.1,545.2" fill="#d6d8df" stroke="#d6d8df" stroke-width="1.0"/>
<polyline points="1790.9,494.6 1800.3,494.6 1800.3,593.0" fill="none" stroke="#d6d8df" stroke-width="1.0"/>
<text x="1320.5" y="480.0" font-size="10.90" textLength="30.0" lengthAdjust="spacingAndGlyphs" transform="rotate(-90 1320.5 480.0)" fill="#eef0f4" stroke="#eef0f4" stroke-width="0.2">2x6 CJ</text>
<text x="1332.0" y="485.6" font-size="10.90" textLength="47.0" lengthAdjust="spacingAndGlyphs" transform="rotate(-90 1332.0 485.6)" fill="#eef0f4" stroke="#eef0f4" stroke-width="0.2">@ 16" O.C.</text>
<line x1="1321.5" y1="391.0" x2="1321.5" y2="533.9" stroke="#d6d8df" stroke-width="1.0"/>
<polygon points="1322.7,395.8 1321.5,391.0 1320.3,395.8" fill="#d6d8df" stroke="#d6d8df" stroke-width="1.0"/>
<polygon points="1320.3,529.1 1321.5,533.9 1322.7,529.1" fill="#d6d8df" stroke="#d6d8df" stroke-width="1.0"/>
<text x="1653.0" y="518.5" font-size="10.90" textLength="119.5" lengthAdjust="spacingAndGlyphs" transform="rotate(-90 1653.0 518.5)" fill="#eef0f4" stroke="#eef0f4" stroke-width="0.2">TRT'D 2x12 CJ @ 16" O.C.</text>
<text x="1665.5" y="526.4" font-size="10.90" textLength="135.4" lengthAdjust="spacingAndGlyphs" transform="rotate(-90 1665.5 526.4)" fill="#eef0f4" stroke="#eef0f4" stroke-width="0.2">(MAY TRIM 2" FOR SLOPE)</text>
<line x1="1654.7" y1="369.3" x2="1654.7" y2="547.3" stroke="#d6d8df" stroke-width="1.0"/>
<polygon points="1655.9,374.1 1654.7,369.3 1653.5,374.1" fill="#d6d8df" stroke="#d6d8df" stroke-width="1.0"/>
<polygon points="1653.5,542.5 1654.7,547.3 1655.9,542.5" fill="#d6d8df" stroke="#d6d8df" stroke-width="1.0"/>
<text x="1512.0" y="464.5" font-size="10.90" transform="rotate(-90 1512.0 464.5)" fill="#eef0f4" stroke="#eef0f4" stroke-width="0.2">DJ</text>
<rect x="1811.5" y="378.5" width="9.5" height="17.0" fill="#24293b"/>
<rect x="1811.5" y="486.5" width="9.5" height="17.0" fill="#24293b"/>
<rect x="1503.5" y="448.5" width="10.5" height="17.0" fill="#24293b"/>
<text x="1820.0" y="395.0" font-size="10.90" transform="rotate(-90 1820.0 395.0)" fill="#eef0f4" stroke="#eef0f4" stroke-width="0.2">DJ</text>
<text x="1820.0" y="503.0" font-size="10.90" transform="rotate(-90 1820.0 503.0)" fill="#eef0f4" stroke="#eef0f4" stroke-width="0.2">DJ</text>
<text x="1209.0" y="565.9" font-size="9.16" text-anchor="middle" fill="#eef0f4" stroke="#eef0f4" stroke-width="0.2">2</text>
<text x="1833.3" y="565.9" font-size="9.16" text-anchor="middle" fill="#eef0f4" stroke="#eef0f4" stroke-width="0.2">2</text>
<text x="1271.7" y="577.4" font-size="9.16" text-anchor="middle" fill="#eef0f4" stroke="#eef0f4" stroke-width="0.2">2</text>
<text x="1325.0" y="577.4" font-size="9.16" text-anchor="middle" fill="#eef0f4" stroke="#eef0f4" stroke-width="0.2">SP</text>
<text x="1377.4" y="577.4" font-size="9.16" text-anchor="middle" fill="#eef0f4" stroke="#eef0f4" stroke-width="0.2">SP</text>
<text x="1428.8" y="577.4" font-size="9.16" text-anchor="middle" fill="#eef0f4" stroke="#eef0f4" stroke-width="0.2">2</text>
<text x="1465.3" y="577.4" font-size="9.16" text-anchor="middle" fill="#eef0f4" stroke="#eef0f4" stroke-width="0.2">3</text>
<text x="1577.6" y="577.4" font-size="9.16" text-anchor="middle" fill="#eef0f4" stroke="#eef0f4" stroke-width="0.2">3</text>
<text x="1612.9" y="577.4" font-size="9.16" text-anchor="middle" fill="#eef0f4" stroke="#eef0f4" stroke-width="0.2">2</text>
<text x="1665.6" y="577.4" font-size="9.16" text-anchor="middle" fill="#eef0f4" stroke="#eef0f4" stroke-width="0.2">SP</text>
<text x="1718.4" y="577.4" font-size="9.16" text-anchor="middle" fill="#eef0f4" stroke="#eef0f4" stroke-width="0.2">SP</text>
<text x="1770.7" y="577.4" font-size="9.16" text-anchor="middle" fill="#eef0f4" stroke="#eef0f4" stroke-width="0.2">2</text>
<text x="1395.2" y="594.1" font-size="9.88" textLength="17.5" lengthAdjust="spacingAndGlyphs" fill="#eef0f4" stroke="#eef0f4" stroke-width="0.2">2x6</text>
<text x="1393.0" y="606.2" font-size="9.88" textLength="22.0" lengthAdjust="spacingAndGlyphs" fill="#eef0f4" stroke="#eef0f4" stroke-width="0.2">WALL</text>
<text x="1631.2" y="594.2" font-size="9.88" textLength="17.5" lengthAdjust="spacingAndGlyphs" fill="#eef0f4" stroke="#eef0f4" stroke-width="0.2">2x6</text>
<text x="1629.0" y="606.2" font-size="9.88" textLength="22.0" lengthAdjust="spacingAndGlyphs" fill="#eef0f4" stroke="#eef0f4" stroke-width="0.2">WALL</text>
<path d="M1415,591 Q1430,592 1446,568" fill="none" stroke="#d6d8df" stroke-width="0.9"/>
<polygon points="1444.7,571.8 1446.0,568.0 1443.0,570.7" fill="#d6d8df" stroke="#d6d8df" stroke-width="1.0"/>
<path d="M1629,591.2 Q1612,592 1596,568" fill="none" stroke="#d6d8df" stroke-width="0.9"/>
<polygon points="1599.0,570.7 1596.0,568.0 1597.3,571.8" fill="#d6d8df" stroke="#d6d8df" stroke-width="1.0"/>
<text x="1567.0" y="625.6" font-size="9.88" textLength="79.6" lengthAdjust="spacingAndGlyphs" fill="#eef0f4" stroke="#eef0f4" stroke-width="0.2">(2) 1.75x9.25 LVL</text>
<path d="M1567,622.2 Q1552,624 1545,600 Q1540,575 1532.7,561.6" fill="none" stroke="#d6d8df" stroke-width="0.9"/>
<text x="1371.0" y="734.6" font-size="10.90" textLength="35.0" lengthAdjust="spacingAndGlyphs" transform="rotate(-90 1371.0 734.6)" fill="#eef0f4" stroke="#eef0f4" stroke-width="0.2">FLOOR</text>
<text x="1383.0" y="731.4" font-size="10.90" textLength="29.5" lengthAdjust="spacingAndGlyphs" transform="rotate(-90 1383.0 731.4)" fill="#eef0f4" stroke="#eef0f4" stroke-width="0.2">TRUSS</text>
<line x1="1373.5" y1="591.2" x2="1373.5" y2="842.2" stroke="#d6d8df" stroke-width="1.0"/>
<polygon points="1374.7,596.0 1373.5,591.2 1372.3,596.0" fill="#d6d8df" stroke="#d6d8df" stroke-width="1.0"/>
<polygon points="1372.3,837.4 1373.5,842.2 1374.7,837.4" fill="#d6d8df" stroke="#d6d8df" stroke-width="1.0"/>
<text x="1740.5" y="735.0" font-size="10.90" textLength="35.0" lengthAdjust="spacingAndGlyphs" transform="rotate(-90 1740.5 735.0)" fill="#eef0f4" stroke="#eef0f4" stroke-width="0.2">FLOOR</text>
<text x="1752.0" y="731.0" font-size="10.90" textLength="29.5" lengthAdjust="spacingAndGlyphs" transform="rotate(-90 1752.0 731.0)" fill="#eef0f4" stroke="#eef0f4" stroke-width="0.2">TRUSS</text>
<line x1="1742.6" y1="591.2" x2="1742.6" y2="842.2" stroke="#d6d8df" stroke-width="1.0"/>
<polygon points="1743.8,596.0 1742.6,591.2 1741.4,596.0" fill="#d6d8df" stroke="#d6d8df" stroke-width="1.0"/>
<polygon points="1741.4,837.4 1742.6,842.2 1743.8,837.4" fill="#d6d8df" stroke="#d6d8df" stroke-width="1.0"/>
<text x="1512.7" y="771.5" font-size="10.61" textLength="113.9" lengthAdjust="spacingAndGlyphs" transform="rotate(-90 1512.7 771.5)" fill="#eef0f4" stroke="#eef0f4" stroke-width="0.2">(2) 1.75x16 LVL (FLUSH)</text>
<text x="1400.5" y="792.6" font-size="10.47" textLength="41.5" lengthAdjust="spacingAndGlyphs" fill="#eef0f4" stroke="#eef0f4" stroke-width="0.2">635 PLF</text>
<text x="1685.2" y="792.6" font-size="10.47" textLength="45.8" lengthAdjust="spacingAndGlyphs" fill="#eef0f4" stroke="#eef0f4" stroke-width="0.2">600 PLF</text>
<text x="1557.1" y="754.0" font-size="10.17" textLength="73.8" lengthAdjust="spacingAndGlyphs" fill="#eef0f4" stroke="#eef0f4" stroke-width="0.2">•PLACE TRUSS</text>
<text x="1558.2" y="765.5" font-size="10.17" textLength="71.7" lengthAdjust="spacingAndGlyphs" fill="#eef0f4" stroke="#eef0f4" stroke-width="0.2">OR BLOCK AT</text>
<text x="1562.3" y="777.8" font-size="10.17" textLength="63.3" lengthAdjust="spacingAndGlyphs" fill="#eef0f4" stroke="#eef0f4" stroke-width="0.2">POINT LOAD</text>
<path d="M1630.8,750.5 Q1645,750 1655,768 L1670.9,793.7" fill="none" stroke="#d6d8df" stroke-width="0.9"/>
<text x="1622.4" y="832.0" font-size="10.17" textLength="46.4" lengthAdjust="spacingAndGlyphs" fill="#eef0f4" stroke="#eef0f4" stroke-width="0.2">5 1/4"x5 1/4"</text>
<text x="1614.0" y="844.7" font-size="10.17" textLength="64.3" lengthAdjust="spacingAndGlyphs" fill="#eef0f4" stroke="#eef0f4" stroke-width="0.2">PSL COLUMN</text>
<path d="M1622.4,828.5 Q1606,828 1598,840 L1584.4,862" fill="none" stroke="#d6d8df" stroke-width="0.9"/>
<text x="1444.2" y="833.0" font-size="10.17" textLength="43.2" lengthAdjust="spacingAndGlyphs" fill="#eef0f4" stroke="#eef0f4" stroke-width="0.2">SIMPSON</text>
<text x="1444.2" y="845.3" font-size="10.17" textLength="43.2" lengthAdjust="spacingAndGlyphs" fill="#eef0f4" stroke="#eef0f4" stroke-width="0.2">HGUS 414</text>
<path d="M1487.5,829.5 Q1500,830 1506,842 L1518,858" fill="none" stroke="#d6d8df" stroke-width="0.9"/>
<text x="1416.4" y="857.1" font-size="9.16" text-anchor="middle" fill="#eef0f4" stroke="#eef0f4" stroke-width="0.2">4</text>
<text x="1834.0" y="867.5" font-size="9.16" text-anchor="middle" fill="#eef0f4" stroke="#eef0f4" stroke-width="0.2">4</text>
<text x="1856.4" y="647.3" font-size="10.17" textLength="72.3" lengthAdjust="spacingAndGlyphs" fill="#eef0f4" stroke="#eef0f4" stroke-width="0.2">SIMPSON CS16</text>
<text x="1844.7" y="659.5" font-size="10.17" textLength="95.8" lengthAdjust="spacingAndGlyphs" fill="#eef0f4" stroke="#eef0f4" stroke-width="0.2">TO GIRDER BELOW</text>
<text x="1837.4" y="671.8" font-size="10.17" textLength="110.3" lengthAdjust="spacingAndGlyphs" fill="#eef0f4" stroke="#eef0f4" stroke-width="0.2">(12" LONG EACH END)</text>
<path d="M1856,643.8 L1846,643.8 Q1838,640 1831,626" fill="none" stroke="#d6d8df" stroke-width="0.9"/>
<text x="1979.0" y="895.4" font-size="10.61" textLength="68.7" lengthAdjust="spacingAndGlyphs" transform="rotate(-90 1979.0 895.4)" fill="#eef0f4" stroke="#eef0f4" stroke-width="0.2">(2) 2x12 (TYP.)</text>
<text x="1875.0" y="924.2" font-size="10.17" textLength="34.4" lengthAdjust="spacingAndGlyphs" fill="#eef0f4" stroke="#eef0f4" stroke-width="0.2">2x6 CJ</text>
<text x="1868.7" y="936.8" font-size="10.17" textLength="47.0" lengthAdjust="spacingAndGlyphs" fill="#eef0f4" stroke="#eef0f4" stroke-width="0.2">@ 16" O.C.</text>
<line x1="1838.0" y1="927.2" x2="1946.4" y2="927.2" stroke="#d6d8df" stroke-width="1.0"/>
<polygon points="1842.8,926.0 1838.0,927.2 1842.8,928.4" fill="#d6d8df" stroke="#d6d8df" stroke-width="1.0"/>
<polygon points="1941.6,928.4 1946.4,927.2 1941.6,926.0" fill="#d6d8df" stroke="#d6d8df" stroke-width="1.0"/>
<text x="1300.1" y="994.7" font-size="10.17" textLength="34.8" lengthAdjust="spacingAndGlyphs" fill="#eef0f4" stroke="#eef0f4" stroke-width="0.2">FLOOR</text>
<text x="1302.6" y="1006.7" font-size="10.17" textLength="29.8" lengthAdjust="spacingAndGlyphs" fill="#eef0f4" stroke="#eef0f4" stroke-width="0.2">TRUSS</text>
<line x1="1240.7" y1="997.2" x2="1393.9" y2="997.2" stroke="#d6d8df" stroke-width="1.0"/>
<polygon points="1245.5,996.0 1240.7,997.2 1245.5,998.4" fill="#d6d8df" stroke="#d6d8df" stroke-width="1.0"/>
<polygon points="1389.1,998.4 1393.9,997.2 1389.1,996.0" fill="#d6d8df" stroke="#d6d8df" stroke-width="1.0"/>
<text x="1448.6" y="945.5" font-size="11.63" textLength="63.7" lengthAdjust="spacingAndGlyphs" transform="rotate(-90 1448.6 945.5)" fill="#eef0f4" stroke="#eef0f4" stroke-width="0.2">DOWN 18 R</text>
<text x="1432.7" y="1054.0" font-size="11.63" textLength="33.0" lengthAdjust="spacingAndGlyphs" transform="rotate(-90 1432.7 1054.0)" fill="#eef0f4" stroke="#eef0f4" stroke-width="0.2">UP 16</text>
<text x="1439.7" y="1039.5" font-size="10.17" textLength="21.8" lengthAdjust="spacingAndGlyphs" fill="#eef0f4" stroke="#eef0f4" stroke-width="0.2">HGR</text>
<text x="1431.7" y="1070.3" font-size="9.88" textLength="37.8" lengthAdjust="spacingAndGlyphs" fill="#eef0f4" stroke="#eef0f4" stroke-width="0.2">(2) 2x10</text>
<text x="1407.8" y="1028.2" font-size="9.16" text-anchor="middle" fill="#eef0f4" stroke="#eef0f4" stroke-width="0.2">3</text>
<text x="1497.3" y="1034.0" font-size="10.90" textLength="30.0" lengthAdjust="spacingAndGlyphs" transform="rotate(-90 1497.3 1034.0)" fill="#eef0f4" stroke="#eef0f4" stroke-width="0.2">TRUSS</text>
<text x="1517.8" y="1030.0" font-size="10.90" textLength="34.0" lengthAdjust="spacingAndGlyphs" transform="rotate(-90 1517.8 1030.0)" fill="#eef0f4" stroke="#eef0f4" stroke-width="0.2">FLOOR</text>
<text x="1529.7" y="1027.0" font-size="10.90" textLength="30.0" lengthAdjust="spacingAndGlyphs" transform="rotate(-90 1529.7 1027.0)" fill="#eef0f4" stroke="#eef0f4" stroke-width="0.2">TRUSS</text>
<line x1="1519.8" y1="892.8" x2="1519.8" y2="1127.5" stroke="#d6d8df" stroke-width="1.0"/>
<polygon points="1521.0,897.6 1519.8,892.8 1518.6,897.6" fill="#d6d8df" stroke="#d6d8df" stroke-width="1.0"/>
<polygon points="1518.6,1122.7 1519.8,1127.5 1521.0,1122.7" fill="#d6d8df" stroke="#d6d8df" stroke-width="1.0"/>
<text x="1208.0" y="1135.5" font-size="10.61" textLength="35.8" lengthAdjust="spacingAndGlyphs" transform="rotate(-90 1208.0 1135.5)" fill="#eef0f4" stroke="#eef0f4" stroke-width="0.2">(2) 2x10</text>
<text x="1429.7" y="1141.4" font-size="10.61" textLength="38.8" lengthAdjust="spacingAndGlyphs" transform="rotate(-90 1429.7 1141.4)" fill="#eef0f4" stroke="#eef0f4" stroke-width="0.2">(2) 2x10</text>
<text x="1259.6" y="1079.3" font-size="10.17" textLength="71.6" lengthAdjust="spacingAndGlyphs" fill="#eef0f4" stroke="#eef0f4" stroke-width="0.2">SIMPSON CS16</text>
<text x="1247.7" y="1091.2" font-size="10.17" textLength="96.5" lengthAdjust="spacingAndGlyphs" fill="#eef0f4" stroke="#eef0f4" stroke-width="0.2">TO GIRDER BELOW</text>
<path d="M1259,1075.8 Q1240,1075 1232,1085 L1221,1090" fill="none" stroke="#d6d8df" stroke-width="0.9"/>
<text x="1300.4" y="1128.3" font-size="9.88" textLength="29.8" lengthAdjust="spacingAndGlyphs" fill="#eef0f4" stroke="#eef0f4" stroke-width="0.2">TRUSS</text>
<text x="1584.4" y="890.4" font-size="10.17" textLength="70.6" lengthAdjust="spacingAndGlyphs" fill="#eef0f4" stroke="#eef0f4" stroke-width="0.2">(2) 1.75x16 LVL</text>
<text x="1601.3" y="901.7" font-size="10.17" textLength="37.8" lengthAdjust="spacingAndGlyphs" fill="#eef0f4" stroke="#eef0f4" stroke-width="0.2">(FLUSH)</text>
<text x="1558.6" y="945.6" font-size="9.16" text-anchor="middle" fill="#eef0f4" stroke="#eef0f4" stroke-width="0.2">3</text>
<text x="1567.5" y="946.0" font-size="9.88" textLength="37.8" lengthAdjust="spacingAndGlyphs" fill="#eef0f4" stroke="#eef0f4" stroke-width="0.2">(2) 2x10</text>
<text x="1635.6" y="1028.2" font-size="9.16" text-anchor="middle" fill="#eef0f4" stroke="#eef0f4" stroke-width="0.2">3</text>
<text x="1733.6" y="1030.0" font-size="10.90" textLength="35.0" lengthAdjust="spacingAndGlyphs" transform="rotate(-90 1733.6 1030.0)" fill="#eef0f4" stroke="#eef0f4" stroke-width="0.2">FLOOR</text>
<text x="1745.6" y="1027.0" font-size="10.90" textLength="30.0" lengthAdjust="spacingAndGlyphs" transform="rotate(-90 1745.6 1027.0)" fill="#eef0f4" stroke="#eef0f4" stroke-width="0.2">TRUSS</text>
<line x1="1735.6" y1="898.7" x2="1735.6" y2="1125.5" stroke="#d6d8df" stroke-width="1.0"/>
<polygon points="1736.8,903.5 1735.6,898.7 1734.4,903.5" fill="#d6d8df" stroke="#d6d8df" stroke-width="1.0"/>
<polygon points="1734.4,1120.7 1735.6,1125.5 1736.8,1120.7" fill="#d6d8df" stroke="#d6d8df" stroke-width="1.0"/>
<text x="1294.4" y="1151.0" font-size="9.88" textLength="39.8" lengthAdjust="spacingAndGlyphs" fill="#eef0f4" stroke="#eef0f4" stroke-width="0.2">(3) 2x10</text>
<text x="1498.9" y="1151.0" font-size="9.88" textLength="39.8" lengthAdjust="spacingAndGlyphs" fill="#eef0f4" stroke="#eef0f4" stroke-width="0.2">(3) 2x10</text>
<text x="1703.8" y="1151.0" font-size="9.88" textLength="39.8" lengthAdjust="spacingAndGlyphs" fill="#eef0f4" stroke="#eef0f4" stroke-width="0.2">(3) 2x10</text>
<text x="1207.9" y="1161.5" font-size="9.16" text-anchor="middle" fill="#eef0f4" stroke="#eef0f4" stroke-width="0.2">2</text>
<text x="1287.5" y="1172.5" font-size="9.16" text-anchor="middle" fill="#eef0f4" stroke="#eef0f4" stroke-width="0.2">3</text>
<text x="1470.5" y="1172.5" font-size="9.16" text-anchor="middle" fill="#eef0f4" stroke="#eef0f4" stroke-width="0.2">2</text>
<text x="1571.0" y="1172.5" font-size="9.16" text-anchor="middle" fill="#eef0f4" stroke="#eef0f4" stroke-width="0.2">2</text>
<text x="1755.5" y="1172.5" font-size="9.16" text-anchor="middle" fill="#eef0f4" stroke="#eef0f4" stroke-width="0.2">3</text>
<text x="1833.1" y="1160.5" font-size="9.16" text-anchor="middle" fill="#eef0f4" stroke="#eef0f4" stroke-width="0.2">2</text>
<text x="1471.4" y="1248.0" font-size="10.61" textLength="30.0" lengthAdjust="spacingAndGlyphs" transform="rotate(-90 1471.4 1248.0)" fill="#eef0f4" stroke="#eef0f4" stroke-width="0.2">2x6 CJ</text>
<text x="1484.4" y="1252.7" font-size="10.61" textLength="48.2" lengthAdjust="spacingAndGlyphs" transform="rotate(-90 1484.4 1252.7)" fill="#eef0f4" stroke="#eef0f4" stroke-width="0.2">@ 16" O.C.</text>
<line x1="1473.8" y1="1178.0" x2="1473.8" y2="1279.0" stroke="#d6d8df" stroke-width="1.0"/>
<polygon points="1475.0,1182.8 1473.8,1178.0 1472.6,1182.8" fill="#d6d8df" stroke="#d6d8df" stroke-width="1.0"/>
<polygon points="1472.6,1274.2 1473.8,1279.0 1475.0,1274.2" fill="#d6d8df" stroke="#d6d8df" stroke-width="1.0"/>
<text x="1821.0" y="1250.3" font-size="10.61" textLength="33.7" lengthAdjust="spacingAndGlyphs" transform="rotate(-90 1821.0 1250.3)" fill="#eef0f4" stroke="#eef0f4" stroke-width="0.2">(2) 2x8</text>
<text x="1520.0" y="1391.6" font-size="11.63" textLength="63.0" lengthAdjust="spacingAndGlyphs" transform="rotate(-90 1520.0 1391.6)" fill="#eef0f4" stroke="#eef0f4" stroke-width="0.2">DOWN 13 R</text>
<text x="1429.0" y="1562.5" font-size="11.34" textLength="57.6" lengthAdjust="spacingAndGlyphs" fill="#eef0f4" stroke="#eef0f4" stroke-width="0.2">DOWN  4  R</text>
<text x="1553.9" y="1562.5" font-size="11.34" textLength="57.5" lengthAdjust="spacingAndGlyphs" fill="#eef0f4" stroke="#eef0f4" stroke-width="0.2">DOWN  4  R</text>
<g transform="rotate(-44.4)" fill="#c8ccd8" fill-opacity="0.10" font-family="Liberation Serif" font-size="136">
<text class="wm" x="-587" y="1260">© MHHomeFloorPlans.com</text>
<text class="wm" x="-780" y="1497" font-size="137.5">ILLEGAL to use for Construction</text>
<text class="wm" x="-583" y="1724">Must be used for Estimations</text>
</g>
</svg></body></html>
